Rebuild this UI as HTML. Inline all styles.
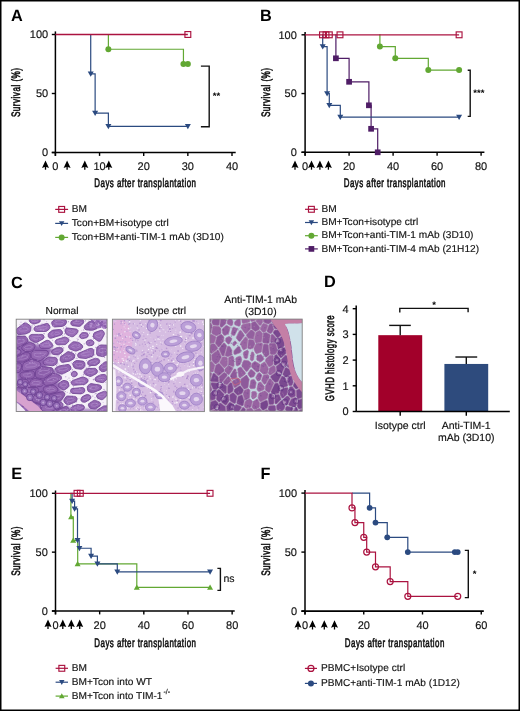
<!DOCTYPE html>
<html><head><meta charset="utf-8"><title>Figure</title>
<style>html,body{margin:0;padding:0;background:#fff;width:520px;height:711px;overflow:hidden} svg,text{font-family:"Liberation Sans",sans-serif;text-rendering:geometricPrecision}</style>
</head><body>
<svg width="520" height="711" viewBox="0 0 520 711" style="display:block;will-change:transform">
<rect x="0" y="0" width="520" height="711" fill="#fff"/>
<text transform="translate(10.90,20.70)" font-size="16.3" text-anchor="start" font-weight="bold" fill="#000" >A</text>
<line x1="55.40" y1="31.40" x2="55.40" y2="155.90" stroke="#000" stroke-width="1.5"/>
<line x1="51.80" y1="152.50" x2="235.70" y2="152.50" stroke="#000" stroke-width="1.6"/>
<line x1="51.80" y1="34.50" x2="55.40" y2="34.50" stroke="#000" stroke-width="1.4"/>
<text transform="translate(48.20,38.40)" font-size="11" text-anchor="end" font-weight="normal" fill="#111"  stroke="#111" stroke-width="0.15">100</text>
<line x1="51.80" y1="93.50" x2="55.40" y2="93.50" stroke="#000" stroke-width="1.4"/>
<text transform="translate(48.20,97.40)" font-size="11" text-anchor="end" font-weight="normal" fill="#111"  stroke="#111" stroke-width="0.15">50</text>
<line x1="51.80" y1="152.50" x2="55.40" y2="152.50" stroke="#000" stroke-width="1.4"/>
<text transform="translate(48.20,156.40)" font-size="11" text-anchor="end" font-weight="normal" fill="#111"  stroke="#111" stroke-width="0.15">0</text>
<line x1="55.40" y1="152.50" x2="55.40" y2="155.90" stroke="#000" stroke-width="1.4"/>
<text transform="translate(55.40,169.80)" font-size="11" text-anchor="middle" font-weight="normal" fill="#111"  stroke="#111" stroke-width="0.15">0</text>
<line x1="99.55" y1="152.50" x2="99.55" y2="155.90" stroke="#000" stroke-width="1.4"/>
<text transform="translate(99.55,169.80)" font-size="11" text-anchor="middle" font-weight="normal" fill="#111"  stroke="#111" stroke-width="0.15">10</text>
<line x1="143.70" y1="152.50" x2="143.70" y2="155.90" stroke="#000" stroke-width="1.4"/>
<text transform="translate(143.70,169.80)" font-size="11" text-anchor="middle" font-weight="normal" fill="#111"  stroke="#111" stroke-width="0.15">20</text>
<line x1="187.85" y1="152.50" x2="187.85" y2="155.90" stroke="#000" stroke-width="1.4"/>
<text transform="translate(187.85,169.80)" font-size="11" text-anchor="middle" font-weight="normal" fill="#111"  stroke="#111" stroke-width="0.15">30</text>
<line x1="232.00" y1="152.50" x2="232.00" y2="155.90" stroke="#000" stroke-width="1.4"/>
<text transform="translate(232.00,169.80)" font-size="11" text-anchor="middle" font-weight="normal" fill="#111"  stroke="#111" stroke-width="0.15">40</text>
<path d="M45.50,160.40 L49.00,167.90 L45.50,166.80 L42.00,167.90 Z" fill="#000"/>
<line x1="45.50" y1="164.40" x2="45.50" y2="169.70" stroke="#000" stroke-width="1.3"/>
<path d="M67.10,160.40 L70.60,167.90 L67.10,166.80 L63.60,167.90 Z" fill="#000"/>
<line x1="67.10" y1="164.40" x2="67.10" y2="169.70" stroke="#000" stroke-width="1.3"/>
<path d="M84.80,160.40 L88.30,167.90 L84.80,166.80 L81.30,167.90 Z" fill="#000"/>
<line x1="84.80" y1="164.40" x2="84.80" y2="169.70" stroke="#000" stroke-width="1.3"/>
<path d="M108.80,160.40 L112.30,167.90 L108.80,166.80 L105.30,167.90 Z" fill="#000"/>
<line x1="108.80" y1="164.40" x2="108.80" y2="169.70" stroke="#000" stroke-width="1.3"/>
<text transform="translate(20.40,92.30) rotate(-90) scale(0.67,1)" font-size="12.2" text-anchor="middle" font-weight="normal" fill="#111" stroke="#111" stroke-width="0.6" letter-spacing="0.7">Survival (%)</text>
<text transform="translate(145.40,187.00) scale(0.65,1)" font-size="12.2" text-anchor="middle" font-weight="normal" fill="#111" stroke="#111" stroke-width="0.6" letter-spacing="0.7">Days after transplantation</text>
<path d="M107.78,34.50 H108.38 V49.25 H183.44 V64.00 H187.85" stroke="#62a833" stroke-width="1.2" fill="none" stroke-linejoin="miter" stroke-linecap="butt"/>
<circle cx="108.38" cy="49.25" r="3.0" fill="#62a833"/>
<circle cx="183.44" cy="64.00" r="3.0" fill="#62a833"/>
<circle cx="187.85" cy="64.00" r="3.0" fill="#62a833"/>
<path d="M90.12,34.50 H90.72 V73.79 H95.13 V113.21 H108.38 V126.30 H187.85" stroke="#2b4a80" stroke-width="1.2" fill="none" stroke-linejoin="miter" stroke-linecap="butt"/>
<polygon points="87.72,71.45 93.72,71.45 90.72,76.65" fill="#2b4a80"/>
<polygon points="92.13,110.87 98.13,110.87 95.13,116.07" fill="#2b4a80"/>
<polygon points="105.38,123.96 111.38,123.96 108.38,129.16" fill="#2b4a80"/>
<polygon points="184.85,123.96 190.85,123.96 187.85,129.16" fill="#2b4a80"/>
<path d="M55.4,34.50 H187.85" stroke="#ab1340" stroke-width="1.35" fill="none" stroke-linejoin="miter" stroke-linecap="butt"/>
<rect x="184.92" y="31.57" width="5.85" height="5.85" fill="none" stroke="#ab1340" stroke-width="1.15"/>
<path d="M200.9,66.1 H209.2 V126.8 H200.9" stroke="#111" stroke-width="1.4" fill="none" stroke-linejoin="miter" stroke-linecap="butt"/>
<text transform="translate(216.40,99.30)" font-size="9.5" text-anchor="middle" font-weight="bold" fill="#000" >**</text>
<line x1="55.20" y1="209.40" x2="68.10" y2="209.40" stroke="#ab1340" stroke-width="1.2"/>
<rect x="58.73" y="206.47" width="5.85" height="5.85" fill="none" stroke="#ab1340" stroke-width="1.15"/>
<text transform="translate(71.80,212.00) scale(1.013,1)" font-size="10" text-anchor="start" font-weight="normal" fill="#111" stroke="#111" stroke-width="0.15">BM</text>
<line x1="55.20" y1="223.40" x2="68.10" y2="223.40" stroke="#2b4a80" stroke-width="1.2"/>
<polygon points="58.95,221.19 64.35,221.19 61.65,226.09" fill="#2b4a80"/>
<text transform="translate(71.80,226.00) scale(1.013,1)" font-size="10" text-anchor="start" font-weight="normal" fill="#111" stroke="#111" stroke-width="0.15">Tcon+BM+isotype ctrl</text>
<line x1="55.20" y1="237.40" x2="68.10" y2="237.40" stroke="#62a833" stroke-width="1.2"/>
<circle cx="61.65" cy="237.40" r="3.0" fill="#62a833"/>
<text transform="translate(71.80,240.00) scale(1.013,1)" font-size="10" text-anchor="start" font-weight="normal" fill="#111" stroke="#111" stroke-width="0.15">Tcon+BM+anti-TIM-1 mAb (3D10)</text>
<text transform="translate(260.10,20.80)" font-size="16.3" text-anchor="start" font-weight="bold" fill="#000" >B</text>
<line x1="305.10" y1="32.00" x2="305.10" y2="155.70" stroke="#000" stroke-width="1.5"/>
<line x1="301.50" y1="152.30" x2="484.40" y2="152.30" stroke="#000" stroke-width="1.6"/>
<line x1="301.50" y1="34.80" x2="305.10" y2="34.80" stroke="#000" stroke-width="1.4"/>
<text transform="translate(296.80,38.70)" font-size="11" text-anchor="end" font-weight="normal" fill="#111"  stroke="#111" stroke-width="0.15">100</text>
<line x1="301.50" y1="93.55" x2="305.10" y2="93.55" stroke="#000" stroke-width="1.4"/>
<text transform="translate(296.80,97.45)" font-size="11" text-anchor="end" font-weight="normal" fill="#111"  stroke="#111" stroke-width="0.15">50</text>
<line x1="301.50" y1="152.30" x2="305.10" y2="152.30" stroke="#000" stroke-width="1.4"/>
<text transform="translate(296.80,156.20)" font-size="11" text-anchor="end" font-weight="normal" fill="#111"  stroke="#111" stroke-width="0.15">0</text>
<line x1="305.10" y1="152.30" x2="305.10" y2="155.70" stroke="#000" stroke-width="1.4"/>
<text transform="translate(305.10,169.50)" font-size="11" text-anchor="middle" font-weight="normal" fill="#111"  stroke="#111" stroke-width="0.15">0</text>
<line x1="349.10" y1="152.30" x2="349.10" y2="155.70" stroke="#000" stroke-width="1.4"/>
<text transform="translate(349.10,169.50)" font-size="11" text-anchor="middle" font-weight="normal" fill="#111"  stroke="#111" stroke-width="0.15">20</text>
<line x1="393.10" y1="152.30" x2="393.10" y2="155.70" stroke="#000" stroke-width="1.4"/>
<text transform="translate(393.10,169.50)" font-size="11" text-anchor="middle" font-weight="normal" fill="#111"  stroke="#111" stroke-width="0.15">40</text>
<line x1="437.10" y1="152.30" x2="437.10" y2="155.70" stroke="#000" stroke-width="1.4"/>
<text transform="translate(437.10,169.50)" font-size="11" text-anchor="middle" font-weight="normal" fill="#111"  stroke="#111" stroke-width="0.15">60</text>
<line x1="481.10" y1="152.30" x2="481.10" y2="155.70" stroke="#000" stroke-width="1.4"/>
<text transform="translate(481.10,169.50)" font-size="11" text-anchor="middle" font-weight="normal" fill="#111"  stroke="#111" stroke-width="0.15">80</text>
<path d="M295.00,160.40 L298.50,167.90 L295.00,166.80 L291.50,167.90 Z" fill="#000"/>
<line x1="295.00" y1="164.40" x2="295.00" y2="169.70" stroke="#000" stroke-width="1.3"/>
<path d="M311.50,160.40 L315.00,167.90 L311.50,166.80 L308.00,167.90 Z" fill="#000"/>
<line x1="311.50" y1="164.40" x2="311.50" y2="169.70" stroke="#000" stroke-width="1.3"/>
<path d="M319.90,160.40 L323.40,167.90 L319.90,166.80 L316.40,167.90 Z" fill="#000"/>
<line x1="319.90" y1="164.40" x2="319.90" y2="169.70" stroke="#000" stroke-width="1.3"/>
<path d="M328.40,160.40 L331.90,167.90 L328.40,166.80 L324.90,167.90 Z" fill="#000"/>
<line x1="328.40" y1="164.40" x2="328.40" y2="169.70" stroke="#000" stroke-width="1.3"/>
<text transform="translate(270.40,92.30) rotate(-90) scale(0.67,1)" font-size="12.2" text-anchor="middle" font-weight="normal" fill="#111" stroke="#111" stroke-width="0.6" letter-spacing="0.7">Survival (%)</text>
<text transform="translate(394.80,187.00) scale(0.65,1)" font-size="12.2" text-anchor="middle" font-weight="normal" fill="#111" stroke="#111" stroke-width="0.6" letter-spacing="0.7">Days after transplantation</text>
<path d="M335.30,34.80 H335.90 V58.30 H349.10 V81.80 H368.90 V105.30 H371.10 V128.80 H377.70 V152.30 H377.70" stroke="#4f1d66" stroke-width="1.2" fill="none" stroke-linejoin="miter" stroke-linecap="butt"/>
<rect x="333.05" y="55.45" width="5.7" height="5.7" fill="#4f1d66"/>
<rect x="346.25" y="78.95" width="5.7" height="5.7" fill="#4f1d66"/>
<rect x="366.05" y="102.45" width="5.7" height="5.7" fill="#4f1d66"/>
<rect x="368.25" y="125.95" width="5.7" height="5.7" fill="#4f1d66"/>
<rect x="374.85" y="149.45" width="5.7" height="5.7" fill="#4f1d66"/>
<path d="M379.30,34.80 H379.90 V46.55 H395.30 V58.30 H428.30 V70.05 H459.10" stroke="#62a833" stroke-width="1.2" fill="none" stroke-linejoin="miter" stroke-linecap="butt"/>
<circle cx="379.90" cy="46.55" r="3.0" fill="#62a833"/>
<circle cx="395.30" cy="58.30" r="3.0" fill="#62a833"/>
<circle cx="428.30" cy="70.05" r="3.0" fill="#62a833"/>
<circle cx="459.10" cy="70.05" r="3.0" fill="#62a833"/>
<path d="M322.10,34.80 H322.70 V46.55 H327.10 V93.55 H329.30 V105.30 H340.30 V117.05 H459.10" stroke="#2b4a80" stroke-width="1.2" fill="none" stroke-linejoin="miter" stroke-linecap="butt"/>
<polygon points="319.70,44.21 325.70,44.21 322.70,49.41" fill="#2b4a80"/>
<polygon points="324.10,91.21 330.10,91.21 327.10,96.41" fill="#2b4a80"/>
<polygon points="326.30,102.96 332.30,102.96 329.30,108.16" fill="#2b4a80"/>
<polygon points="337.30,114.71 343.30,114.71 340.30,119.91" fill="#2b4a80"/>
<polygon points="456.10,114.71 462.10,114.71 459.10,119.91" fill="#2b4a80"/>
<path d="M305.1,34.80 H459.10" stroke="#ab1340" stroke-width="1.35" fill="none" stroke-linejoin="miter" stroke-linecap="butt"/>
<rect x="319.57" y="31.88" width="5.85" height="5.85" fill="none" stroke="#ab1340" stroke-width="1.15"/>
<rect x="323.07" y="31.88" width="5.85" height="5.85" fill="none" stroke="#ab1340" stroke-width="1.15"/>
<rect x="326.38" y="31.88" width="5.85" height="5.85" fill="none" stroke="#ab1340" stroke-width="1.15"/>
<rect x="337.07" y="31.88" width="5.85" height="5.85" fill="none" stroke="#ab1340" stroke-width="1.15"/>
<rect x="456.18" y="31.88" width="5.85" height="5.85" fill="none" stroke="#ab1340" stroke-width="1.15"/>
<path d="M467.7,70.3 H470.2 V116.4 H467.7" stroke="#111" stroke-width="1.4" fill="none" stroke-linejoin="miter" stroke-linecap="butt"/>
<text transform="translate(478.90,96.20)" font-size="9.5" text-anchor="middle" font-weight="bold" fill="#000" >***</text>
<line x1="305.00" y1="209.30" x2="317.80" y2="209.30" stroke="#ab1340" stroke-width="1.2"/>
<rect x="308.47" y="206.38" width="5.85" height="5.85" fill="none" stroke="#ab1340" stroke-width="1.15"/>
<text transform="translate(321.40,211.90) scale(1.013,1)" font-size="10" text-anchor="start" font-weight="normal" fill="#111" stroke="#111" stroke-width="0.15">BM</text>
<line x1="305.00" y1="222.50" x2="317.80" y2="222.50" stroke="#2b4a80" stroke-width="1.2"/>
<polygon points="308.70,220.29 314.10,220.29 311.40,225.19" fill="#2b4a80"/>
<text transform="translate(321.40,225.10) scale(1.013,1)" font-size="10" text-anchor="start" font-weight="normal" fill="#111" stroke="#111" stroke-width="0.15">BM+Tcon+isotype ctrl</text>
<line x1="305.00" y1="235.70" x2="317.80" y2="235.70" stroke="#62a833" stroke-width="1.2"/>
<circle cx="311.40" cy="235.70" r="3.0" fill="#62a833"/>
<text transform="translate(321.40,238.30) scale(1.013,1)" font-size="10" text-anchor="start" font-weight="normal" fill="#111" stroke="#111" stroke-width="0.15">BM+Tcon+anti-TIM-1 mAb (3D10)</text>
<line x1="305.00" y1="248.90" x2="317.80" y2="248.90" stroke="#4f1d66" stroke-width="1.2"/>
<rect x="308.55" y="246.05" width="5.7" height="5.7" fill="#4f1d66"/>
<text transform="translate(321.40,251.50) scale(1.013,1)" font-size="10" text-anchor="start" font-weight="normal" fill="#111" stroke="#111" stroke-width="0.15">BM+Tcon+anti-TIM-4 mAb (21H12)</text>
<text transform="translate(10.90,287.50)" font-size="16.3" text-anchor="start" font-weight="bold" fill="#000" >C</text>
<defs><filter id="hb" x="-5%" y="-5%" width="110%" height="110%"><feGaussianBlur stdDeviation="0.45"/></filter><filter id="hb2" x="-10%" y="-10%" width="120%" height="120%"><feGaussianBlur stdDeviation="1.6"/></filter>
<clipPath id="c0"><rect x="16.2" y="319.2" width="90.9" height="92.3"/></clipPath>
<clipPath id="c1"><rect x="112.4" y="319.2" width="92.0" height="92.4"/></clipPath>
<clipPath id="c2"><rect x="209.9" y="319.1" width="92.3" height="92.1"/></clipPath>
</defs>
<g clip-path="url(#c0)"><g transform="translate(16.2,319.2)" filter="url(#hb)">
<rect x="-1" y="-1" width="94" height="95" fill="#f5f0f8"/>
<g filter="url(#hb2)"><path d="M0.0,14.0 L8.0,20.0 L22.0,26.0 L38.0,30.0 L30.0,40.0 L30.0,48.0 L44.0,54.0 L42.0,64.0 L48.0,76.0 L42.0,86.0 L60.0,90.0 L92.0,90.0 L92.0,93.0 L0.0,93.0 Z" fill="#9063b0"/></g>
<path d="M2.1,89.4 L-0.6,89.3 L-1.5,89.7 L-2.4,90.9 L-2.5,91.6 L-2.5,93.2 L-2.1,94.4 L-1.2,95.2 L-0.2,95.5 L3.0,95.5 L4.2,95.1 L4.9,94.4 L5.3,93.4 L5.3,92.4 L4.9,91.5 L2.9,89.6 Z" fill="#9062ae" stroke="#6b3f8f" stroke-width="0.8"/>
<path d="M1.7,91.4 L0.2,91.4 L-0.4,91.5 L-0.9,91.9 L-1.0,92.2 L-1.0,92.8 L-0.8,93.2 L-0.2,93.5 L0.4,93.6 L2.3,93.6 L3.0,93.4 L3.4,93.2 L3.7,92.9 L3.7,92.5 L3.4,92.2 L2.2,91.5 Z" fill="none" stroke="#b391cf" stroke-width="0.6"/>
<path d="M-2.5,75.9 L-2.4,76.9 L-1.8,77.7 L-1.0,78.3 L-0.2,78.5 L0.8,78.4 L4.5,76.9 L5.2,76.1 L5.6,75.1 L6.2,71.6 L6.2,70.9 L5.8,69.9 L4.6,69.0 L1.4,68.4 L0.4,68.6 L-1.5,69.6 L-2.1,70.3 L-2.5,71.2 Z" fill="#9467b2" stroke="#6b3f8f" stroke-width="0.8"/>
<path d="M-0.9,74.2 L-0.8,74.5 L-0.4,74.8 L0.1,75.0 L0.5,75.1 L1.1,75.1 L3.3,74.5 L3.8,74.3 L4.0,73.9 L4.4,72.7 L4.3,72.4 L4.1,72.1 L3.4,71.8 L1.5,71.6 L0.9,71.6 L-0.2,72.0 L-0.6,72.3 L-0.9,72.6 Z" fill="none" stroke="#b391cf" stroke-width="0.6"/>
<path d="M2.3,88.4 L3.5,88.2 L13.9,83.5 L14.6,82.7 L14.9,81.7 L14.9,80.7 L14.3,79.5 L13.6,78.9 L12.9,78.6 L6.0,77.5 L5.1,77.6 L-0.8,80.1 L-1.6,81.0 L-1.8,82.3 L-0.8,86.7 L-0.3,87.5 L0.3,88.0 L1.0,88.3 Z" fill="#9467b2" stroke="#6b3f8f" stroke-width="0.8"/>
<path d="M3.7,84.6 L4.5,84.5 L10.7,82.9 L11.1,82.6 L11.3,82.3 L11.3,81.9 L10.9,81.5 L10.5,81.3 L10.1,81.2 L5.9,80.8 L5.4,80.8 L1.9,81.7 L1.4,82.0 L1.3,82.4 L1.9,84.0 L2.2,84.3 L2.6,84.5 L3.0,84.6 Z" fill="none" stroke="#b391cf" stroke-width="0.6"/>
<path d="M1.8,53.5 L3.4,52.9 L4.4,51.7 L5.4,46.8 L5.4,45.8 L4.8,44.6 L3.8,43.9 L-0.6,43.6 L-1.6,44.2 L-2.4,45.4 L-2.5,51.5 L-2.0,52.6 L-1.0,53.3 L-0.1,53.6 Z" fill="#9062ae" stroke="#6b3f8f" stroke-width="0.8"/>
<path d="M1.6,50.2 L2.6,50.0 L3.1,49.6 L3.8,47.9 L3.7,47.5 L3.4,47.1 L2.8,46.8 L0.2,46.7 L-0.5,46.9 L-1.0,47.4 L-1.0,49.5 L-0.7,49.9 L-0.1,50.1 L0.5,50.2 Z" fill="none" stroke="#b391cf" stroke-width="0.6"/>
<path d="M0.5,29.1 L-0.5,29.2 L-1.6,29.7 L-2.3,30.5 L-2.5,31.4 L-2.5,34.0 L-2.4,34.8 L-1.6,35.8 L-0.3,36.4 L1.0,36.2 L3.7,34.8 L4.4,34.1 L4.9,32.9 L4.7,31.7 L3.9,30.6 L1.6,29.4 Z" fill="#9467b2" stroke="#6b3f8f" stroke-width="0.8"/>
<path d="M0.6,31.4 L0.0,31.5 L-0.6,31.6 L-1.0,31.9 L-1.2,32.3 L-1.2,33.2 L-1.1,33.4 L-0.6,33.8 L0.2,34.0 L0.9,33.9 L2.6,33.4 L3.0,33.2 L3.3,32.8 L3.2,32.3 L2.7,32.0 L1.3,31.5 Z" fill="none" stroke="#b391cf" stroke-width="0.6"/>
<path d="M1.3,63.5 L0.8,64.4 L0.7,65.4 L1.0,66.4 L1.7,67.1 L2.8,67.7 L7.1,68.4 L9.5,67.7 L10.3,67.1 L12.1,63.8 L12.2,62.5 L11.8,61.3 L10.8,60.5 L5.4,59.7 L4.4,59.9 L3.8,60.3 Z" fill="#9062ae" stroke="#6b3f8f" stroke-width="0.8"/>
<path d="M3.4,63.9 L3.1,64.2 L3.1,64.5 L3.2,64.9 L3.6,65.1 L4.3,65.3 L6.9,65.6 L8.3,65.3 L8.8,65.1 L9.9,64.0 L10.0,63.5 L9.7,63.1 L9.1,62.8 L5.9,62.5 L5.3,62.6 L4.9,62.8 Z" fill="none" stroke="#b391cf" stroke-width="0.6"/>
<path d="M7.1,92.3 L7.9,92.8 L8.9,93.0 L22.3,91.7 L23.4,91.0 L24.0,90.2 L24.6,88.0 L24.5,86.7 L23.8,85.7 L23.0,85.1 L17.1,83.5 L15.9,83.6 L7.2,87.5 L6.4,88.1 L5.8,89.2 L5.7,90.2 L6.2,91.3 Z" fill="#9467b2" stroke="#6b3f8f" stroke-width="0.8"/>
<path d="M10.4,89.9 L10.9,90.1 L11.5,90.2 L19.6,89.7 L20.2,89.5 L20.6,89.2 L20.9,88.4 L20.9,88.0 L20.5,87.6 L20.0,87.4 L16.5,86.8 L15.7,86.9 L10.5,88.2 L10.0,88.4 L9.7,88.8 L9.6,89.2 L9.9,89.6 Z" fill="none" stroke="#b391cf" stroke-width="0.6"/>
<path d="M7.3,70.8 L6.7,74.7 L7.0,75.7 L8.1,76.7 L13.2,77.7 L14.1,77.7 L15.0,77.3 L21.6,72.9 L22.4,71.9 L22.5,70.4 L21.8,69.1 L20.5,68.4 L10.4,68.3 L8.5,69.0 L7.6,69.9 Z" fill="#9062ae" stroke="#6b3f8f" stroke-width="0.8"/>
<path d="M10.0,71.9 L9.6,73.3 L9.8,73.6 L10.5,74.0 L13.5,74.3 L14.1,74.3 L14.6,74.2 L18.6,72.6 L19.0,72.3 L19.1,71.8 L18.7,71.3 L17.9,71.0 L11.9,71.0 L10.7,71.3 L10.2,71.6 Z" fill="none" stroke="#b391cf" stroke-width="0.6"/>
<path d="M-0.6,18.3 L-1.4,19.2 L-1.7,20.1 L-1.7,25.9 L-1.1,27.3 L0.2,28.2 L1.4,28.3 L2.4,28.0 L10.7,23.3 L11.2,22.8 L11.7,21.8 L11.7,20.8 L11.4,19.9 L10.1,17.7 L8.9,16.9 L7.9,16.8 L0.9,17.4 Z" fill="#9062ae" stroke="#6b3f8f" stroke-width="0.8"/>
<path d="M1.3,20.7 L0.9,21.0 L0.7,21.3 L0.7,23.3 L1.1,23.8 L1.8,24.1 L2.6,24.2 L3.1,24.1 L8.1,22.4 L8.4,22.2 L8.7,21.9 L8.8,21.6 L8.6,21.2 L7.8,20.5 L7.0,20.2 L6.5,20.2 L2.3,20.4 Z" fill="none" stroke="#b391cf" stroke-width="0.6"/>
<path d="M-0.1,37.8 L-1.0,38.6 L-1.5,39.7 L-1.4,41.0 L-0.7,42.0 L0.7,42.7 L6.1,42.9 L7.1,42.7 L13.0,39.9 L13.8,39.0 L14.2,37.5 L13.8,35.0 L13.1,34.0 L12.0,33.4 L9.5,33.2 L8.5,33.5 Z" fill="#8c5eab" stroke="#6b3f8f" stroke-width="0.8"/>
<path d="M2.7,38.2 L2.1,38.5 L1.8,38.9 L1.9,39.3 L2.3,39.7 L3.1,39.9 L6.3,40.0 L6.9,39.9 L10.5,38.9 L11.0,38.6 L11.2,38.1 L11.0,37.2 L10.6,36.8 L9.9,36.6 L8.4,36.6 L7.8,36.7 Z" fill="none" stroke="#b391cf" stroke-width="0.6"/>
<path d="M15.7,80.3 L16.8,82.2 L17.9,82.8 L25.1,84.7 L26.4,84.6 L28.5,83.5 L29.3,82.6 L31.2,77.2 L31.1,75.7 L30.3,74.6 L26.8,72.2 L25.6,71.9 L24.6,72.1 L16.2,77.7 L15.8,78.4 L15.6,79.3 Z" fill="#8c5eab" stroke="#6b3f8f" stroke-width="0.8"/>
<path d="M19.0,79.2 L19.7,79.9 L20.3,80.1 L24.6,80.8 L25.4,80.7 L26.7,80.4 L27.1,80.0 L28.3,78.2 L28.2,77.6 L27.8,77.2 L25.7,76.4 L24.9,76.3 L24.3,76.4 L19.3,78.3 L19.1,78.6 L18.9,78.9 Z" fill="none" stroke="#b391cf" stroke-width="0.6"/>
<path d="M5.9,53.0 L5.0,53.3 L4.4,53.8 L3.9,54.7 L3.7,55.4 L3.8,56.2 L4.3,57.5 L4.9,58.3 L5.6,58.7 L14.1,59.9 L17.1,58.8 L17.6,58.3 L18.1,57.4 L18.3,53.6 L17.7,52.5 L16.6,51.8 L15.4,51.7 Z" fill="#8c5eab" stroke="#6b3f8f" stroke-width="0.8"/>
<path d="M8.1,54.8 L7.6,54.9 L7.2,55.1 L6.9,55.4 L6.8,55.6 L6.8,55.9 L7.1,56.4 L7.6,56.7 L8.0,56.8 L13.1,57.2 L14.8,56.8 L15.2,56.6 L15.5,56.3 L15.6,55.0 L15.2,54.6 L14.6,54.4 L13.8,54.3 Z" fill="none" stroke="#b391cf" stroke-width="0.6"/>
<path d="M8.6,32.0 L9.7,32.3 L13.6,32.4 L14.4,32.2 L16.9,30.6 L17.9,29.7 L18.7,27.5 L18.8,26.5 L18.4,25.3 L17.2,24.4 L14.3,23.2 L13.3,23.1 L12.3,23.4 L6.6,26.6 L6.0,27.2 L5.6,28.1 L5.5,28.8 L5.7,29.8 L6.4,30.8 Z" fill="#9062ae" stroke="#6b3f8f" stroke-width="0.8"/>
<path d="M10.1,29.4 L10.8,29.5 L13.1,29.6 L13.6,29.5 L15.1,28.9 L15.7,28.6 L16.2,27.9 L16.3,27.5 L16.0,27.1 L15.3,26.8 L13.5,26.3 L12.9,26.3 L12.3,26.4 L8.9,27.5 L8.6,27.7 L8.3,28.0 L8.2,28.3 L8.4,28.6 L8.8,29.0 Z" fill="none" stroke="#b391cf" stroke-width="0.6"/>
<path d="M6.0,48.6 L6.0,49.6 L6.4,50.6 L7.2,51.3 L8.1,51.7 L18.6,50.3 L23.7,47.5 L24.5,46.2 L24.5,44.9 L23.8,43.3 L22.8,42.5 L16.0,40.3 L14.7,40.2 L7.5,43.6 L6.8,44.8 Z" fill="#9467b2" stroke="#6b3f8f" stroke-width="0.8"/>
<path d="M9.5,47.0 L9.5,47.3 L9.8,47.7 L10.2,47.9 L10.8,48.0 L17.1,47.6 L20.1,46.6 L20.6,46.1 L20.6,45.7 L20.2,45.1 L19.6,44.8 L15.5,44.0 L14.8,44.0 L10.4,45.2 L10.0,45.6 Z" fill="none" stroke="#b391cf" stroke-width="0.6"/>
<path d="M15.5,60.4 L14.4,61.4 L13.0,64.3 L13.1,65.8 L13.5,66.4 L14.3,67.1 L15.5,67.4 L24.3,67.4 L25.5,67.0 L26.4,66.1 L26.7,65.1 L26.6,62.4 L26.2,61.5 L25.3,60.6 L18.9,59.2 L18.2,59.4 Z" fill="#9062ae" stroke="#6b3f8f" stroke-width="0.8"/>
<path d="M17.3,62.6 L16.6,62.9 L15.8,63.9 L15.9,64.4 L16.1,64.7 L16.6,64.9 L17.3,65.0 L22.6,65.0 L23.3,64.9 L23.8,64.5 L24.0,64.2 L24.0,63.3 L23.7,62.9 L23.2,62.6 L19.4,62.2 L18.9,62.2 Z" fill="none" stroke="#b391cf" stroke-width="0.6"/>
<path d="M0.5,13.7 L1.5,14.9 L2.9,15.4 L9.3,14.8 L12.9,13.3 L13.9,12.5 L14.4,11.6 L14.8,8.6 L14.6,7.3 L14.0,6.5 L10.4,4.0 L9.2,3.7 L8.0,3.9 L0.3,9.8 L-0.1,10.5 L-0.2,11.5 Z" fill="#9668b4" stroke="#6b3f8f" stroke-width="0.8"/>
<path d="M3.4,11.4 L3.9,11.8 L4.8,11.9 L8.6,11.7 L10.8,11.2 L11.4,10.9 L11.7,10.6 L12.0,9.6 L11.8,9.1 L11.4,8.8 L9.3,8.0 L8.6,7.8 L7.9,7.9 L3.2,10.0 L3.0,10.2 L2.9,10.6 Z" fill="none" stroke="#b391cf" stroke-width="0.6"/>
<path d="M15.2,-1.5 L14.3,-1.1 L13.6,-0.4 L13.1,0.5 L13.1,1.5 L13.8,2.9 L16.3,4.6 L17.8,4.8 L22.2,3.6 L23.1,3.2 L23.9,2.2 L24.1,1.2 L24.0,0.2 L23.4,-0.6 L22.4,-1.4 L21.3,-1.6 Z" fill="#9668b4" stroke="#6b3f8f" stroke-width="0.8"/>
<path d="M16.6,0.4 L16.0,0.5 L15.6,0.7 L15.3,1.1 L15.3,1.4 L15.7,1.9 L17.2,2.5 L18.1,2.6 L20.7,2.1 L21.3,2.0 L21.8,1.6 L21.9,1.3 L21.8,0.9 L21.5,0.6 L20.9,0.4 L20.2,0.3 Z" fill="none" stroke="#b391cf" stroke-width="0.6"/>
<path d="M15.1,37.5 L15.6,38.7 L16.6,39.5 L22.8,41.5 L24.0,41.5 L24.9,41.1 L31.3,36.2 L31.9,35.0 L32.1,33.8 L32.0,33.0 L31.2,31.8 L29.8,31.2 L18.2,31.1 L15.8,32.4 L15.0,33.4 L14.7,34.6 Z" fill="#9467b2" stroke="#6b3f8f" stroke-width="0.8"/>
<path d="M18.3,36.3 L18.6,36.7 L19.2,37.0 L22.9,37.7 L23.6,37.7 L24.2,37.5 L28.0,35.8 L28.4,35.4 L28.5,35.0 L28.4,34.7 L27.9,34.3 L27.1,34.0 L20.1,34.0 L18.7,34.5 L18.2,34.8 L18.1,35.3 Z" fill="none" stroke="#b391cf" stroke-width="0.6"/>
<path d="M19.2,56.1 L19.6,57.6 L20.8,58.6 L25.9,59.7 L27.2,59.7 L36.4,53.5 L36.8,52.9 L37.1,52.1 L36.8,50.1 L36.1,49.0 L35.0,48.4 L26.9,47.4 L25.7,47.5 L20.7,50.3 L19.9,51.0 L19.4,52.2 Z" fill="#8c5eab" stroke="#6b3f8f" stroke-width="0.8"/>
<path d="M22.5,54.2 L22.7,54.7 L23.4,55.1 L26.5,55.5 L27.3,55.5 L32.8,53.3 L33.1,53.1 L33.2,52.8 L33.1,52.1 L32.6,51.7 L32.0,51.5 L27.1,51.1 L26.4,51.2 L23.4,52.2 L22.9,52.4 L22.6,52.8 Z" fill="none" stroke="#b391cf" stroke-width="0.6"/>
<path d="M13.0,18.6 L14.3,21.0 L15.2,21.5 L19.2,23.2 L20.5,23.2 L27.0,19.7 L27.8,18.4 L27.8,17.2 L27.1,15.9 L25.8,15.2 L15.8,15.2 L14.0,15.9 L13.1,17.1 Z" fill="#9668b4" stroke="#6b3f8f" stroke-width="0.8"/>
<path d="M15.9,18.6 L16.7,19.4 L17.2,19.6 L19.6,20.2 L20.4,20.2 L24.3,19.0 L24.8,18.5 L24.8,18.1 L24.4,17.6 L23.6,17.4 L17.5,17.4 L16.5,17.7 L15.9,18.1 Z" fill="none" stroke="#b391cf" stroke-width="0.6"/>
<path d="M29.2,67.3 L28.0,67.8 L27.3,68.6 L27.0,69.8 L27.2,70.8 L27.9,71.9 L32.1,74.6 L33.3,74.7 L40.0,73.0 L41.0,72.3 L41.6,71.4 L41.6,70.1 L41.1,68.9 L38.5,66.7 L37.7,66.3 L36.5,66.2 Z" fill="#9062ae" stroke="#6b3f8f" stroke-width="0.8"/>
<path d="M31.3,69.2 L30.6,69.4 L30.1,69.7 L29.9,70.1 L30.0,70.5 L30.5,70.8 L33.0,71.8 L33.7,71.8 L37.7,71.2 L38.4,71.0 L38.7,70.7 L38.7,70.2 L38.4,69.8 L36.9,69.1 L36.4,68.9 L35.6,68.9 Z" fill="none" stroke="#b391cf" stroke-width="0.6"/>
<path d="M26.0,86.6 L25.2,89.5 L25.4,90.5 L26.0,91.3 L26.8,91.9 L33.2,92.7 L34.0,92.7 L45.5,87.9 L46.5,86.8 L46.8,85.3 L46.6,84.5 L46.0,83.7 L45.3,83.1 L44.2,82.8 L29.7,84.1 L26.6,85.7 Z" fill="#9467b2" stroke="#6b3f8f" stroke-width="0.8"/>
<path d="M29.8,87.2 L29.3,88.2 L29.4,88.5 L29.8,88.8 L30.3,89.0 L34.1,89.3 L34.6,89.3 L41.5,87.6 L42.1,87.2 L42.3,86.7 L42.1,86.4 L41.8,86.1 L41.3,85.9 L40.7,85.8 L32.0,86.3 L30.1,86.8 Z" fill="none" stroke="#b391cf" stroke-width="0.6"/>
<path d="M27.9,41.1 L27.0,42.4 L27.0,43.9 L27.6,45.0 L28.9,45.7 L36.8,46.6 L40.1,45.0 L40.6,44.4 L41.0,43.5 L41.1,40.9 L41.0,39.9 L40.2,38.9 L39.0,38.3 L33.5,37.8 L32.6,37.9 L31.7,38.3 Z" fill="#9668b4" stroke="#6b3f8f" stroke-width="0.8"/>
<path d="M30.5,41.9 L30.0,42.3 L29.9,42.8 L30.3,43.2 L31.1,43.5 L35.8,43.8 L37.8,43.2 L38.1,43.0 L38.4,42.7 L38.5,41.8 L38.3,41.4 L37.9,41.1 L37.2,40.9 L33.9,40.7 L33.3,40.7 L32.8,40.9 Z" fill="none" stroke="#b391cf" stroke-width="0.6"/>
<path d="M30.0,4.4 L19.0,7.5 L18.3,8.2 L17.9,8.9 L17.8,9.9 L18.1,10.9 L18.6,11.5 L19.4,12.1 L20.2,12.3 L29.0,12.3 L29.9,12.2 L32.9,10.1 L33.5,9.3 L33.8,8.3 L33.6,7.3 L32.8,5.5 L31.9,4.6 L30.9,4.3 Z" fill="#9a6cb7" stroke="#6b3f8f" stroke-width="0.8"/>
<path d="M28.5,7.3 L21.9,8.4 L21.4,8.6 L21.2,8.9 L21.2,9.2 L21.3,9.6 L21.6,9.8 L22.1,10.0 L22.6,10.0 L27.9,10.1 L28.4,10.0 L30.2,9.3 L30.6,9.0 L30.7,8.7 L30.7,8.3 L30.2,7.6 L29.6,7.4 L29.0,7.3 Z" fill="none" stroke="#b391cf" stroke-width="0.6"/>
<path d="M36.7,54.5 L28.1,60.4 L27.7,61.3 L27.6,64.1 L28.0,65.1 L28.6,65.7 L29.5,66.1 L30.3,66.2 L37.0,65.2 L37.8,64.9 L44.3,60.7 L45.1,59.7 L45.3,58.4 L44.9,57.3 L44.0,56.4 L39.2,54.2 L37.9,54.0 Z" fill="#9062ae" stroke="#6b3f8f" stroke-width="0.8"/>
<path d="M36.5,58.3 L31.4,60.4 L31.1,60.7 L31.1,61.7 L31.3,62.0 L31.6,62.2 L32.2,62.4 L32.7,62.4 L36.7,62.1 L37.2,62.0 L41.1,60.5 L41.5,60.1 L41.6,59.7 L41.4,59.3 L40.9,59.0 L38.0,58.2 L37.2,58.2 Z" fill="none" stroke="#b391cf" stroke-width="0.6"/>
<path d="M24.5,24.4 L23.4,25.4 L23.2,26.9 L23.3,27.6 L23.9,28.5 L25.2,29.2 L33.0,29.2 L35.5,27.9 L36.1,27.1 L36.3,26.4 L36.3,25.3 L36.0,24.6 L34.1,22.4 L33.4,21.8 L31.5,21.1 L30.0,21.3 Z" fill="#9a6cb7" stroke="#6b3f8f" stroke-width="0.8"/>
<path d="M26.7,25.2 L26.1,25.6 L25.9,26.1 L26.0,26.4 L26.3,26.7 L27.1,26.9 L31.8,26.9 L33.3,26.5 L33.6,26.2 L33.8,25.9 L33.8,25.6 L33.6,25.3 L32.5,24.5 L32.0,24.3 L30.9,24.1 L30.0,24.2 Z" fill="none" stroke="#b391cf" stroke-width="0.6"/>
<path d="M41.5,90.6 L40.6,91.1 L40.2,91.7 L39.9,93.2 L40.2,94.2 L40.7,94.8 L41.5,95.4 L42.2,95.5 L48.0,95.5 L49.0,95.4 L52.1,93.3 L52.7,92.5 L52.9,91.8 L52.8,90.8 L52.2,88.5 L51.3,87.6 L50.1,87.2 L48.9,87.4 Z" fill="#8c5eab" stroke="#6b3f8f" stroke-width="0.8"/>
<path d="M43.6,91.4 L43.1,91.6 L42.8,91.8 L42.6,92.3 L42.8,92.7 L43.1,92.9 L43.6,93.1 L44.0,93.2 L47.5,93.2 L48.1,93.1 L50.0,92.4 L50.3,92.1 L50.4,91.8 L50.4,91.5 L50.0,90.7 L49.5,90.4 L48.8,90.2 L48.0,90.3 Z" fill="none" stroke="#b391cf" stroke-width="0.6"/>
<path d="M31.4,79.3 L31.3,80.3 L31.5,81.3 L32.2,82.1 L33.3,82.7 L44.0,81.8 L45.3,80.9 L48.2,76.6 L48.6,75.4 L48.5,74.4 L48.1,73.5 L47.5,73.0 L46.8,72.6 L45.7,72.5 L34.0,75.5 L33.3,75.8 L32.5,76.4 Z" fill="#8c5eab" stroke="#6b3f8f" stroke-width="0.8"/>
<path d="M34.8,78.4 L34.8,78.7 L34.9,79.1 L35.3,79.4 L36.0,79.6 L42.4,79.2 L43.2,79.0 L44.9,77.4 L45.2,77.0 L45.1,76.7 L44.8,76.3 L44.5,76.2 L44.1,76.0 L43.5,76.0 L36.4,77.0 L36.0,77.1 L35.5,77.4 Z" fill="none" stroke="#b391cf" stroke-width="0.6"/>
<path d="M51.4,85.6 L52.9,85.5 L59.6,82.6 L60.6,81.1 L60.9,80.2 L60.9,79.2 L60.3,78.1 L59.5,77.5 L58.5,77.2 L51.6,76.8 L50.6,77.0 L50.0,77.4 L47.9,80.3 L47.7,81.1 L47.7,82.1 L48.5,83.5 L50.2,85.0 Z" fill="#9265b0" stroke="#6b3f8f" stroke-width="0.8"/>
<path d="M52.5,82.5 L53.4,82.5 L57.3,81.4 L58.0,80.9 L58.2,80.6 L58.1,80.3 L57.8,79.9 L57.3,79.7 L56.7,79.6 L52.6,79.4 L52.0,79.5 L51.6,79.6 L50.4,80.7 L50.2,80.9 L50.2,81.3 L50.7,81.8 L51.7,82.3 Z" fill="none" stroke="#b391cf" stroke-width="0.6"/>
<path d="M47.3,70.8 L48.1,70.7 L48.9,70.4 L51.7,68.4 L52.5,67.4 L52.8,66.4 L52.2,63.6 L51.6,62.5 L50.5,61.8 L47.8,61.2 L46.5,61.5 L42.9,63.9 L42.1,64.9 L41.9,65.9 L42.1,66.9 L42.7,67.7 L45.9,70.3 Z" fill="#9265b0" stroke="#6b3f8f" stroke-width="0.8"/>
<path d="M47.4,67.6 L47.9,67.6 L48.4,67.5 L50.1,66.8 L50.5,66.4 L50.7,66.1 L50.3,65.1 L50.0,64.7 L49.4,64.5 L47.7,64.2 L46.9,64.3 L44.8,65.2 L44.3,65.5 L44.2,65.9 L44.3,66.2 L44.6,66.5 L46.5,67.4 Z" fill="none" stroke="#b391cf" stroke-width="0.6"/>
<path d="M32.9,13.6 L32.3,14.3 L32.0,15.0 L32.1,17.3 L32.4,18.0 L33.2,18.7 L34.7,19.1 L44.7,16.0 L45.9,15.0 L46.3,13.5 L45.9,12.1 L45.3,11.2 L44.5,10.5 L43.5,10.3 L36.9,10.9 L36.0,11.3 Z" fill="#9668b4" stroke="#6b3f8f" stroke-width="0.8"/>
<path d="M35.3,14.1 L34.9,14.4 L34.7,14.6 L34.8,15.4 L35.0,15.7 L35.5,15.9 L36.4,16.1 L42.4,15.0 L43.1,14.6 L43.3,14.1 L43.1,13.6 L42.8,13.3 L42.3,13.1 L41.6,13.0 L37.7,13.2 L37.2,13.3 Z" fill="none" stroke="#b391cf" stroke-width="0.6"/>
<path d="M36.7,30.5 L35.9,31.1 L35.4,32.3 L35.5,33.5 L35.9,34.4 L36.7,35.1 L37.4,35.3 L41.2,35.7 L42.2,35.6 L42.8,35.3 L45.9,33.0 L46.6,32.0 L46.9,31.1 L46.7,30.1 L46.2,29.2 L45.4,28.6 L44.5,28.4 L40.4,28.5 Z" fill="#9265b0" stroke="#6b3f8f" stroke-width="0.8"/>
<path d="M38.5,31.5 L38.0,31.7 L37.7,32.1 L37.7,32.5 L38.0,32.8 L38.5,33.1 L38.9,33.1 L41.2,33.3 L41.8,33.2 L42.2,33.1 L44.0,32.3 L44.4,32.0 L44.6,31.7 L44.5,31.3 L44.2,31.0 L43.7,30.8 L43.2,30.7 L40.7,30.8 Z" fill="none" stroke="#b391cf" stroke-width="0.6"/>
<path d="M40.3,48.1 L39.3,48.9 L38.9,49.9 L39.0,51.1 L39.4,52.0 L40.4,52.8 L45.4,54.9 L46.9,54.6 L53.6,51.1 L54.5,50.1 L54.8,49.2 L54.6,47.9 L53.7,46.2 L52.9,45.6 L52.0,45.2 L43.0,46.7 Z" fill="#9265b0" stroke="#6b3f8f" stroke-width="0.8"/>
<path d="M42.9,49.2 L42.4,49.5 L42.1,49.9 L42.2,50.3 L42.4,50.6 L43.0,50.9 L46.0,51.6 L46.9,51.5 L50.9,50.3 L51.4,50.0 L51.6,49.6 L51.5,49.2 L51.0,48.6 L50.5,48.3 L49.9,48.2 L44.6,48.8 Z" fill="none" stroke="#b391cf" stroke-width="0.6"/>
<path d="M36.3,6.3 L37.0,7.3 L38.4,7.8 L46.0,7.2 L48.2,6.3 L49.0,5.7 L50.3,3.5 L50.3,2.0 L49.9,1.1 L49.3,0.6 L45.9,-1.4 L44.8,-1.6 L41.1,-1.5 L40.3,-1.1 L36.5,1.8 L35.8,2.6 L35.5,3.3 L35.5,4.2 Z" fill="#9265b0" stroke="#6b3f8f" stroke-width="0.8"/>
<path d="M38.9,4.3 L39.3,4.7 L40.2,4.9 L44.7,4.7 L46.1,4.3 L46.5,4.1 L47.3,3.4 L47.3,2.8 L47.1,2.5 L46.7,2.3 L44.7,1.6 L44.0,1.6 L41.8,1.6 L41.3,1.7 L39.0,2.8 L38.6,3.0 L38.5,3.3 L38.4,3.6 Z" fill="none" stroke="#b391cf" stroke-width="0.6"/>
<path d="M39.9,24.7 L40.7,25.3 L41.7,25.6 L48.9,25.4 L49.8,24.9 L52.3,22.6 L52.7,21.4 L52.6,20.2 L52.2,19.5 L51.4,18.9 L49.3,18.0 L48.5,17.8 L40.8,20.2 L39.7,20.9 L39.0,22.2 L39.1,23.5 Z" fill="#9a6cb7" stroke="#6b3f8f" stroke-width="0.8"/>
<path d="M42.4,23.0 L42.8,23.2 L43.4,23.3 L47.7,23.2 L48.3,23.0 L49.8,22.2 L50.0,21.8 L49.9,21.4 L49.7,21.1 L49.3,20.9 L48.0,20.6 L47.5,20.6 L42.9,21.4 L42.2,21.6 L41.8,22.1 L41.9,22.5 Z" fill="none" stroke="#b391cf" stroke-width="0.6"/>
<path d="M66.4,68.3 L55.9,69.3 L55.0,69.9 L54.6,70.5 L54.3,71.5 L54.4,72.5 L54.8,73.2 L55.5,73.9 L56.2,74.2 L64.7,74.7 L67.6,73.5 L68.2,72.7 L68.5,72.0 L68.6,71.0 L68.2,69.6 L67.6,68.8 Z" fill="#9668b4" stroke="#6b3f8f" stroke-width="0.8"/>
<path d="M64.5,70.4 L58.2,70.8 L57.7,71.0 L57.4,71.2 L57.2,71.5 L57.3,71.9 L57.5,72.1 L58.0,72.4 L58.4,72.5 L63.5,72.7 L65.2,72.2 L65.6,72.0 L65.8,71.7 L65.8,71.4 L65.6,70.9 L65.2,70.6 Z" fill="none" stroke="#b391cf" stroke-width="0.6"/>
<path d="M56.5,52.7 L55.6,53.5 L55.1,54.7 L55.2,55.7 L55.8,56.8 L56.6,57.4 L57.9,57.6 L59.3,57.2 L60.2,56.7 L60.8,55.9 L61.1,54.9 L60.9,53.9 L60.4,53.0 L59.5,52.4 L58.3,52.1 L57.6,52.2 Z" fill="#9668b4" stroke="#6b3f8f" stroke-width="0.8"/>
<path d="M57.1,54.1 L56.6,54.4 L56.3,54.8 L56.4,55.2 L56.7,55.5 L57.2,55.7 L58.0,55.8 L58.8,55.7 L59.4,55.5 L59.7,55.2 L59.9,54.9 L59.8,54.5 L59.5,54.2 L59.0,54.0 L58.2,53.9 L57.8,53.9 Z" fill="none" stroke="#b391cf" stroke-width="0.6"/>
<path d="M56.4,87.1 L55.6,87.7 L54.9,88.7 L54.8,89.7 L55.1,90.7 L55.5,91.3 L56.4,91.9 L58.9,92.5 L59.8,92.4 L66.5,90.7 L67.5,90.0 L68.2,88.6 L68.1,87.6 L67.6,86.6 L66.8,86.0 L65.8,85.7 L61.0,85.3 Z" fill="#9668b4" stroke="#6b3f8f" stroke-width="0.8"/>
<path d="M58.4,88.2 L57.9,88.4 L57.5,88.8 L57.5,89.1 L57.6,89.5 L57.9,89.7 L58.4,89.9 L59.9,90.1 L60.5,90.1 L64.5,89.5 L65.1,89.2 L65.5,88.7 L65.4,88.4 L65.1,88.1 L64.7,87.8 L64.1,87.7 L61.2,87.6 Z" fill="none" stroke="#b391cf" stroke-width="0.6"/>
<path d="M43.9,40.5 L44.1,41.5 L44.7,42.4 L45.3,42.9 L46.2,43.2 L53.4,42.0 L57.2,39.8 L58.0,39.1 L58.5,37.6 L58.3,35.6 L57.6,34.6 L56.8,34.0 L52.8,32.5 L52.0,32.4 L51.3,32.6 L44.6,37.5 L44.0,38.7 Z" fill="#9265b0" stroke="#6b3f8f" stroke-width="0.8"/>
<path d="M46.9,38.9 L47.0,39.3 L47.3,39.6 L47.6,39.7 L48.2,39.8 L52.5,39.4 L54.8,38.6 L55.3,38.4 L55.6,37.9 L55.5,37.2 L55.1,36.8 L54.6,36.6 L52.2,36.1 L51.7,36.1 L51.2,36.1 L47.3,37.9 L46.9,38.3 Z" fill="none" stroke="#b391cf" stroke-width="0.6"/>
<path d="M51.6,8.8 L50.6,8.9 L49.7,9.4 L49.0,10.2 L48.8,11.2 L48.8,12.0 L49.6,14.3 L50.1,15.0 L50.9,15.6 L55.2,17.5 L56.7,17.5 L57.8,16.9 L60.9,14.2 L61.5,13.3 L61.7,12.3 L61.6,11.3 L61.0,10.4 L60.2,9.9 Z" fill="#9a6cb7" stroke="#6b3f8f" stroke-width="0.8"/>
<path d="M53.0,11.4 L52.4,11.4 L51.8,11.6 L51.5,11.9 L51.3,12.2 L51.3,12.5 L51.8,13.3 L52.1,13.6 L52.6,13.8 L55.2,14.4 L56.0,14.5 L56.7,14.3 L58.6,13.3 L58.9,13.0 L59.1,12.6 L59.0,12.3 L58.6,12.0 L58.1,11.8 Z" fill="none" stroke="#b391cf" stroke-width="0.6"/>
<path d="M53.3,25.5 L52.7,26.3 L52.4,27.3 L52.5,28.3 L53.0,29.2 L54.0,30.0 L59.1,31.9 L60.4,31.8 L65.2,29.7 L66.1,28.8 L66.5,27.9 L66.4,26.7 L65.7,25.6 L62.5,23.4 L61.6,23.0 L58.2,22.5 L57.1,22.6 L56.2,23.1 Z" fill="#9668b4" stroke="#6b3f8f" stroke-width="0.8"/>
<path d="M55.7,26.6 L55.4,26.9 L55.2,27.2 L55.3,27.6 L55.6,27.9 L56.2,28.2 L59.2,28.8 L60.0,28.8 L62.9,28.1 L63.4,27.8 L63.6,27.4 L63.6,27.0 L63.2,26.6 L61.3,25.9 L60.7,25.7 L58.7,25.6 L58.0,25.6 L57.5,25.8 Z" fill="none" stroke="#b391cf" stroke-width="0.6"/>
<path d="M66.9,77.0 L65.7,78.0 L64.9,79.5 L64.7,80.5 L64.9,81.5 L65.3,82.1 L65.9,82.6 L66.8,82.9 L68.5,83.1 L69.4,82.8 L73.7,80.2 L74.2,79.7 L74.6,78.8 L74.6,77.6 L74.2,76.7 L73.5,76.0 L72.6,75.6 L71.1,75.3 L70.3,75.4 Z" fill="#9265b0" stroke="#6b3f8f" stroke-width="0.8"/>
<path d="M68.0,78.4 L67.3,78.7 L66.8,79.3 L66.7,79.6 L66.8,80.0 L67.1,80.2 L67.4,80.4 L67.9,80.5 L69.0,80.5 L69.5,80.4 L72.1,79.5 L72.4,79.4 L72.6,79.0 L72.6,78.6 L72.4,78.3 L72.0,78.0 L71.4,77.9 L70.5,77.8 L70.0,77.8 Z" fill="none" stroke="#b391cf" stroke-width="0.6"/>
<path d="M57.8,48.1 L58.4,48.9 L59.6,49.4 L64.7,50.1 L65.7,49.9 L67.9,48.3 L68.6,47.3 L68.8,46.1 L68.6,44.0 L68.4,43.3 L67.6,42.3 L66.6,41.9 L61.0,41.3 L59.8,41.5 L57.6,42.8 L56.7,44.1 L56.6,45.6 Z" fill="#9265b0" stroke="#6b3f8f" stroke-width="0.8"/>
<path d="M59.8,46.5 L60.2,46.7 L60.9,46.9 L63.9,47.2 L64.6,47.1 L65.9,46.5 L66.3,46.2 L66.4,45.8 L66.3,45.0 L66.2,44.8 L65.7,44.4 L65.1,44.3 L61.7,44.1 L61.0,44.2 L59.7,44.6 L59.1,45.1 L59.1,45.6 Z" fill="none" stroke="#b391cf" stroke-width="0.6"/>
<path d="M68.0,65.3 L69.2,64.8 L71.1,63.2 L71.8,62.1 L71.9,61.1 L71.4,59.9 L70.7,59.2 L67.1,57.8 L65.8,57.9 L56.6,61.2 L55.6,62.0 L55.2,63.1 L55.2,64.2 L55.5,65.0 L56.3,65.7 L57.2,66.1 Z" fill="#9a6cb7" stroke="#6b3f8f" stroke-width="0.8"/>
<path d="M66.3,63.3 L67.0,63.2 L68.2,62.6 L68.6,62.2 L68.6,61.8 L68.3,61.4 L67.9,61.2 L65.8,60.7 L65.0,60.7 L59.5,61.9 L58.9,62.2 L58.6,62.6 L58.6,62.9 L58.8,63.2 L59.3,63.5 L59.8,63.6 Z" fill="none" stroke="#b391cf" stroke-width="0.6"/>
<path d="M73.2,88.2 L73.8,88.9 L74.8,89.3 L78.4,89.8 L79.5,89.6 L83.8,86.7 L84.4,85.3 L84.3,84.1 L83.7,83.2 L82.9,82.7 L79.3,81.2 L78.6,81.0 L77.6,81.2 L73.4,83.7 L72.5,84.6 L72.2,85.6 L72.2,86.3 Z" fill="#9265b0" stroke="#6b3f8f" stroke-width="0.8"/>
<path d="M75.2,86.5 L75.6,86.7 L76.1,86.8 L78.4,87.0 L79.0,87.0 L81.6,85.9 L81.9,85.5 L81.8,85.0 L81.5,84.7 L81.0,84.5 L78.9,84.0 L78.4,84.0 L77.9,84.0 L75.4,84.9 L74.8,85.2 L74.6,85.5 L74.6,85.8 Z" fill="none" stroke="#b391cf" stroke-width="0.6"/>
<path d="M72.0,66.2 L71.3,67.0 L71.1,68.0 L71.4,70.9 L72.1,72.2 L73.5,72.9 L76.3,73.4 L77.3,73.3 L84.0,70.6 L84.9,69.7 L85.3,68.8 L85.3,67.8 L84.9,66.8 L84.2,66.1 L83.2,65.7 L74.9,64.4 L73.7,64.8 Z" fill="#9265b0" stroke="#6b3f8f" stroke-width="0.8"/>
<path d="M74.2,67.9 L73.9,68.2 L73.7,68.5 L73.9,69.6 L74.4,70.0 L75.1,70.2 L76.9,70.4 L77.5,70.4 L81.5,69.4 L82.0,69.1 L82.3,68.8 L82.2,68.4 L82.0,68.1 L81.6,67.9 L81.0,67.7 L76.0,67.3 L75.3,67.4 Z" fill="none" stroke="#b391cf" stroke-width="0.6"/>
<path d="M64.3,14.9 L63.5,16.2 L63.5,17.7 L64.2,18.7 L65.5,19.4 L66.5,19.4 L70.5,18.5 L71.5,17.7 L72.0,16.5 L72.0,15.5 L71.6,14.6 L70.9,13.9 L69.9,13.5 L66.5,13.4 L65.5,13.8 Z" fill="#9668b4" stroke="#6b3f8f" stroke-width="0.8"/>
<path d="M65.6,15.8 L65.2,16.3 L65.2,16.8 L65.6,17.2 L66.4,17.4 L67.0,17.4 L69.4,17.1 L70.0,16.8 L70.3,16.4 L70.3,16.1 L70.1,15.7 L69.6,15.5 L69.0,15.3 L67.0,15.3 L66.4,15.4 Z" fill="none" stroke="#b391cf" stroke-width="0.6"/>
<path d="M56.1,1.6 L55.1,2.3 L54.6,3.5 L54.7,4.9 L55.5,6.0 L56.6,6.5 L62.6,7.2 L63.7,7.1 L64.6,6.6 L67.0,4.1 L67.5,2.7 L67.4,1.7 L66.9,0.8 L66.1,0.2 L65.1,-0.1 L60.6,-0.3 Z" fill="#9265b0" stroke="#6b3f8f" stroke-width="0.8"/>
<path d="M58.2,2.8 L57.6,3.0 L57.2,3.4 L57.3,4.0 L57.8,4.3 L58.4,4.5 L62.1,4.7 L62.7,4.7 L63.2,4.5 L64.7,3.7 L65.0,3.2 L64.9,2.8 L64.6,2.5 L64.1,2.3 L63.5,2.2 L60.9,2.1 Z" fill="none" stroke="#b391cf" stroke-width="0.6"/>
<path d="M68.7,51.2 L68.1,52.0 L67.8,53.0 L67.9,54.0 L68.4,54.9 L69.4,55.6 L73.8,57.3 L75.0,57.1 L80.0,54.6 L80.7,53.9 L81.2,52.7 L81.0,51.5 L80.2,50.0 L79.5,49.4 L78.5,49.1 L71.3,49.4 L70.4,49.8 Z" fill="#9668b4" stroke="#6b3f8f" stroke-width="0.8"/>
<path d="M71.0,52.3 L70.6,52.5 L70.5,52.9 L70.5,53.2 L70.8,53.6 L71.5,53.8 L74.1,54.4 L74.8,54.3 L77.8,53.5 L78.2,53.2 L78.5,52.8 L78.4,52.4 L77.9,51.9 L77.5,51.6 L76.9,51.5 L72.6,51.6 L72.0,51.8 Z" fill="none" stroke="#b391cf" stroke-width="0.6"/>
<path d="M62.9,33.8 L61.9,34.5 L61.4,35.9 L61.6,37.1 L62.3,38.2 L63.7,38.7 L69.8,39.3 L75.8,37.2 L76.7,36.6 L77.1,36.0 L77.5,35.1 L77.6,31.4 L77.1,30.2 L75.9,29.3 L74.9,29.2 L72.9,29.5 Z" fill="#9a6cb7" stroke="#6b3f8f" stroke-width="0.8"/>
<path d="M65.8,34.3 L65.2,34.6 L64.9,35.1 L65.0,35.5 L65.5,35.9 L66.3,36.1 L69.9,36.3 L73.6,35.5 L74.1,35.3 L74.4,35.1 L74.6,34.8 L74.6,33.5 L74.3,33.1 L73.6,32.8 L73.0,32.7 L71.8,32.8 Z" fill="none" stroke="#b391cf" stroke-width="0.6"/>
<path d="M82.4,90.0 L81.4,91.2 L81.2,92.4 L81.8,93.8 L83.1,94.7 L87.6,95.5 L92.2,95.5 L93.6,95.0 L94.4,93.7 L94.5,88.6 L93.8,87.2 L92.7,86.6 L87.7,86.7 Z" fill="#9467b2" stroke="#6b3f8f" stroke-width="0.8"/>
<path d="M84.9,90.8 L84.3,91.3 L84.2,91.7 L84.5,92.2 L85.3,92.5 L88.0,92.8 L90.8,92.8 L91.6,92.6 L92.1,92.1 L92.1,90.3 L91.7,89.9 L91.0,89.7 L88.1,89.7 Z" fill="none" stroke="#b391cf" stroke-width="0.6"/>
<path d="M71.5,44.0 L72.0,45.4 L72.5,45.9 L73.4,46.4 L79.4,46.2 L80.5,45.8 L83.0,43.7 L83.5,42.5 L83.5,41.5 L83.1,40.5 L82.2,39.7 L79.6,39.1 L78.5,39.2 L72.5,41.5 L71.6,42.7 Z" fill="#9265b0" stroke="#6b3f8f" stroke-width="0.8"/>
<path d="M73.9,43.3 L74.2,43.8 L74.5,44.0 L75.1,44.1 L78.7,44.0 L79.3,43.9 L80.8,43.2 L81.1,42.8 L81.1,42.4 L80.9,42.1 L80.3,41.8 L78.8,41.6 L78.1,41.6 L74.5,42.4 L74.0,42.8 Z" fill="none" stroke="#b391cf" stroke-width="0.6"/>
<path d="M68.7,6.3 L68.2,7.2 L68.0,8.5 L68.3,9.4 L69.0,10.2 L70.2,10.7 L75.5,11.1 L76.6,11.0 L80.8,9.4 L81.7,8.5 L82.1,7.3 L81.9,6.3 L81.2,4.7 L80.2,3.6 L79.3,3.3 L73.9,2.3 L72.9,2.5 L72.0,3.0 Z" fill="#9265b0" stroke="#6b3f8f" stroke-width="0.8"/>
<path d="M71.3,6.7 L71.0,7.0 L70.9,7.5 L71.0,7.8 L71.4,8.1 L72.1,8.3 L75.3,8.4 L76.0,8.4 L78.5,7.8 L79.1,7.5 L79.3,7.1 L79.2,6.7 L78.8,6.2 L78.2,5.8 L77.6,5.7 L74.4,5.3 L73.8,5.4 L73.3,5.6 Z" fill="none" stroke="#b391cf" stroke-width="0.6"/>
<path d="M82.0,74.4 L81.2,75.0 L80.6,75.8 L80.4,76.8 L80.7,78.1 L81.8,79.1 L84.4,80.3 L85.4,80.5 L86.2,80.4 L87.1,79.9 L90.5,76.7 L91.1,75.8 L91.3,74.8 L91.1,73.8 L90.6,72.9 L89.5,72.2 L88.5,72.0 L87.5,72.2 Z" fill="#9a6cb7" stroke="#6b3f8f" stroke-width="0.8"/>
<path d="M83.6,75.6 L83.1,75.8 L82.8,76.1 L82.6,76.4 L82.8,76.9 L83.4,77.2 L85.0,77.6 L85.6,77.7 L86.1,77.7 L86.6,77.5 L88.7,76.4 L89.0,76.1 L89.2,75.7 L89.1,75.4 L88.7,75.1 L88.1,74.8 L87.5,74.7 L86.9,74.8 Z" fill="none" stroke="#b391cf" stroke-width="0.6"/>
<path d="M70.5,25.3 L72.3,26.5 L73.3,26.6 L75.8,26.2 L76.7,25.8 L77.4,25.0 L77.7,24.1 L77.7,23.1 L77.3,22.2 L75.9,21.0 L74.7,20.6 L72.0,21.1 L71.1,21.5 L70.3,22.4 L70.0,23.9 Z" fill="#9a6cb7" stroke="#6b3f8f" stroke-width="0.8"/>
<path d="M71.9,24.2 L73.0,24.6 L73.5,24.7 L75.0,24.5 L75.6,24.4 L76.0,24.1 L76.2,23.8 L76.2,23.4 L75.9,23.1 L75.1,22.7 L74.4,22.6 L72.8,22.7 L72.2,22.9 L71.7,23.2 L71.5,23.7 Z" fill="none" stroke="#b391cf" stroke-width="0.6"/>
<path d="M80.2,57.6 L79.3,58.5 L78.8,59.6 L78.9,60.8 L79.6,61.9 L80.7,62.5 L86.0,63.4 L87.0,63.3 L88.1,62.6 L90.6,60.2 L91.1,58.8 L91.0,57.5 L90.4,56.7 L89.0,55.5 L88.0,55.2 L84.4,55.6 Z" fill="#9668b4" stroke="#6b3f8f" stroke-width="0.8"/>
<path d="M82.2,58.7 L81.6,59.0 L81.3,59.4 L81.4,59.9 L81.8,60.2 L82.5,60.4 L85.7,60.7 L86.3,60.7 L86.9,60.5 L88.4,59.6 L88.7,59.1 L88.6,58.7 L88.3,58.4 L87.5,58.0 L86.8,57.9 L84.7,58.0 Z" fill="none" stroke="#b391cf" stroke-width="0.6"/>
<path d="M81.8,27.2 L81.0,27.9 L80.6,28.8 L80.3,34.1 L80.7,35.5 L81.8,36.5 L86.3,37.4 L87.6,37.3 L88.5,36.8 L92.5,33.1 L93.1,32.3 L93.3,31.0 L92.8,28.0 L92.2,26.9 L91.4,26.3 L90.5,26.0 L85.0,25.7 L83.6,26.1 Z" fill="#9265b0" stroke="#6b3f8f" stroke-width="0.8"/>
<path d="M83.7,29.9 L83.2,30.1 L83.0,30.4 L82.8,32.3 L83.0,32.8 L83.7,33.1 L86.4,33.5 L87.1,33.4 L87.7,33.2 L90.1,31.9 L90.4,31.7 L90.6,31.2 L90.3,30.1 L89.9,29.8 L89.4,29.6 L88.9,29.5 L85.6,29.4 L84.7,29.5 Z" fill="none" stroke="#b391cf" stroke-width="0.6"/>
<path d="M77.1,16.8 L77.4,18.2 L78.2,19.2 L81.8,21.9 L82.7,22.1 L83.7,22.0 L84.6,21.5 L85.2,20.7 L88.0,15.5 L88.2,14.5 L88.1,13.8 L87.4,12.3 L86.7,11.5 L85.6,11.1 L84.6,11.1 L78.3,13.4 L77.4,14.7 Z" fill="#9a6cb7" stroke="#6b3f8f" stroke-width="0.8"/>
<path d="M79.4,16.5 L79.5,17.0 L80.0,17.3 L82.2,18.3 L82.7,18.4 L83.3,18.3 L83.9,18.2 L84.2,17.9 L85.9,16.0 L86.0,15.7 L86.0,15.4 L85.5,14.9 L85.1,14.7 L84.4,14.5 L83.8,14.5 L80.1,15.3 L79.6,15.8 Z" fill="none" stroke="#b391cf" stroke-width="0.6"/>
<path d="M84.0,51.1 L84.6,51.9 L85.6,52.4 L86.3,52.5 L88.1,52.3 L89.1,51.9 L92.7,49.4 L93.3,48.6 L93.6,47.7 L93.6,45.1 L93.0,43.7 L91.7,42.9 L90.1,42.5 L89.2,42.6 L88.3,43.0 L84.0,46.5 L83.3,47.3 L83.0,48.5 L83.2,49.5 Z" fill="#9265b0" stroke="#6b3f8f" stroke-width="0.8"/>
<path d="M85.8,48.8 L86.2,49.1 L86.7,49.3 L87.2,49.3 L88.3,49.2 L88.8,49.1 L91.0,48.2 L91.4,48.0 L91.6,47.6 L91.6,46.7 L91.2,46.2 L90.4,45.9 L89.5,45.8 L88.9,45.8 L88.4,46.0 L85.8,47.2 L85.4,47.5 L85.2,47.9 L85.3,48.3 Z" fill="none" stroke="#b391cf" stroke-width="0.6"/>
<path d="M85.2,6.5 L86.2,7.7 L87.7,8.0 L92.4,6.2 L93.3,5.3 L93.6,4.3 L93.6,2.0 L93.1,0.8 L91.9,-0.2 L90.6,-0.3 L85.4,2.1 L84.7,2.8 L84.3,4.0 L84.5,5.0 Z" fill="#9a6cb7" stroke="#6b3f8f" stroke-width="0.8"/>
<path d="M86.8,4.8 L87.4,5.2 L88.3,5.3 L91.1,4.7 L91.6,4.4 L91.8,4.0 L91.8,3.2 L91.5,2.8 L90.8,2.4 L90.0,2.4 L86.9,3.2 L86.5,3.5 L86.2,3.9 L86.3,4.3 Z" fill="none" stroke="#b391cf" stroke-width="0.6"/>
<g opacity="0.55">
<circle cx="8.9" cy="81.4" r="0.4" fill="#7a4fa0"/>
<circle cx="39.7" cy="52.8" r="0.7" fill="#c4a8dc"/>
<circle cx="27.5" cy="72.1" r="0.4" fill="#b494d0"/>
<circle cx="83.8" cy="56.1" r="0.7" fill="#c4a8dc"/>
<circle cx="66.7" cy="64.5" r="0.5" fill="#b494d0"/>
<circle cx="20.1" cy="61.1" r="0.5" fill="#7a4fa0"/>
<circle cx="29.7" cy="41.0" r="0.6" fill="#8658aa"/>
<circle cx="40.3" cy="74.7" r="0.5" fill="#8658aa"/>
<circle cx="20.4" cy="90.0" r="0.7" fill="#b494d0"/>
<circle cx="7.8" cy="77.1" r="0.4" fill="#c4a8dc"/>
<circle cx="53.8" cy="74.0" r="0.7" fill="#8658aa"/>
<circle cx="73.3" cy="50.3" r="0.7" fill="#b494d0"/>
<circle cx="16.2" cy="70.6" r="0.7" fill="#8658aa"/>
<circle cx="74.7" cy="20.6" r="0.4" fill="#b494d0"/>
<circle cx="52.2" cy="89.9" r="0.6" fill="#c4a8dc"/>
<circle cx="5.9" cy="50.9" r="0.7" fill="#7a4fa0"/>
<circle cx="30.8" cy="25.4" r="0.4" fill="#8658aa"/>
<circle cx="7.8" cy="59.0" r="0.4" fill="#c4a8dc"/>
<circle cx="22.6" cy="20.5" r="0.7" fill="#8658aa"/>
<circle cx="70.4" cy="36.7" r="0.5" fill="#8658aa"/>
<circle cx="61.9" cy="45.9" r="0.6" fill="#7a4fa0"/>
<circle cx="65.1" cy="85.1" r="0.5" fill="#8658aa"/>
<circle cx="78.5" cy="74.9" r="0.7" fill="#c4a8dc"/>
<circle cx="88.1" cy="59.5" r="0.6" fill="#7a4fa0"/>
<circle cx="73.8" cy="39.2" r="0.5" fill="#b494d0"/>
<circle cx="22.6" cy="15.1" r="0.6" fill="#b494d0"/>
<circle cx="29.5" cy="36.2" r="0.6" fill="#8658aa"/>
<circle cx="89.2" cy="5.5" r="0.5" fill="#7a4fa0"/>
<circle cx="27.9" cy="14.5" r="0.8" fill="#7a4fa0"/>
<circle cx="69.3" cy="1.6" r="0.6" fill="#7a4fa0"/>
<circle cx="28.8" cy="18.4" r="0.5" fill="#b494d0"/>
<circle cx="55.2" cy="43.9" r="0.6" fill="#c4a8dc"/>
<circle cx="17.0" cy="26.1" r="0.4" fill="#8658aa"/>
<circle cx="57.7" cy="87.6" r="0.6" fill="#8658aa"/>
<circle cx="44.6" cy="37.4" r="0.8" fill="#7a4fa0"/>
<circle cx="44.4" cy="20.6" r="0.4" fill="#b494d0"/>
<circle cx="73.7" cy="35.8" r="0.6" fill="#8658aa"/>
<circle cx="72.5" cy="5.4" r="0.8" fill="#7a4fa0"/>
<circle cx="80.4" cy="84.2" r="0.6" fill="#b494d0"/>
<circle cx="65.6" cy="56.4" r="0.4" fill="#b494d0"/>
<circle cx="71.0" cy="13.5" r="0.8" fill="#b494d0"/>
<circle cx="58.6" cy="92.4" r="0.5" fill="#7a4fa0"/>
<circle cx="13.9" cy="71.6" r="0.4" fill="#b494d0"/>
<circle cx="75.6" cy="7.7" r="0.5" fill="#7a4fa0"/>
<circle cx="81.8" cy="64.5" r="0.4" fill="#8658aa"/>
<circle cx="1.8" cy="17.5" r="0.4" fill="#7a4fa0"/>
<circle cx="71.9" cy="40.9" r="0.4" fill="#c4a8dc"/>
<circle cx="48.4" cy="14.7" r="0.7" fill="#8658aa"/>
<circle cx="29.1" cy="37.7" r="0.6" fill="#c4a8dc"/>
<circle cx="61.4" cy="6.2" r="0.4" fill="#b494d0"/>
<circle cx="9.7" cy="36.7" r="0.6" fill="#7a4fa0"/>
<circle cx="60.2" cy="1.1" r="0.5" fill="#c4a8dc"/>
<circle cx="21.8" cy="52.5" r="0.6" fill="#7a4fa0"/>
<circle cx="78.8" cy="78.5" r="0.7" fill="#b494d0"/>
<circle cx="26.7" cy="35.0" r="0.6" fill="#8658aa"/>
<circle cx="87.8" cy="70.2" r="0.6" fill="#7a4fa0"/>
<circle cx="23.6" cy="18.6" r="0.7" fill="#8658aa"/>
<circle cx="28.5" cy="25.5" r="0.6" fill="#8658aa"/>
<circle cx="41.1" cy="35.6" r="0.4" fill="#7a4fa0"/>
<circle cx="12.1" cy="58.6" r="0.4" fill="#b494d0"/>
<circle cx="37.0" cy="77.8" r="0.6" fill="#7a4fa0"/>
<circle cx="9.2" cy="3.0" r="0.8" fill="#c4a8dc"/>
<circle cx="37.4" cy="6.8" r="0.8" fill="#c4a8dc"/>
<circle cx="85.3" cy="12.9" r="0.4" fill="#b494d0"/>
<circle cx="75.5" cy="35.9" r="0.5" fill="#c4a8dc"/>
<circle cx="57.3" cy="67.6" r="0.6" fill="#8658aa"/>
<circle cx="90.3" cy="73.4" r="0.6" fill="#7a4fa0"/>
<circle cx="24.0" cy="17.6" r="0.5" fill="#c4a8dc"/>
<circle cx="9.8" cy="35.1" r="0.6" fill="#8658aa"/>
<circle cx="75.9" cy="56.9" r="0.4" fill="#8658aa"/>
<circle cx="50.4" cy="32.8" r="0.6" fill="#b494d0"/>
<circle cx="52.8" cy="18.4" r="0.8" fill="#b494d0"/>
<circle cx="52.2" cy="2.5" r="0.6" fill="#7a4fa0"/>
<circle cx="12.5" cy="44.4" r="0.5" fill="#8658aa"/>
<circle cx="30.3" cy="86.4" r="0.5" fill="#c4a8dc"/>
<circle cx="81.2" cy="42.1" r="0.7" fill="#b494d0"/>
<circle cx="83.2" cy="50.5" r="0.6" fill="#8658aa"/>
<circle cx="15.5" cy="69.4" r="0.8" fill="#8658aa"/>
<circle cx="55.3" cy="11.4" r="0.7" fill="#8658aa"/>
<circle cx="63.0" cy="33.8" r="0.7" fill="#8658aa"/>
<circle cx="76.4" cy="17.3" r="0.6" fill="#7a4fa0"/>
<circle cx="41.8" cy="37.5" r="0.7" fill="#b494d0"/>
<circle cx="28.3" cy="62.4" r="0.7" fill="#c4a8dc"/>
<circle cx="56.6" cy="59.6" r="0.7" fill="#b494d0"/>
<circle cx="18.4" cy="43.5" r="0.4" fill="#c4a8dc"/>
<circle cx="10.9" cy="37.7" r="0.5" fill="#b494d0"/>
<circle cx="24.3" cy="52.8" r="0.5" fill="#7a4fa0"/>
<circle cx="66.4" cy="73.2" r="0.5" fill="#c4a8dc"/>
<circle cx="55.2" cy="43.7" r="0.5" fill="#c4a8dc"/>
<circle cx="69.2" cy="45.2" r="0.8" fill="#c4a8dc"/>
<circle cx="75.9" cy="10.9" r="0.4" fill="#8658aa"/>
<circle cx="48.3" cy="40.2" r="0.8" fill="#8658aa"/>
<circle cx="83.5" cy="27.5" r="0.6" fill="#c4a8dc"/>
<circle cx="67.3" cy="55.6" r="0.7" fill="#8658aa"/>
<circle cx="81.2" cy="81.6" r="0.5" fill="#c4a8dc"/>
<circle cx="22.3" cy="81.2" r="0.8" fill="#c4a8dc"/>
<circle cx="63.9" cy="48.9" r="0.5" fill="#8658aa"/>
<circle cx="60.4" cy="87.4" r="0.7" fill="#8658aa"/>
<circle cx="79.7" cy="39.2" r="0.7" fill="#b494d0"/>
<circle cx="59.8" cy="39.2" r="0.4" fill="#7a4fa0"/>
<circle cx="9.1" cy="73.7" r="0.4" fill="#c4a8dc"/>
<circle cx="0.1" cy="22.7" r="0.5" fill="#8658aa"/>
<circle cx="15.8" cy="41.0" r="0.6" fill="#c4a8dc"/>
<circle cx="13.0" cy="64.4" r="0.5" fill="#8658aa"/>
<circle cx="2.9" cy="83.6" r="0.5" fill="#c4a8dc"/>
<circle cx="13.2" cy="72.2" r="0.7" fill="#b494d0"/>
<circle cx="18.6" cy="79.9" r="0.7" fill="#7a4fa0"/>
<circle cx="18.0" cy="77.9" r="0.5" fill="#c4a8dc"/>
<circle cx="1.5" cy="59.1" r="0.7" fill="#b494d0"/>
<circle cx="49.0" cy="22.0" r="0.8" fill="#7a4fa0"/>
<circle cx="59.8" cy="28.5" r="0.7" fill="#8658aa"/>
<circle cx="80.0" cy="66.3" r="0.4" fill="#c4a8dc"/>
<circle cx="38.2" cy="15.8" r="0.7" fill="#7a4fa0"/>
<circle cx="65.4" cy="18.3" r="0.4" fill="#b494d0"/>
<circle cx="46.1" cy="27.5" r="0.5" fill="#7a4fa0"/>
<circle cx="54.3" cy="21.3" r="0.5" fill="#b494d0"/>
<circle cx="61.4" cy="25.7" r="0.6" fill="#7a4fa0"/>
<circle cx="42.6" cy="7.1" r="0.8" fill="#7a4fa0"/>
<circle cx="48.8" cy="4.2" r="0.6" fill="#8658aa"/>
<circle cx="49.4" cy="39.4" r="0.6" fill="#b494d0"/>
<circle cx="26.2" cy="70.3" r="0.5" fill="#8658aa"/>
<circle cx="67.5" cy="2.7" r="0.7" fill="#b494d0"/>
<circle cx="90.9" cy="3.1" r="0.6" fill="#c4a8dc"/>
<circle cx="0.2" cy="82.9" r="0.4" fill="#7a4fa0"/>
<circle cx="51.2" cy="60.0" r="0.5" fill="#c4a8dc"/>
<circle cx="72.0" cy="48.1" r="0.6" fill="#b494d0"/>
<circle cx="54.6" cy="71.7" r="0.4" fill="#c4a8dc"/>
<circle cx="21.7" cy="41.0" r="0.7" fill="#b494d0"/>
<circle cx="23.9" cy="50.6" r="0.7" fill="#c4a8dc"/>
<circle cx="24.0" cy="18.8" r="0.8" fill="#7a4fa0"/>
<circle cx="52.7" cy="81.2" r="0.4" fill="#b494d0"/>
<circle cx="56.0" cy="56.6" r="0.7" fill="#c4a8dc"/>
<circle cx="66.5" cy="79.7" r="0.4" fill="#7a4fa0"/>
<circle cx="83.5" cy="52.9" r="0.6" fill="#b494d0"/>
<circle cx="57.3" cy="5.0" r="0.5" fill="#8658aa"/>
<circle cx="75.4" cy="68.7" r="0.7" fill="#c4a8dc"/>
<circle cx="8.1" cy="76.3" r="0.4" fill="#8658aa"/>
<circle cx="22.8" cy="46.2" r="0.6" fill="#c4a8dc"/>
<circle cx="5.6" cy="38.2" r="0.5" fill="#b494d0"/>
<circle cx="64.7" cy="89.0" r="0.4" fill="#b494d0"/>
<circle cx="13.3" cy="42.3" r="0.7" fill="#7a4fa0"/>
<circle cx="0.3" cy="38.1" r="0.6" fill="#7a4fa0"/>
<circle cx="36.1" cy="27.7" r="0.5" fill="#7a4fa0"/>
<circle cx="89.4" cy="63.2" r="0.7" fill="#b494d0"/>
<circle cx="27.2" cy="11.1" r="0.7" fill="#c4a8dc"/>
<circle cx="42.5" cy="86.7" r="0.5" fill="#8658aa"/>
<circle cx="87.1" cy="85.9" r="0.4" fill="#b494d0"/>
<circle cx="37.1" cy="60.4" r="0.4" fill="#8658aa"/>
<circle cx="52.2" cy="84.8" r="0.7" fill="#b494d0"/>
<circle cx="42.6" cy="36.5" r="0.7" fill="#c4a8dc"/>
<circle cx="34.8" cy="4.6" r="0.5" fill="#b494d0"/>
<circle cx="16.9" cy="51.1" r="0.4" fill="#b494d0"/>
<circle cx="36.8" cy="55.2" r="0.7" fill="#c4a8dc"/>
<circle cx="41.1" cy="92.4" r="0.7" fill="#c4a8dc"/>
<circle cx="18.8" cy="35.6" r="0.4" fill="#8658aa"/>
<circle cx="33.4" cy="25.5" r="0.4" fill="#b494d0"/>
<circle cx="68.2" cy="47.6" r="0.6" fill="#b494d0"/>
<circle cx="24.7" cy="33.6" r="0.4" fill="#8658aa"/>
<circle cx="12.6" cy="22.4" r="0.7" fill="#7a4fa0"/>
<circle cx="1.9" cy="30.0" r="0.5" fill="#7a4fa0"/>
<circle cx="78.6" cy="35.5" r="0.5" fill="#7a4fa0"/>
<circle cx="27.8" cy="56.5" r="0.6" fill="#b494d0"/>
<circle cx="13.9" cy="55.4" r="0.4" fill="#8658aa"/>
<circle cx="37.8" cy="44.5" r="0.7" fill="#8658aa"/>
<circle cx="28.9" cy="42.0" r="0.5" fill="#b494d0"/>
<circle cx="76.8" cy="49.8" r="0.6" fill="#b494d0"/>
<circle cx="35.6" cy="80.5" r="0.5" fill="#8658aa"/>
<circle cx="34.1" cy="56.9" r="0.4" fill="#7a4fa0"/>
<circle cx="68.7" cy="44.9" r="0.4" fill="#8658aa"/>
<circle cx="60.8" cy="6.2" r="0.7" fill="#8658aa"/>
<circle cx="61.3" cy="88.8" r="0.7" fill="#b494d0"/>
<circle cx="72.1" cy="24.1" r="0.7" fill="#7a4fa0"/>
<circle cx="36.1" cy="5.6" r="0.5" fill="#8658aa"/>
<circle cx="26.2" cy="65.4" r="0.4" fill="#c4a8dc"/>
<circle cx="18.6" cy="71.5" r="0.5" fill="#b494d0"/>
<circle cx="47.9" cy="69.1" r="0.8" fill="#b494d0"/>
<circle cx="44.0" cy="23.9" r="0.7" fill="#8658aa"/>
<circle cx="64.4" cy="2.1" r="0.5" fill="#8658aa"/>
<circle cx="83.7" cy="84.9" r="0.5" fill="#c4a8dc"/>
<circle cx="45.6" cy="54.5" r="0.6" fill="#8658aa"/>
<circle cx="81.5" cy="6.7" r="0.4" fill="#8658aa"/>
<circle cx="82.0" cy="52.6" r="0.5" fill="#b494d0"/>
<circle cx="59.1" cy="35.8" r="0.5" fill="#8658aa"/>
<circle cx="2.9" cy="65.8" r="0.4" fill="#7a4fa0"/>
<circle cx="57.7" cy="57.7" r="0.5" fill="#c4a8dc"/>
<circle cx="5.9" cy="6.4" r="0.6" fill="#c4a8dc"/>
<circle cx="35.1" cy="84.6" r="0.4" fill="#b494d0"/>
<circle cx="62.9" cy="25.4" r="0.6" fill="#c4a8dc"/>
<circle cx="89.9" cy="13.9" r="0.4" fill="#b494d0"/>
<circle cx="23.8" cy="20.5" r="0.6" fill="#c4a8dc"/>
<circle cx="0.3" cy="50.9" r="0.7" fill="#7a4fa0"/>
<circle cx="57.4" cy="52.2" r="0.7" fill="#8658aa"/>
<circle cx="24.3" cy="9.7" r="0.4" fill="#b494d0"/>
<circle cx="64.0" cy="63.8" r="0.8" fill="#b494d0"/>
<circle cx="14.7" cy="57.8" r="0.6" fill="#8658aa"/>
<circle cx="34.0" cy="26.6" r="0.7" fill="#c4a8dc"/>
<circle cx="21.8" cy="23.2" r="0.5" fill="#b494d0"/>
<circle cx="84.4" cy="68.6" r="0.7" fill="#7a4fa0"/>
<circle cx="75.2" cy="82.4" r="0.5" fill="#c4a8dc"/>
<circle cx="47.1" cy="63.2" r="0.4" fill="#c4a8dc"/>
<circle cx="80.0" cy="5.0" r="0.5" fill="#c4a8dc"/>
<circle cx="23.3" cy="59.0" r="0.5" fill="#8658aa"/>
<circle cx="16.9" cy="79.6" r="0.4" fill="#b494d0"/>
<circle cx="52.2" cy="39.1" r="0.7" fill="#8658aa"/>
<circle cx="73.7" cy="11.6" r="0.5" fill="#8658aa"/>
<circle cx="21.3" cy="17.2" r="0.4" fill="#b494d0"/>
<circle cx="24.7" cy="25.2" r="0.5" fill="#c4a8dc"/>
<circle cx="35.6" cy="63.2" r="0.4" fill="#b494d0"/>
<circle cx="65.6" cy="11.0" r="0.4" fill="#8658aa"/>
<circle cx="32.8" cy="50.1" r="0.7" fill="#c4a8dc"/>
<circle cx="30.4" cy="2.5" r="0.6" fill="#c4a8dc"/>
<circle cx="15.8" cy="6.3" r="0.5" fill="#8658aa"/>
<circle cx="20.6" cy="67.1" r="0.5" fill="#b494d0"/>
<circle cx="90.2" cy="36.2" r="0.7" fill="#8658aa"/>
<circle cx="73.6" cy="13.7" r="0.4" fill="#7a4fa0"/>
<circle cx="51.2" cy="83.4" r="0.7" fill="#c4a8dc"/>
<circle cx="11.1" cy="30.1" r="0.4" fill="#b494d0"/>
<circle cx="25.2" cy="37.2" r="0.5" fill="#7a4fa0"/>
<circle cx="44.4" cy="34.0" r="0.5" fill="#7a4fa0"/>
<circle cx="13.9" cy="0.7" r="0.7" fill="#7a4fa0"/>
<circle cx="0.4" cy="31.3" r="0.4" fill="#b494d0"/>
<circle cx="91.2" cy="38.0" r="0.4" fill="#8658aa"/>
<circle cx="74.2" cy="36.8" r="0.4" fill="#8658aa"/>
<circle cx="25.5" cy="87.3" r="0.7" fill="#c4a8dc"/>
<circle cx="52.6" cy="87.5" r="0.4" fill="#7a4fa0"/>
<circle cx="86.9" cy="50.1" r="0.7" fill="#8658aa"/>
<circle cx="33.0" cy="70.1" r="0.5" fill="#c4a8dc"/>
<circle cx="1.0" cy="19.5" r="0.8" fill="#7a4fa0"/>
<circle cx="70.6" cy="24.6" r="0.5" fill="#c4a8dc"/>
<circle cx="36.7" cy="74.7" r="0.7" fill="#7a4fa0"/>
<circle cx="86.1" cy="44.8" r="0.7" fill="#c4a8dc"/>
<circle cx="23.0" cy="84.6" r="0.4" fill="#b494d0"/>
<circle cx="20.9" cy="36.1" r="0.5" fill="#8658aa"/>
<circle cx="74.6" cy="33.9" r="0.6" fill="#8658aa"/>
<circle cx="28.7" cy="6.2" r="0.6" fill="#7a4fa0"/>
<circle cx="24.3" cy="19.9" r="0.4" fill="#7a4fa0"/>
<circle cx="68.4" cy="50.8" r="0.7" fill="#b494d0"/>
<circle cx="32.0" cy="14.5" r="0.5" fill="#b494d0"/>
<circle cx="39.6" cy="0.9" r="0.6" fill="#c4a8dc"/>
<circle cx="8.7" cy="88.4" r="0.7" fill="#b494d0"/>
<circle cx="1.9" cy="16.2" r="0.4" fill="#7a4fa0"/>
<circle cx="53.2" cy="29.9" r="0.6" fill="#b494d0"/>
<circle cx="45.9" cy="72.6" r="0.7" fill="#8658aa"/>
<circle cx="6.4" cy="36.3" r="0.8" fill="#b494d0"/>
<circle cx="71.5" cy="48.8" r="0.4" fill="#c4a8dc"/>
<circle cx="83.8" cy="5.1" r="0.6" fill="#8658aa"/>
<circle cx="81.7" cy="79.6" r="0.6" fill="#7a4fa0"/>
<circle cx="11.2" cy="68.7" r="0.7" fill="#c4a8dc"/>
<circle cx="61.2" cy="39.0" r="0.5" fill="#b494d0"/>
<circle cx="34.5" cy="50.3" r="0.4" fill="#7a4fa0"/>
<circle cx="48.6" cy="42.0" r="0.5" fill="#7a4fa0"/>
<circle cx="54.7" cy="86.6" r="0.4" fill="#c4a8dc"/>
<circle cx="30.2" cy="23.8" r="0.6" fill="#b494d0"/>
<circle cx="67.8" cy="92.0" r="0.5" fill="#b494d0"/>
<circle cx="69.3" cy="83.5" r="0.4" fill="#b494d0"/>
<circle cx="77.3" cy="60.4" r="0.8" fill="#7a4fa0"/>
<circle cx="73.4" cy="47.6" r="0.8" fill="#7a4fa0"/>
<circle cx="17.0" cy="3.6" r="0.5" fill="#8658aa"/>
<circle cx="41.8" cy="49.9" r="0.7" fill="#b494d0"/>
<circle cx="45.0" cy="89.4" r="0.5" fill="#7a4fa0"/>
<circle cx="51.1" cy="73.2" r="0.6" fill="#b494d0"/>
<circle cx="6.6" cy="46.2" r="0.4" fill="#7a4fa0"/>
<circle cx="73.3" cy="14.1" r="0.5" fill="#7a4fa0"/>
<circle cx="30.7" cy="86.4" r="0.8" fill="#b494d0"/>
<circle cx="76.7" cy="10.9" r="0.4" fill="#c4a8dc"/>
<circle cx="2.9" cy="63.4" r="0.6" fill="#c4a8dc"/>
<circle cx="6.6" cy="91.9" r="0.4" fill="#8658aa"/>
<circle cx="80.6" cy="67.7" r="0.4" fill="#c4a8dc"/>
<circle cx="34.8" cy="75.9" r="0.7" fill="#8658aa"/>
<circle cx="60.6" cy="19.4" r="0.4" fill="#b494d0"/>
<circle cx="15.8" cy="54.0" r="0.4" fill="#8658aa"/>
<circle cx="10.7" cy="87.5" r="0.6" fill="#8658aa"/>
<circle cx="28.3" cy="0.7" r="0.4" fill="#b494d0"/>
<circle cx="67.7" cy="33.5" r="0.5" fill="#c4a8dc"/>
<circle cx="18.4" cy="6.6" r="0.5" fill="#8658aa"/>
<circle cx="75.5" cy="38.0" r="0.6" fill="#7a4fa0"/>
<circle cx="86.6" cy="32.2" r="0.7" fill="#b494d0"/>
<circle cx="45.3" cy="10.9" r="0.4" fill="#8658aa"/>
<circle cx="87.6" cy="7.3" r="0.6" fill="#b494d0"/>
<circle cx="85.9" cy="36.0" r="0.7" fill="#b494d0"/>
<circle cx="41.3" cy="6.0" r="0.5" fill="#8658aa"/>
<circle cx="53.8" cy="61.2" r="0.5" fill="#7a4fa0"/>
<circle cx="61.8" cy="22.8" r="0.5" fill="#b494d0"/>
<circle cx="54.6" cy="80.6" r="0.5" fill="#8658aa"/>
<circle cx="31.4" cy="76.3" r="0.7" fill="#7a4fa0"/>
<circle cx="50.2" cy="9.2" r="0.8" fill="#7a4fa0"/>
<circle cx="72.7" cy="1.5" r="0.4" fill="#8658aa"/>
<circle cx="91.1" cy="75.9" r="0.7" fill="#b494d0"/>
<circle cx="43.2" cy="33.6" r="0.6" fill="#8658aa"/>
<circle cx="44.1" cy="60.6" r="0.4" fill="#b494d0"/>
<circle cx="89.8" cy="92.3" r="0.5" fill="#b494d0"/>
<circle cx="59.8" cy="65.2" r="0.8" fill="#7a4fa0"/>
<circle cx="92.0" cy="61.0" r="0.7" fill="#b494d0"/>
<circle cx="47.6" cy="54.3" r="0.6" fill="#b494d0"/>
<circle cx="47.4" cy="8.9" r="0.7" fill="#7a4fa0"/>
<circle cx="15.4" cy="60.4" r="0.6" fill="#8658aa"/>
<circle cx="61.0" cy="90.2" r="0.6" fill="#7a4fa0"/>
<circle cx="39.8" cy="14.5" r="0.5" fill="#8658aa"/>
<circle cx="86.9" cy="83.3" r="0.4" fill="#8658aa"/>
<circle cx="38.0" cy="52.2" r="0.8" fill="#7a4fa0"/>
<circle cx="27.7" cy="47.2" r="0.4" fill="#b494d0"/>
<circle cx="11.9" cy="8.2" r="0.6" fill="#8658aa"/>
<circle cx="32.5" cy="22.9" r="0.6" fill="#c4a8dc"/>
<circle cx="5.0" cy="20.2" r="0.6" fill="#7a4fa0"/>
<circle cx="42.3" cy="79.1" r="0.4" fill="#b494d0"/>
<circle cx="13.2" cy="52.5" r="0.4" fill="#7a4fa0"/>
<circle cx="38.0" cy="1.0" r="0.4" fill="#7a4fa0"/>
<circle cx="67.6" cy="66.3" r="0.4" fill="#7a4fa0"/>
<circle cx="37.3" cy="45.9" r="0.8" fill="#7a4fa0"/>
<circle cx="35.9" cy="27.9" r="0.4" fill="#7a4fa0"/>
<circle cx="60.5" cy="39.0" r="0.8" fill="#b494d0"/>
<circle cx="60.2" cy="82.5" r="0.8" fill="#7a4fa0"/>
<circle cx="36.3" cy="27.8" r="0.7" fill="#8658aa"/>
<circle cx="20.2" cy="7.9" r="0.7" fill="#c4a8dc"/>
<circle cx="33.0" cy="40.0" r="0.6" fill="#7a4fa0"/>
<circle cx="28.6" cy="49.4" r="0.4" fill="#c4a8dc"/>
<circle cx="50.4" cy="37.2" r="0.5" fill="#7a4fa0"/>
<circle cx="65.6" cy="3.0" r="0.5" fill="#b494d0"/>
<circle cx="47.8" cy="49.0" r="0.7" fill="#8658aa"/>
<circle cx="37.4" cy="89.9" r="0.4" fill="#8658aa"/>
<circle cx="88.4" cy="34.0" r="0.6" fill="#8658aa"/>
<circle cx="77.3" cy="19.5" r="0.7" fill="#7a4fa0"/>
<circle cx="29.0" cy="46.3" r="0.6" fill="#8658aa"/>
<circle cx="4.9" cy="8.6" r="0.5" fill="#8658aa"/>
<circle cx="74.3" cy="87.8" r="0.6" fill="#8658aa"/>
<circle cx="37.0" cy="26.6" r="0.7" fill="#7a4fa0"/>
<circle cx="36.5" cy="21.0" r="0.5" fill="#7a4fa0"/>
<circle cx="29.2" cy="76.2" r="0.7" fill="#8658aa"/>
<circle cx="5.2" cy="71.0" r="0.4" fill="#7a4fa0"/>
<circle cx="50.8" cy="86.2" r="0.6" fill="#7a4fa0"/>
<circle cx="56.8" cy="63.5" r="0.4" fill="#7a4fa0"/>
<circle cx="75.8" cy="44.6" r="0.5" fill="#7a4fa0"/>
<circle cx="15.9" cy="7.8" r="0.7" fill="#b494d0"/>
<circle cx="34.8" cy="41.6" r="0.5" fill="#7a4fa0"/>
<circle cx="40.9" cy="83.4" r="0.7" fill="#7a4fa0"/>
<circle cx="88.0" cy="33.1" r="0.7" fill="#7a4fa0"/>
<circle cx="64.7" cy="36.9" r="0.7" fill="#7a4fa0"/>
<circle cx="84.8" cy="19.6" r="0.5" fill="#b494d0"/>
<circle cx="77.2" cy="11.5" r="0.7" fill="#c4a8dc"/>
<circle cx="37.5" cy="83.4" r="0.8" fill="#b494d0"/>
<circle cx="62.0" cy="86.3" r="0.6" fill="#c4a8dc"/>
<circle cx="47.1" cy="44.8" r="0.6" fill="#b494d0"/>
<circle cx="71.1" cy="30.1" r="0.4" fill="#b494d0"/>
<circle cx="59.9" cy="35.1" r="0.7" fill="#c4a8dc"/>
<circle cx="41.7" cy="54.8" r="0.6" fill="#b494d0"/>
<circle cx="44.2" cy="91.2" r="0.5" fill="#c4a8dc"/>
<circle cx="21.5" cy="24.3" r="0.7" fill="#7a4fa0"/>
<circle cx="23.6" cy="6.0" r="0.7" fill="#c4a8dc"/>
<circle cx="22.4" cy="19.8" r="0.8" fill="#7a4fa0"/>
<circle cx="51.5" cy="90.7" r="0.8" fill="#c4a8dc"/>
<circle cx="35.6" cy="10.9" r="0.4" fill="#7a4fa0"/>
<circle cx="62.5" cy="46.6" r="0.4" fill="#8658aa"/>
<circle cx="52.3" cy="51.3" r="0.5" fill="#b494d0"/>
<circle cx="41.1" cy="90.3" r="0.5" fill="#8658aa"/>
<circle cx="9.0" cy="72.9" r="0.4" fill="#b494d0"/>
<circle cx="79.2" cy="68.6" r="0.5" fill="#b494d0"/>
<circle cx="70.4" cy="54.2" r="0.8" fill="#8658aa"/>
<circle cx="63.4" cy="33.9" r="0.8" fill="#8658aa"/>
<circle cx="56.0" cy="77.3" r="0.8" fill="#7a4fa0"/>
<circle cx="22.9" cy="1.9" r="0.6" fill="#8658aa"/>
<circle cx="61.4" cy="26.6" r="0.6" fill="#8658aa"/>
<circle cx="44.6" cy="25.4" r="0.5" fill="#8658aa"/>
<circle cx="86.8" cy="14.2" r="0.5" fill="#b494d0"/>
<circle cx="56.1" cy="50.6" r="0.7" fill="#8658aa"/>
<circle cx="28.2" cy="39.7" r="0.7" fill="#b494d0"/>
<circle cx="44.3" cy="63.8" r="0.5" fill="#b494d0"/>
<circle cx="86.8" cy="47.0" r="0.6" fill="#8658aa"/>
<circle cx="81.5" cy="7.0" r="0.6" fill="#7a4fa0"/>
<circle cx="27.8" cy="0.2" r="0.8" fill="#7a4fa0"/>
<circle cx="18.0" cy="34.2" r="0.5" fill="#b494d0"/>
<circle cx="5.7" cy="62.0" r="0.4" fill="#7a4fa0"/>
<circle cx="38.0" cy="13.3" r="0.8" fill="#7a4fa0"/>
<circle cx="40.2" cy="63.2" r="0.4" fill="#8658aa"/>
<circle cx="56.4" cy="86.1" r="0.7" fill="#7a4fa0"/>
<circle cx="38.4" cy="45.2" r="0.4" fill="#c4a8dc"/>
<circle cx="2.7" cy="87.4" r="0.8" fill="#7a4fa0"/>
<circle cx="12.4" cy="27.9" r="0.5" fill="#8658aa"/>
<circle cx="86.4" cy="90.8" r="0.8" fill="#b494d0"/>
<circle cx="79.0" cy="87.0" r="0.4" fill="#c4a8dc"/>
<circle cx="73.2" cy="92.7" r="0.6" fill="#8658aa"/>
<circle cx="85.9" cy="8.0" r="0.6" fill="#7a4fa0"/>
<circle cx="10.0" cy="27.7" r="0.5" fill="#7a4fa0"/>
<circle cx="38.1" cy="13.9" r="0.4" fill="#7a4fa0"/>
<circle cx="0.1" cy="6.3" r="0.7" fill="#c4a8dc"/>
<circle cx="76.7" cy="37.9" r="0.5" fill="#8658aa"/>
<circle cx="36.1" cy="83.6" r="0.5" fill="#7a4fa0"/>
<circle cx="53.9" cy="48.9" r="0.5" fill="#8658aa"/>
<circle cx="41.9" cy="21.8" r="0.7" fill="#b494d0"/>
<circle cx="18.5" cy="19.7" r="0.6" fill="#b494d0"/>
<circle cx="72.1" cy="31.0" r="0.5" fill="#8658aa"/>
<circle cx="54.8" cy="53.4" r="0.6" fill="#7a4fa0"/>
<circle cx="17.0" cy="21.6" r="0.5" fill="#8658aa"/>
<circle cx="68.0" cy="19.0" r="0.4" fill="#b494d0"/>
<circle cx="49.7" cy="7.3" r="0.7" fill="#b494d0"/>
<circle cx="40.6" cy="4.2" r="0.6" fill="#b494d0"/>
<circle cx="34.1" cy="33.2" r="0.8" fill="#c4a8dc"/>
<circle cx="92.0" cy="39.0" r="0.7" fill="#b494d0"/>
<circle cx="31.1" cy="73.5" r="0.5" fill="#8658aa"/>
<circle cx="51.7" cy="87.8" r="0.4" fill="#7a4fa0"/>
<circle cx="4.8" cy="3.1" r="0.8" fill="#c4a8dc"/>
<circle cx="84.1" cy="13.3" r="0.4" fill="#c4a8dc"/>
<circle cx="88.4" cy="86.6" r="0.5" fill="#b494d0"/>
<circle cx="13.0" cy="66.5" r="0.8" fill="#b494d0"/>
<circle cx="21.8" cy="65.3" r="0.5" fill="#c4a8dc"/>
<circle cx="33.8" cy="67.6" r="0.8" fill="#b494d0"/>
<circle cx="86.4" cy="6.7" r="0.4" fill="#8658aa"/>
<circle cx="62.2" cy="11.5" r="0.5" fill="#7a4fa0"/>
<circle cx="25.2" cy="48.5" r="0.7" fill="#c4a8dc"/>
<circle cx="70.1" cy="49.0" r="0.8" fill="#7a4fa0"/>
<circle cx="60.1" cy="1.5" r="0.8" fill="#b494d0"/>
<circle cx="14.8" cy="30.7" r="0.6" fill="#8658aa"/>
<circle cx="44.5" cy="83.1" r="0.6" fill="#8658aa"/>
<circle cx="55.5" cy="78.7" r="0.6" fill="#b494d0"/>
<circle cx="13.6" cy="43.6" r="0.7" fill="#c4a8dc"/>
<circle cx="70.2" cy="37.2" r="0.4" fill="#b494d0"/>
<circle cx="4.2" cy="37.3" r="0.7" fill="#7a4fa0"/>
<circle cx="2.2" cy="39.4" r="0.8" fill="#7a4fa0"/>
<circle cx="42.8" cy="17.0" r="0.4" fill="#8658aa"/>
<circle cx="89.4" cy="31.3" r="0.7" fill="#8658aa"/>
<circle cx="63.3" cy="23.3" r="0.7" fill="#b494d0"/>
<circle cx="32.8" cy="82.2" r="0.6" fill="#c4a8dc"/>
<circle cx="39.5" cy="54.6" r="0.5" fill="#c4a8dc"/>
<circle cx="21.5" cy="87.0" r="0.7" fill="#b494d0"/>
<circle cx="43.1" cy="52.2" r="0.8" fill="#b494d0"/>
<circle cx="85.9" cy="29.2" r="0.6" fill="#c4a8dc"/>
<circle cx="14.5" cy="88.1" r="0.5" fill="#7a4fa0"/>
<circle cx="58.3" cy="0.3" r="0.6" fill="#7a4fa0"/>
<circle cx="45.7" cy="85.8" r="0.6" fill="#c4a8dc"/>
<circle cx="63.1" cy="61.6" r="0.5" fill="#c4a8dc"/>
<circle cx="52.8" cy="58.8" r="0.6" fill="#7a4fa0"/>
<circle cx="29.4" cy="59.4" r="0.4" fill="#b494d0"/>
<circle cx="89.3" cy="26.1" r="0.5" fill="#7a4fa0"/>
<circle cx="25.8" cy="4.7" r="0.6" fill="#c4a8dc"/>
<circle cx="73.4" cy="23.7" r="0.8" fill="#7a4fa0"/>
<circle cx="39.2" cy="51.6" r="0.8" fill="#c4a8dc"/>
<circle cx="79.1" cy="14.1" r="0.5" fill="#8658aa"/>
<circle cx="85.2" cy="60.1" r="0.7" fill="#c4a8dc"/>
<circle cx="73.9" cy="91.0" r="0.8" fill="#b494d0"/>
<circle cx="73.4" cy="66.2" r="0.7" fill="#b494d0"/>
<circle cx="10.8" cy="44.2" r="0.7" fill="#7a4fa0"/>
<circle cx="84.6" cy="2.1" r="0.6" fill="#8658aa"/>
<circle cx="43.3" cy="59.9" r="0.7" fill="#c4a8dc"/>
<circle cx="85.8" cy="59.9" r="0.4" fill="#b494d0"/>
<circle cx="10.1" cy="91.3" r="0.7" fill="#8658aa"/>
<circle cx="23.4" cy="56.8" r="0.7" fill="#8658aa"/>
<circle cx="90.6" cy="57.9" r="0.4" fill="#7a4fa0"/>
<circle cx="40.1" cy="37.9" r="0.5" fill="#7a4fa0"/>
<circle cx="52.4" cy="87.7" r="0.6" fill="#c4a8dc"/>
<circle cx="20.7" cy="66.1" r="0.4" fill="#b494d0"/>
<circle cx="46.0" cy="91.1" r="0.5" fill="#7a4fa0"/>
<circle cx="63.9" cy="48.0" r="0.5" fill="#8658aa"/>
<circle cx="63.6" cy="2.5" r="0.5" fill="#7a4fa0"/>
<circle cx="30.4" cy="86.2" r="0.8" fill="#8658aa"/>
<circle cx="49.0" cy="54.0" r="0.5" fill="#c4a8dc"/>
<circle cx="71.2" cy="31.0" r="0.5" fill="#c4a8dc"/>
<circle cx="6.1" cy="9.0" r="0.7" fill="#7a4fa0"/>
<circle cx="43.5" cy="69.2" r="0.5" fill="#b494d0"/>
<circle cx="85.8" cy="33.9" r="0.5" fill="#c4a8dc"/>
<circle cx="6.4" cy="4.9" r="0.5" fill="#c4a8dc"/>
<circle cx="19.8" cy="85.6" r="0.7" fill="#7a4fa0"/>
<circle cx="11.2" cy="40.3" r="0.7" fill="#8658aa"/>
<circle cx="53.9" cy="39.0" r="0.4" fill="#7a4fa0"/>
<circle cx="17.4" cy="71.2" r="0.4" fill="#b494d0"/>
<circle cx="16.9" cy="90.1" r="0.7" fill="#8658aa"/>
<circle cx="24.7" cy="74.1" r="0.4" fill="#7a4fa0"/>
<circle cx="42.0" cy="40.2" r="0.4" fill="#c4a8dc"/>
<circle cx="17.8" cy="23.5" r="0.8" fill="#7a4fa0"/>
<circle cx="0.2" cy="43.2" r="0.6" fill="#b494d0"/>
<circle cx="91.6" cy="46.3" r="0.7" fill="#b494d0"/>
<circle cx="37.1" cy="60.4" r="0.7" fill="#c4a8dc"/>
<circle cx="4.3" cy="66.1" r="0.4" fill="#7a4fa0"/>
<circle cx="52.5" cy="37.4" r="0.5" fill="#c4a8dc"/>
<circle cx="67.2" cy="57.6" r="0.4" fill="#b494d0"/>
<circle cx="78.4" cy="45.3" r="0.6" fill="#8658aa"/>
<circle cx="85.2" cy="59.3" r="0.5" fill="#7a4fa0"/>
<circle cx="20.3" cy="80.5" r="0.6" fill="#c4a8dc"/>
<circle cx="68.0" cy="80.9" r="0.4" fill="#7a4fa0"/>
<circle cx="72.8" cy="65.9" r="0.6" fill="#8658aa"/>
<circle cx="61.0" cy="19.0" r="0.5" fill="#b494d0"/>
<circle cx="57.4" cy="38.2" r="0.5" fill="#7a4fa0"/>
<circle cx="41.9" cy="44.0" r="0.7" fill="#c4a8dc"/>
<circle cx="60.7" cy="63.0" r="0.6" fill="#c4a8dc"/>
<circle cx="81.5" cy="7.0" r="0.5" fill="#b494d0"/>
<circle cx="66.6" cy="88.3" r="0.6" fill="#c4a8dc"/>
<circle cx="40.0" cy="60.8" r="0.5" fill="#7a4fa0"/>
<circle cx="49.6" cy="91.1" r="0.5" fill="#c4a8dc"/>
<circle cx="1.5" cy="38.7" r="0.7" fill="#8658aa"/>
<circle cx="8.3" cy="35.3" r="0.7" fill="#8658aa"/>
<circle cx="91.4" cy="18.3" r="0.8" fill="#7a4fa0"/>
<circle cx="45.8" cy="4.8" r="0.4" fill="#c4a8dc"/>
<circle cx="6.1" cy="90.9" r="0.7" fill="#8658aa"/>
<circle cx="68.7" cy="53.8" r="0.5" fill="#c4a8dc"/>
<circle cx="50.1" cy="91.8" r="0.4" fill="#8658aa"/>
<circle cx="74.5" cy="47.3" r="0.4" fill="#8658aa"/>
<circle cx="48.6" cy="46.1" r="0.4" fill="#c4a8dc"/>
<circle cx="61.0" cy="26.9" r="0.7" fill="#c4a8dc"/>
<circle cx="62.2" cy="9.1" r="0.4" fill="#c4a8dc"/>
<circle cx="48.7" cy="92.2" r="0.6" fill="#8658aa"/>
<circle cx="32.4" cy="70.6" r="0.4" fill="#8658aa"/>
<circle cx="50.2" cy="15.6" r="0.5" fill="#b494d0"/>
<circle cx="35.0" cy="25.4" r="0.5" fill="#7a4fa0"/>
<circle cx="49.6" cy="37.0" r="0.5" fill="#8658aa"/>
<circle cx="57.6" cy="77.6" r="0.6" fill="#b494d0"/>
<circle cx="16.4" cy="10.9" r="0.4" fill="#7a4fa0"/>
<circle cx="68.0" cy="24.6" r="0.6" fill="#7a4fa0"/>
<circle cx="61.2" cy="27.1" r="0.5" fill="#8658aa"/>
<circle cx="64.3" cy="31.3" r="0.7" fill="#b494d0"/>
<circle cx="77.8" cy="65.2" r="0.4" fill="#8658aa"/>
<circle cx="56.1" cy="91.8" r="0.5" fill="#b494d0"/>
<circle cx="55.4" cy="29.7" r="0.6" fill="#8658aa"/>
<circle cx="72.5" cy="82.5" r="0.4" fill="#b494d0"/>
<circle cx="84.2" cy="63.0" r="0.4" fill="#8658aa"/>
<circle cx="55.6" cy="32.4" r="0.7" fill="#8658aa"/>
<circle cx="80.2" cy="21.1" r="0.5" fill="#b494d0"/>
<circle cx="45.4" cy="62.2" r="0.7" fill="#7a4fa0"/>
<circle cx="70.5" cy="63.3" r="0.8" fill="#7a4fa0"/>
<circle cx="8.8" cy="4.1" r="0.5" fill="#c4a8dc"/>
<circle cx="55.2" cy="80.2" r="0.4" fill="#7a4fa0"/>
<circle cx="38.4" cy="84.5" r="0.6" fill="#8658aa"/>
<circle cx="4.0" cy="14.2" r="0.7" fill="#7a4fa0"/>
<circle cx="43.0" cy="26.9" r="0.6" fill="#8658aa"/>
<circle cx="23.0" cy="0.3" r="0.8" fill="#8658aa"/>
<circle cx="24.0" cy="1.5" r="0.5" fill="#b494d0"/>
<circle cx="24.7" cy="10.5" r="0.7" fill="#c4a8dc"/>
<circle cx="62.3" cy="17.7" r="0.6" fill="#c4a8dc"/>
<circle cx="63.7" cy="46.5" r="0.5" fill="#c4a8dc"/>
<circle cx="33.3" cy="24.7" r="0.5" fill="#b494d0"/>
<circle cx="26.2" cy="27.5" r="0.5" fill="#7a4fa0"/>
<circle cx="57.1" cy="26.6" r="0.4" fill="#c4a8dc"/>
<circle cx="63.6" cy="69.2" r="0.6" fill="#c4a8dc"/>
<circle cx="46.1" cy="21.1" r="0.6" fill="#b494d0"/>
<circle cx="6.8" cy="23.0" r="0.8" fill="#c4a8dc"/>
<circle cx="47.4" cy="28.8" r="0.7" fill="#8658aa"/>
<circle cx="91.1" cy="7.0" r="0.8" fill="#7a4fa0"/>
<circle cx="79.7" cy="74.3" r="0.7" fill="#7a4fa0"/>
<circle cx="41.2" cy="92.0" r="0.8" fill="#7a4fa0"/>
<circle cx="53.6" cy="16.1" r="0.6" fill="#b494d0"/>
<circle cx="62.0" cy="20.2" r="0.6" fill="#8658aa"/>
<circle cx="91.1" cy="85.7" r="0.6" fill="#7a4fa0"/>
<circle cx="20.2" cy="61.1" r="0.4" fill="#7a4fa0"/>
<circle cx="22.3" cy="28.9" r="0.4" fill="#7a4fa0"/>
<circle cx="89.8" cy="17.1" r="0.4" fill="#b494d0"/>
<circle cx="69.8" cy="5.3" r="0.4" fill="#b494d0"/>
<circle cx="72.8" cy="59.0" r="0.7" fill="#c4a8dc"/>
<circle cx="59.3" cy="91.6" r="0.7" fill="#b494d0"/>
<circle cx="29.4" cy="10.7" r="0.4" fill="#7a4fa0"/>
<circle cx="79.7" cy="28.3" r="0.7" fill="#8658aa"/>
<circle cx="35.7" cy="60.3" r="0.5" fill="#7a4fa0"/>
<circle cx="22.1" cy="25.9" r="0.8" fill="#7a4fa0"/>
<circle cx="6.1" cy="17.3" r="0.5" fill="#8658aa"/>
<circle cx="86.1" cy="61.9" r="0.4" fill="#c4a8dc"/>
<circle cx="86.0" cy="29.8" r="0.4" fill="#c4a8dc"/>
<circle cx="45.3" cy="35.7" r="0.6" fill="#7a4fa0"/>
<circle cx="10.8" cy="33.5" r="0.6" fill="#8658aa"/>
<circle cx="35.8" cy="87.7" r="0.6" fill="#b494d0"/>
<circle cx="18.8" cy="1.1" r="0.6" fill="#b494d0"/>
<circle cx="41.3" cy="45.1" r="0.4" fill="#7a4fa0"/>
<circle cx="12.0" cy="35.7" r="0.5" fill="#c4a8dc"/>
<circle cx="57.0" cy="69.4" r="0.7" fill="#7a4fa0"/>
<circle cx="32.3" cy="6.2" r="0.5" fill="#7a4fa0"/>
<circle cx="82.5" cy="22.5" r="0.6" fill="#b494d0"/>
<circle cx="8.0" cy="4.3" r="0.7" fill="#7a4fa0"/>
<circle cx="54.5" cy="21.4" r="0.4" fill="#c4a8dc"/>
<circle cx="10.3" cy="18.7" r="0.6" fill="#b494d0"/>
<circle cx="6.5" cy="76.9" r="0.7" fill="#c4a8dc"/>
<circle cx="13.8" cy="52.8" r="0.6" fill="#c4a8dc"/>
<circle cx="0.5" cy="28.6" r="0.8" fill="#7a4fa0"/>
<circle cx="17.8" cy="31.2" r="0.4" fill="#c4a8dc"/>
<circle cx="26.7" cy="26.6" r="0.6" fill="#b494d0"/>
<circle cx="35.3" cy="65.8" r="0.5" fill="#7a4fa0"/>
<circle cx="83.6" cy="3.8" r="0.5" fill="#8658aa"/>
<circle cx="22.5" cy="92.7" r="0.4" fill="#b494d0"/>
<circle cx="57.8" cy="80.5" r="0.5" fill="#8658aa"/>
<circle cx="10.4" cy="91.1" r="0.7" fill="#8658aa"/>
<circle cx="54.3" cy="62.9" r="0.6" fill="#8658aa"/>
<circle cx="91.9" cy="78.0" r="0.6" fill="#b494d0"/>
<circle cx="23.9" cy="46.2" r="0.4" fill="#7a4fa0"/>
<circle cx="40.0" cy="53.8" r="0.4" fill="#c4a8dc"/>
<circle cx="17.6" cy="41.6" r="0.7" fill="#7a4fa0"/>
<circle cx="24.2" cy="34.0" r="0.7" fill="#b494d0"/>
<circle cx="49.9" cy="24.4" r="0.5" fill="#8658aa"/>
<circle cx="67.5" cy="10.7" r="0.7" fill="#8658aa"/>
<circle cx="59.0" cy="43.6" r="0.6" fill="#7a4fa0"/>
<circle cx="6.0" cy="66.6" r="0.5" fill="#c4a8dc"/>
<circle cx="16.4" cy="43.1" r="0.6" fill="#c4a8dc"/>
<circle cx="24.7" cy="52.3" r="0.5" fill="#c4a8dc"/>
<circle cx="49.5" cy="57.5" r="0.8" fill="#b494d0"/>
<circle cx="11.6" cy="55.7" r="0.7" fill="#c4a8dc"/>
<circle cx="38.1" cy="17.0" r="0.7" fill="#8658aa"/>
<circle cx="89.1" cy="5.4" r="0.4" fill="#7a4fa0"/>
<circle cx="12.8" cy="62.9" r="0.5" fill="#8658aa"/>
<circle cx="50.4" cy="79.6" r="0.5" fill="#7a4fa0"/>
<circle cx="5.3" cy="60.3" r="0.6" fill="#7a4fa0"/>
<circle cx="2.7" cy="15.0" r="0.4" fill="#8658aa"/>
<circle cx="11.8" cy="56.1" r="0.7" fill="#8658aa"/>
<circle cx="84.5" cy="34.7" r="0.6" fill="#8658aa"/>
<circle cx="81.3" cy="51.5" r="0.6" fill="#7a4fa0"/>
<circle cx="62.3" cy="90.7" r="0.5" fill="#8658aa"/>
<circle cx="58.2" cy="43.6" r="0.4" fill="#c4a8dc"/>
<circle cx="78.4" cy="44.8" r="0.8" fill="#b494d0"/>
<circle cx="47.0" cy="5.5" r="0.4" fill="#8658aa"/>
<circle cx="62.7" cy="92.1" r="0.7" fill="#8658aa"/>
<circle cx="6.8" cy="56.6" r="0.5" fill="#8658aa"/>
<circle cx="36.3" cy="85.6" r="0.6" fill="#c4a8dc"/>
<circle cx="62.8" cy="79.5" r="0.4" fill="#7a4fa0"/>
<circle cx="4.3" cy="37.2" r="0.4" fill="#b494d0"/>
<circle cx="40.9" cy="52.9" r="0.4" fill="#b494d0"/>
<circle cx="70.3" cy="41.3" r="0.5" fill="#8658aa"/>
<circle cx="35.3" cy="84.8" r="0.7" fill="#7a4fa0"/>
<circle cx="81.5" cy="44.9" r="0.4" fill="#b494d0"/>
<circle cx="10.4" cy="81.6" r="0.7" fill="#b494d0"/>
<circle cx="19.7" cy="41.5" r="0.6" fill="#7a4fa0"/>
<circle cx="25.9" cy="4.5" r="0.7" fill="#c4a8dc"/>
<circle cx="71.8" cy="10.1" r="0.4" fill="#8658aa"/>
<circle cx="43.2" cy="83.8" r="0.7" fill="#b494d0"/>
<circle cx="76.2" cy="84.7" r="0.4" fill="#c4a8dc"/>
<circle cx="27.7" cy="85.3" r="0.4" fill="#7a4fa0"/>
<circle cx="38.6" cy="14.6" r="0.6" fill="#b494d0"/>
<circle cx="29.5" cy="67.3" r="0.8" fill="#7a4fa0"/>
<circle cx="75.1" cy="22.2" r="0.7" fill="#8658aa"/>
<circle cx="22.9" cy="51.3" r="0.5" fill="#b494d0"/>
<circle cx="54.7" cy="24.4" r="0.5" fill="#c4a8dc"/>
<circle cx="79.9" cy="87.1" r="0.5" fill="#7a4fa0"/>
<circle cx="10.9" cy="8.9" r="0.4" fill="#c4a8dc"/>
<circle cx="45.7" cy="59.9" r="0.5" fill="#8658aa"/>
<circle cx="7.1" cy="21.0" r="0.6" fill="#b494d0"/>
<circle cx="11.8" cy="65.3" r="0.6" fill="#c4a8dc"/>
<circle cx="37.4" cy="60.3" r="0.5" fill="#c4a8dc"/>
<circle cx="71.9" cy="11.5" r="0.5" fill="#c4a8dc"/>
<circle cx="32.4" cy="78.8" r="0.7" fill="#b494d0"/>
<circle cx="77.6" cy="35.9" r="0.6" fill="#8658aa"/>
<circle cx="35.4" cy="52.9" r="0.8" fill="#b494d0"/>
<circle cx="84.8" cy="28.2" r="0.5" fill="#7a4fa0"/>
<circle cx="64.4" cy="91.2" r="0.6" fill="#7a4fa0"/>
<circle cx="49.1" cy="72.3" r="0.6" fill="#7a4fa0"/>
<circle cx="80.7" cy="32.8" r="0.6" fill="#b494d0"/>
<circle cx="73.6" cy="86.7" r="0.7" fill="#8658aa"/>
<circle cx="67.1" cy="2.8" r="0.6" fill="#8658aa"/>
<circle cx="45.7" cy="1.1" r="0.5" fill="#7a4fa0"/>
<circle cx="72.9" cy="56.1" r="0.4" fill="#c4a8dc"/>
<circle cx="43.0" cy="45.4" r="0.5" fill="#c4a8dc"/>
<circle cx="40.3" cy="24.0" r="0.4" fill="#7a4fa0"/>
<circle cx="11.6" cy="75.1" r="0.4" fill="#7a4fa0"/>
<circle cx="46.4" cy="16.6" r="0.6" fill="#8658aa"/>
<circle cx="91.3" cy="53.7" r="0.8" fill="#7a4fa0"/>
<circle cx="69.7" cy="60.1" r="0.6" fill="#8658aa"/>
<circle cx="61.6" cy="14.7" r="0.6" fill="#c4a8dc"/>
<circle cx="74.1" cy="69.3" r="0.8" fill="#c4a8dc"/>
<circle cx="8.5" cy="13.5" r="0.4" fill="#b494d0"/>
<circle cx="88.5" cy="72.4" r="0.4" fill="#b494d0"/>
<circle cx="42.8" cy="52.5" r="0.5" fill="#8658aa"/>
<circle cx="9.5" cy="31.1" r="0.5" fill="#c4a8dc"/>
<circle cx="50.4" cy="8.7" r="0.7" fill="#7a4fa0"/>
<circle cx="32.0" cy="60.3" r="0.7" fill="#b494d0"/>
<circle cx="38.0" cy="48.4" r="0.4" fill="#c4a8dc"/>
<circle cx="3.8" cy="5.5" r="0.6" fill="#b494d0"/>
<circle cx="54.9" cy="52.7" r="0.6" fill="#c4a8dc"/>
<circle cx="0.3" cy="91.8" r="0.7" fill="#c4a8dc"/>
<circle cx="57.6" cy="44.3" r="0.6" fill="#c4a8dc"/>
<circle cx="16.4" cy="70.3" r="0.7" fill="#b494d0"/>
<circle cx="59.4" cy="34.0" r="0.5" fill="#7a4fa0"/>
<circle cx="83.7" cy="44.1" r="0.4" fill="#8658aa"/>
<circle cx="8.4" cy="26.5" r="0.7" fill="#8658aa"/>
<circle cx="40.2" cy="42.5" r="0.6" fill="#8658aa"/>
<circle cx="73.0" cy="47.0" r="0.8" fill="#8658aa"/>
<circle cx="89.4" cy="64.9" r="0.4" fill="#c4a8dc"/>
<circle cx="51.8" cy="86.4" r="0.6" fill="#c4a8dc"/>
<circle cx="61.5" cy="20.9" r="0.5" fill="#7a4fa0"/>
<circle cx="29.1" cy="34.3" r="0.5" fill="#b494d0"/>
<circle cx="5.4" cy="63.9" r="0.6" fill="#8658aa"/>
<circle cx="16.2" cy="9.8" r="0.4" fill="#b494d0"/>
<circle cx="17.1" cy="76.0" r="0.8" fill="#b494d0"/>
<circle cx="17.4" cy="29.3" r="0.7" fill="#8658aa"/>
<circle cx="4.1" cy="45.5" r="0.4" fill="#7a4fa0"/>
<circle cx="73.0" cy="24.3" r="0.7" fill="#8658aa"/>
<circle cx="55.3" cy="89.2" r="0.8" fill="#b494d0"/>
<circle cx="78.4" cy="30.6" r="0.8" fill="#b494d0"/>
<circle cx="11.2" cy="28.2" r="0.5" fill="#8658aa"/>
<circle cx="18.8" cy="83.5" r="0.7" fill="#7a4fa0"/>
<circle cx="4.7" cy="26.6" r="0.5" fill="#c4a8dc"/>
<circle cx="36.7" cy="7.2" r="0.7" fill="#c4a8dc"/>
<circle cx="6.6" cy="22.8" r="0.7" fill="#8658aa"/>
<circle cx="40.3" cy="46.5" r="0.7" fill="#8658aa"/>
<circle cx="37.9" cy="50.8" r="0.5" fill="#8658aa"/>
<circle cx="34.0" cy="42.4" r="0.4" fill="#c4a8dc"/>
<circle cx="73.3" cy="8.6" r="0.6" fill="#7a4fa0"/>
<circle cx="27.3" cy="27.7" r="0.4" fill="#7a4fa0"/>
<circle cx="74.0" cy="55.3" r="0.7" fill="#7a4fa0"/>
<circle cx="33.1" cy="41.3" r="0.6" fill="#7a4fa0"/>
<circle cx="38.6" cy="37.4" r="0.7" fill="#c4a8dc"/>
<circle cx="8.9" cy="35.9" r="0.5" fill="#c4a8dc"/>
<circle cx="72.9" cy="77.7" r="0.8" fill="#b494d0"/>
<circle cx="62.0" cy="42.9" r="0.6" fill="#7a4fa0"/>
<circle cx="76.6" cy="76.9" r="0.6" fill="#7a4fa0"/>
<circle cx="55.1" cy="12.3" r="0.4" fill="#b494d0"/>
<circle cx="82.6" cy="25.1" r="0.8" fill="#c4a8dc"/>
<circle cx="10.3" cy="58.9" r="0.7" fill="#c4a8dc"/>
<circle cx="0.6" cy="20.9" r="0.7" fill="#8658aa"/>
<circle cx="88.4" cy="38.1" r="0.6" fill="#7a4fa0"/>
<circle cx="54.1" cy="65.2" r="0.4" fill="#c4a8dc"/>
</g>
<path d="M0,71 C6,75 14,81 22,87 L27,93 L14,93 C9,88 4,84 0,82 Z" fill="#d7a2cf"/>
<path d="M0,83 C4,86 8,89 10,93 L0,93 Z" fill="#efe6f3"/>
<circle cx="8.4" cy="72.0" r="3.0" fill="#9a72bb" stroke="#6c4494" stroke-width="0.9"/>
<circle cx="8.4" cy="72.0" r="0.9" fill="#bea6d6"/>
<circle cx="13.7" cy="78.2" r="3.3" fill="#9a72bb" stroke="#6c4494" stroke-width="0.9"/>
<circle cx="13.7" cy="78.2" r="1.0" fill="#bea6d6"/>
<circle cx="17.0" cy="72.4" r="2.8" fill="#9a72bb" stroke="#6c4494" stroke-width="0.9"/>
<circle cx="17.0" cy="72.4" r="0.8" fill="#bea6d6"/>
<circle cx="23.2" cy="76.0" r="3.2" fill="#9a72bb" stroke="#6c4494" stroke-width="0.9"/>
<circle cx="23.2" cy="76.0" r="1.0" fill="#bea6d6"/>
<circle cx="27.0" cy="83.2" r="3.2" fill="#9a72bb" stroke="#6c4494" stroke-width="0.9"/>
<circle cx="27.0" cy="83.2" r="1.0" fill="#bea6d6"/>
<circle cx="33.5" cy="84.5" r="3.3" fill="#9a72bb" stroke="#6c4494" stroke-width="0.9"/>
<circle cx="33.5" cy="84.5" r="1.0" fill="#bea6d6"/>
<circle cx="40.5" cy="86.5" r="3.3" fill="#9a72bb" stroke="#6c4494" stroke-width="0.9"/>
<circle cx="40.5" cy="86.5" r="1.0" fill="#bea6d6"/>
<circle cx="31.0" cy="78.0" r="2.8" fill="#9a72bb" stroke="#6c4494" stroke-width="0.9"/>
<circle cx="31.0" cy="78.0" r="0.8" fill="#bea6d6"/>
<circle cx="4.0" cy="63.0" r="2.8" fill="#9a72bb" stroke="#6c4494" stroke-width="0.9"/>
<circle cx="4.0" cy="63.0" r="0.8" fill="#bea6d6"/>
<circle cx="9.0" cy="65.0" r="2.6" fill="#9a72bb" stroke="#6c4494" stroke-width="0.9"/>
<circle cx="9.0" cy="65.0" r="0.8" fill="#bea6d6"/>
<circle cx="38.0" cy="79.0" r="2.8" fill="#9a72bb" stroke="#6c4494" stroke-width="0.9"/>
<circle cx="38.0" cy="79.0" r="0.8" fill="#bea6d6"/>
<circle cx="81.6" cy="3.0" r="0.7" fill="#8a5eae"/>
<circle cx="90.7" cy="1.1" r="1.0" fill="#8a5eae"/>
<circle cx="83.1" cy="4.5" r="0.7" fill="#8a5eae"/>
<circle cx="80.2" cy="4.3" r="0.9" fill="#b08ccc"/>
<circle cx="78.2" cy="0.2" r="1.2" fill="#b08ccc"/>
<circle cx="76.6" cy="2.2" r="1.0" fill="#b08ccc"/>
<circle cx="81.6" cy="6.3" r="1.1" fill="#8a5eae"/>
<circle cx="78.2" cy="0.2" r="0.7" fill="#9c70bc"/>
<circle cx="91.8" cy="8.6" r="1.4" fill="#b08ccc"/>
<circle cx="76.7" cy="2.2" r="1.2" fill="#8a5eae"/>
<circle cx="83.0" cy="4.0" r="0.8" fill="#b08ccc"/>
<circle cx="83.6" cy="1.2" r="0.9" fill="#b08ccc"/>
<circle cx="87.3" cy="8.6" r="1.1" fill="#b08ccc"/>
<circle cx="78.5" cy="5.8" r="0.7" fill="#9c70bc"/>
<circle cx="75.5" cy="6.7" r="0.7" fill="#9c70bc"/>
<circle cx="90.5" cy="7.6" r="1.3" fill="#8a5eae"/>
<circle cx="83.3" cy="0.7" r="1.2" fill="#b08ccc"/>
<circle cx="88.8" cy="0.4" r="0.6" fill="#b08ccc"/>
<circle cx="87.0" cy="0.4" r="1.1" fill="#b08ccc"/>
<circle cx="80.9" cy="6.1" r="1.1" fill="#b08ccc"/>
<circle cx="80.7" cy="0.5" r="1.4" fill="#8a5eae"/>
<circle cx="86.5" cy="7.2" r="1.0" fill="#9c70bc"/>
<circle cx="75.0" cy="4.0" r="1.3" fill="#b08ccc"/>
<circle cx="74.2" cy="0.0" r="0.9" fill="#9c70bc"/>
<circle cx="88.7" cy="1.2" r="1.4" fill="#b08ccc"/>
<circle cx="83.8" cy="1.2" r="1.2" fill="#b08ccc"/>
<circle cx="89.4" cy="5.5" r="1.2" fill="#b08ccc"/>
<circle cx="75.5" cy="0.7" r="1.1" fill="#8a5eae"/>
<circle cx="85.3" cy="0.5" r="1.1" fill="#9c70bc"/>
<circle cx="85.4" cy="5.5" r="1.2" fill="#8a5eae"/>
<circle cx="81.2" cy="0.1" r="1.1" fill="#b08ccc"/>
<circle cx="75.4" cy="7.5" r="0.9" fill="#9c70bc"/>
<circle cx="72.1" cy="7.5" r="1.1" fill="#8a5eae"/>
<circle cx="83.9" cy="7.7" r="1.2" fill="#9c70bc"/>
<circle cx="81.2" cy="8.1" r="0.9" fill="#9c70bc"/>
<circle cx="83.1" cy="8.3" r="0.6" fill="#b08ccc"/>
<circle cx="79.9" cy="2.5" r="1.2" fill="#9c70bc"/>
<circle cx="83.5" cy="6.7" r="1.2" fill="#9c70bc"/>
<circle cx="84.0" cy="3.8" r="1.2" fill="#8a5eae"/>
<circle cx="84.4" cy="6.2" r="1.1" fill="#8a5eae"/>
<circle cx="76.5" cy="0.1" r="0.8" fill="#b08ccc"/>
<circle cx="77.8" cy="4.4" r="1.0" fill="#8a5eae"/>
<circle cx="86.0" cy="3.2" r="0.9" fill="#8a5eae"/>
<circle cx="91.0" cy="7.0" r="1.2" fill="#b08ccc"/>
<circle cx="74.7" cy="2.8" r="0.9" fill="#8a5eae"/>
<circle cx="74.6" cy="6.7" r="1.3" fill="#b08ccc"/>
<circle cx="87.5" cy="1.4" r="1.1" fill="#b08ccc"/>
<circle cx="80.8" cy="4.2" r="0.9" fill="#8a5eae"/>
<circle cx="82.2" cy="2.4" r="1.4" fill="#8a5eae"/>
<circle cx="88.4" cy="6.6" r="0.6" fill="#9c70bc"/>
<circle cx="76.4" cy="2.7" r="1.1" fill="#8a5eae"/>
<circle cx="88.9" cy="8.8" r="1.0" fill="#9c70bc"/>
<circle cx="89.8" cy="8.3" r="0.8" fill="#8a5eae"/>
<circle cx="73.8" cy="5.2" r="0.7" fill="#9c70bc"/>
<circle cx="82.3" cy="6.2" r="0.8" fill="#b08ccc"/>
<circle cx="82.5" cy="0.0" r="1.2" fill="#9c70bc"/>
<circle cx="88.9" cy="6.9" r="1.2" fill="#8a5eae"/>
<circle cx="81.9" cy="4.0" r="0.8" fill="#b08ccc"/>
<circle cx="82.5" cy="8.3" r="1.1" fill="#9c70bc"/>
<circle cx="78.6" cy="1.6" r="0.9" fill="#b08ccc"/>
</g></g>
<rect x="16.2" y="319.2" width="90.9" height="92.3" fill="none" stroke="#808080" stroke-width="0.9"/>
<g clip-path="url(#c1)"><g transform="translate(112.4,319.2)" filter="url(#hb)">
<rect x="-1" y="-1" width="94" height="95" fill="#d6bde2"/>
<ellipse cx="7.0" cy="22.0" rx="13.0" ry="22.0" fill="#e2b2dd" opacity="0.85"/>
<circle cx="88.2" cy="13.1" r="0.4" fill="#f6eff8"/>
<circle cx="17.0" cy="11.2" r="0.7" fill="#c6a9dc"/>
<circle cx="72.9" cy="7.4" r="0.5" fill="#b896d2"/>
<circle cx="29.4" cy="55.9" r="0.9" fill="#e0cdea"/>
<circle cx="67.4" cy="40.0" r="0.8" fill="#b08fcd"/>
<circle cx="81.1" cy="54.8" r="0.6" fill="#efe4f4"/>
<circle cx="16.6" cy="10.4" r="0.7" fill="#e0cdea"/>
<circle cx="71.2" cy="89.4" r="0.7" fill="#e0cdea"/>
<circle cx="30.0" cy="31.1" r="0.5" fill="#f6eff8"/>
<circle cx="28.7" cy="72.6" r="0.9" fill="#e0cdea"/>
<circle cx="47.4" cy="26.0" r="0.5" fill="#e0cdea"/>
<circle cx="17.0" cy="4.6" r="0.7" fill="#b896d2"/>
<circle cx="38.6" cy="23.4" r="0.5" fill="#f6eff8"/>
<circle cx="36.5" cy="86.0" r="0.5" fill="#b08fcd"/>
<circle cx="34.4" cy="54.2" r="0.5" fill="#b08fcd"/>
<circle cx="51.6" cy="49.0" r="0.8" fill="#b08fcd"/>
<circle cx="39.3" cy="8.4" r="0.6" fill="#b896d2"/>
<circle cx="39.7" cy="37.5" r="0.9" fill="#efe4f4"/>
<circle cx="47.1" cy="37.3" r="0.4" fill="#efe4f4"/>
<circle cx="15.8" cy="50.8" r="0.6" fill="#c6a9dc"/>
<circle cx="83.7" cy="58.5" r="0.6" fill="#b896d2"/>
<circle cx="49.3" cy="74.0" r="0.7" fill="#efe4f4"/>
<circle cx="60.3" cy="9.4" r="0.5" fill="#b896d2"/>
<circle cx="76.2" cy="85.7" r="0.6" fill="#b896d2"/>
<circle cx="45.9" cy="48.7" r="0.7" fill="#e0cdea"/>
<circle cx="68.4" cy="44.0" r="0.8" fill="#e0cdea"/>
<circle cx="65.7" cy="88.8" r="0.5" fill="#b08fcd"/>
<circle cx="23.8" cy="11.1" r="0.5" fill="#c6a9dc"/>
<circle cx="58.4" cy="31.7" r="0.5" fill="#e0cdea"/>
<circle cx="54.9" cy="65.1" r="0.5" fill="#b896d2"/>
<circle cx="89.0" cy="32.8" r="0.5" fill="#efe4f4"/>
<circle cx="49.2" cy="45.3" r="0.4" fill="#b896d2"/>
<circle cx="25.4" cy="9.1" r="0.6" fill="#efe4f4"/>
<circle cx="37.1" cy="10.9" r="0.9" fill="#b08fcd"/>
<circle cx="76.7" cy="3.6" r="0.6" fill="#b08fcd"/>
<circle cx="3.0" cy="18.9" r="0.6" fill="#f6eff8"/>
<circle cx="4.5" cy="64.1" r="0.6" fill="#c6a9dc"/>
<circle cx="22.9" cy="21.5" r="0.5" fill="#b896d2"/>
<circle cx="85.6" cy="52.6" r="0.5" fill="#e0cdea"/>
<circle cx="29.3" cy="2.8" r="0.5" fill="#c6a9dc"/>
<circle cx="3.9" cy="45.3" r="0.4" fill="#b896d2"/>
<circle cx="19.8" cy="75.5" r="0.6" fill="#e0cdea"/>
<circle cx="21.5" cy="49.7" r="0.5" fill="#c6a9dc"/>
<circle cx="23.8" cy="90.3" r="0.7" fill="#e0cdea"/>
<circle cx="34.9" cy="59.5" r="0.5" fill="#b08fcd"/>
<circle cx="50.7" cy="33.7" r="0.8" fill="#b08fcd"/>
<circle cx="24.2" cy="24.1" r="0.7" fill="#c6a9dc"/>
<circle cx="77.2" cy="47.4" r="0.7" fill="#efe4f4"/>
<circle cx="89.6" cy="17.7" r="0.6" fill="#b896d2"/>
<circle cx="35.6" cy="61.0" r="0.5" fill="#efe4f4"/>
<circle cx="7.9" cy="85.6" r="0.6" fill="#b896d2"/>
<circle cx="47.6" cy="90.2" r="0.5" fill="#b08fcd"/>
<circle cx="33.3" cy="88.6" r="0.4" fill="#c6a9dc"/>
<circle cx="70.6" cy="2.0" r="0.9" fill="#e0cdea"/>
<circle cx="4.7" cy="58.8" r="0.4" fill="#b08fcd"/>
<circle cx="6.1" cy="16.6" r="0.7" fill="#c6a9dc"/>
<circle cx="83.7" cy="38.3" r="0.7" fill="#e0cdea"/>
<circle cx="50.5" cy="30.0" r="0.7" fill="#e0cdea"/>
<circle cx="4.8" cy="21.8" r="0.7" fill="#c6a9dc"/>
<circle cx="62.5" cy="0.3" r="0.5" fill="#b896d2"/>
<circle cx="85.2" cy="27.7" r="0.4" fill="#c6a9dc"/>
<circle cx="10.4" cy="84.4" r="0.8" fill="#efe4f4"/>
<circle cx="14.7" cy="26.5" r="0.6" fill="#efe4f4"/>
<circle cx="74.8" cy="28.5" r="0.7" fill="#b08fcd"/>
<circle cx="88.2" cy="34.9" r="0.4" fill="#c6a9dc"/>
<circle cx="47.3" cy="20.2" r="0.5" fill="#efe4f4"/>
<circle cx="69.1" cy="51.7" r="0.6" fill="#c6a9dc"/>
<circle cx="91.5" cy="76.3" r="0.5" fill="#f6eff8"/>
<circle cx="30.0" cy="15.5" r="0.6" fill="#e0cdea"/>
<circle cx="31.2" cy="35.4" r="0.9" fill="#b08fcd"/>
<circle cx="82.4" cy="40.4" r="0.7" fill="#f6eff8"/>
<circle cx="63.1" cy="75.1" r="0.7" fill="#c6a9dc"/>
<circle cx="19.2" cy="64.0" r="0.9" fill="#b896d2"/>
<circle cx="14.2" cy="42.2" r="0.8" fill="#efe4f4"/>
<circle cx="51.8" cy="73.6" r="0.5" fill="#efe4f4"/>
<circle cx="1.9" cy="85.6" r="0.7" fill="#c6a9dc"/>
<circle cx="49.5" cy="54.5" r="0.5" fill="#c6a9dc"/>
<circle cx="67.9" cy="41.8" r="0.8" fill="#f6eff8"/>
<circle cx="61.4" cy="42.0" r="0.8" fill="#f6eff8"/>
<circle cx="24.1" cy="80.8" r="0.8" fill="#efe4f4"/>
<circle cx="59.2" cy="25.2" r="0.5" fill="#b896d2"/>
<circle cx="55.4" cy="22.3" r="0.7" fill="#c6a9dc"/>
<circle cx="42.4" cy="75.1" r="0.9" fill="#b896d2"/>
<circle cx="53.4" cy="21.2" r="0.6" fill="#efe4f4"/>
<circle cx="88.8" cy="12.8" r="0.7" fill="#b08fcd"/>
<circle cx="28.3" cy="72.3" r="0.5" fill="#e0cdea"/>
<circle cx="46.8" cy="85.4" r="0.6" fill="#b896d2"/>
<circle cx="34.3" cy="60.4" r="0.5" fill="#b896d2"/>
<circle cx="15.2" cy="92.6" r="0.6" fill="#f6eff8"/>
<circle cx="86.5" cy="47.3" r="0.5" fill="#b896d2"/>
<circle cx="24.0" cy="11.3" r="0.5" fill="#e0cdea"/>
<circle cx="7.7" cy="46.6" r="0.5" fill="#f6eff8"/>
<circle cx="49.5" cy="30.3" r="0.8" fill="#c6a9dc"/>
<circle cx="21.0" cy="16.7" r="0.8" fill="#b896d2"/>
<circle cx="56.5" cy="33.8" r="0.4" fill="#b08fcd"/>
<circle cx="49.8" cy="85.9" r="0.7" fill="#c6a9dc"/>
<circle cx="87.6" cy="71.3" r="0.4" fill="#f6eff8"/>
<circle cx="24.3" cy="53.0" r="0.7" fill="#c6a9dc"/>
<circle cx="13.5" cy="84.2" r="0.9" fill="#b08fcd"/>
<circle cx="8.9" cy="2.8" r="0.6" fill="#b896d2"/>
<circle cx="14.5" cy="88.6" r="0.9" fill="#f6eff8"/>
<circle cx="60.6" cy="39.5" r="0.6" fill="#b896d2"/>
<circle cx="78.7" cy="36.2" r="0.5" fill="#b08fcd"/>
<circle cx="51.7" cy="84.0" r="0.9" fill="#e0cdea"/>
<circle cx="10.1" cy="43.2" r="0.5" fill="#f6eff8"/>
<circle cx="76.6" cy="42.3" r="0.5" fill="#b896d2"/>
<circle cx="91.3" cy="17.9" r="0.6" fill="#e0cdea"/>
<circle cx="73.0" cy="58.7" r="0.6" fill="#e0cdea"/>
<circle cx="32.9" cy="25.1" r="0.6" fill="#b08fcd"/>
<circle cx="43.1" cy="20.6" r="0.5" fill="#f6eff8"/>
<circle cx="14.0" cy="75.4" r="0.8" fill="#c6a9dc"/>
<circle cx="67.8" cy="1.0" r="0.8" fill="#f6eff8"/>
<circle cx="48.3" cy="82.2" r="0.6" fill="#b896d2"/>
<circle cx="19.5" cy="68.3" r="0.4" fill="#b896d2"/>
<circle cx="76.3" cy="11.0" r="0.6" fill="#b896d2"/>
<circle cx="58.7" cy="88.8" r="0.9" fill="#efe4f4"/>
<circle cx="13.8" cy="61.2" r="0.5" fill="#b08fcd"/>
<circle cx="44.3" cy="40.0" r="0.8" fill="#c6a9dc"/>
<circle cx="12.5" cy="12.5" r="0.8" fill="#efe4f4"/>
<circle cx="84.1" cy="63.5" r="0.6" fill="#c6a9dc"/>
<circle cx="56.6" cy="62.2" r="0.7" fill="#b08fcd"/>
<circle cx="83.7" cy="18.5" r="0.5" fill="#efe4f4"/>
<circle cx="29.4" cy="12.3" r="0.4" fill="#e0cdea"/>
<circle cx="20.9" cy="4.6" r="0.6" fill="#b08fcd"/>
<circle cx="27.0" cy="11.1" r="0.4" fill="#b896d2"/>
<circle cx="68.2" cy="1.9" r="0.7" fill="#b08fcd"/>
<circle cx="44.8" cy="43.1" r="0.7" fill="#efe4f4"/>
<circle cx="69.7" cy="71.2" r="0.5" fill="#c6a9dc"/>
<circle cx="4.1" cy="14.7" r="0.4" fill="#b08fcd"/>
<circle cx="40.7" cy="74.6" r="0.7" fill="#c6a9dc"/>
<circle cx="21.4" cy="11.8" r="0.7" fill="#e0cdea"/>
<circle cx="89.6" cy="4.2" r="0.4" fill="#e0cdea"/>
<circle cx="2.3" cy="28.5" r="0.8" fill="#f6eff8"/>
<circle cx="35.6" cy="33.0" r="0.7" fill="#b08fcd"/>
<circle cx="9.0" cy="10.4" r="0.6" fill="#c6a9dc"/>
<circle cx="35.9" cy="23.1" r="0.8" fill="#b896d2"/>
<circle cx="91.2" cy="5.2" r="0.8" fill="#f6eff8"/>
<circle cx="30.0" cy="24.8" r="0.6" fill="#b896d2"/>
<circle cx="88.3" cy="31.5" r="0.8" fill="#c6a9dc"/>
<circle cx="24.9" cy="6.7" r="0.8" fill="#c6a9dc"/>
<circle cx="73.1" cy="38.4" r="0.8" fill="#e0cdea"/>
<circle cx="9.0" cy="14.7" r="0.5" fill="#efe4f4"/>
<circle cx="21.6" cy="40.1" r="0.4" fill="#c6a9dc"/>
<circle cx="43.0" cy="60.4" r="0.6" fill="#f6eff8"/>
<circle cx="8.0" cy="32.9" r="0.6" fill="#f6eff8"/>
<circle cx="27.4" cy="25.9" r="0.5" fill="#b08fcd"/>
<circle cx="56.1" cy="41.0" r="0.6" fill="#f6eff8"/>
<circle cx="54.9" cy="55.2" r="0.6" fill="#f6eff8"/>
<circle cx="22.3" cy="44.3" r="0.6" fill="#b896d2"/>
<circle cx="67.0" cy="88.8" r="0.8" fill="#b08fcd"/>
<circle cx="10.0" cy="89.7" r="0.8" fill="#c6a9dc"/>
<circle cx="69.1" cy="67.3" r="0.8" fill="#b896d2"/>
<circle cx="44.5" cy="88.1" r="0.8" fill="#b896d2"/>
<circle cx="79.9" cy="37.7" r="0.6" fill="#b896d2"/>
<circle cx="35.1" cy="91.5" r="0.6" fill="#b896d2"/>
<circle cx="48.1" cy="4.4" r="0.4" fill="#b896d2"/>
<circle cx="69.5" cy="39.1" r="0.7" fill="#e0cdea"/>
<circle cx="47.4" cy="12.1" r="0.8" fill="#efe4f4"/>
<circle cx="46.9" cy="54.3" r="0.5" fill="#b08fcd"/>
<circle cx="28.6" cy="80.3" r="0.6" fill="#b896d2"/>
<circle cx="68.0" cy="80.4" r="0.9" fill="#efe4f4"/>
<circle cx="49.3" cy="16.2" r="0.7" fill="#e0cdea"/>
<circle cx="21.1" cy="53.7" r="0.5" fill="#efe4f4"/>
<circle cx="24.8" cy="31.2" r="0.4" fill="#f6eff8"/>
<circle cx="32.6" cy="21.0" r="0.6" fill="#f6eff8"/>
<circle cx="61.9" cy="23.2" r="0.9" fill="#b896d2"/>
<circle cx="27.1" cy="62.6" r="0.7" fill="#e0cdea"/>
<circle cx="84.9" cy="54.9" r="0.8" fill="#f6eff8"/>
<circle cx="32.1" cy="59.1" r="0.5" fill="#b08fcd"/>
<circle cx="8.5" cy="44.3" r="0.7" fill="#b08fcd"/>
<circle cx="41.0" cy="19.9" r="0.4" fill="#b08fcd"/>
<circle cx="80.6" cy="1.6" r="0.7" fill="#b08fcd"/>
<circle cx="68.2" cy="54.5" r="0.5" fill="#b896d2"/>
<circle cx="36.0" cy="88.3" r="0.5" fill="#b896d2"/>
<circle cx="90.8" cy="76.7" r="0.7" fill="#f6eff8"/>
<circle cx="27.5" cy="53.2" r="0.4" fill="#e0cdea"/>
<circle cx="14.4" cy="83.6" r="0.7" fill="#f6eff8"/>
<circle cx="27.6" cy="4.1" r="0.8" fill="#b08fcd"/>
<circle cx="72.3" cy="46.4" r="0.7" fill="#e0cdea"/>
<circle cx="74.2" cy="70.7" r="0.7" fill="#c6a9dc"/>
<circle cx="65.8" cy="17.0" r="0.7" fill="#e0cdea"/>
<circle cx="18.1" cy="56.1" r="0.7" fill="#b08fcd"/>
<circle cx="19.3" cy="44.6" r="0.4" fill="#f6eff8"/>
<circle cx="9.8" cy="39.6" r="0.7" fill="#f6eff8"/>
<circle cx="82.4" cy="29.7" r="0.5" fill="#f6eff8"/>
<circle cx="85.6" cy="37.4" r="0.7" fill="#efe4f4"/>
<circle cx="58.1" cy="49.5" r="0.8" fill="#efe4f4"/>
<circle cx="89.0" cy="15.4" r="0.6" fill="#b896d2"/>
<circle cx="63.7" cy="40.4" r="0.5" fill="#f6eff8"/>
<circle cx="44.5" cy="74.2" r="0.4" fill="#b08fcd"/>
<circle cx="23.3" cy="55.2" r="0.7" fill="#efe4f4"/>
<circle cx="8.2" cy="64.0" r="0.6" fill="#f6eff8"/>
<circle cx="77.2" cy="13.8" r="0.8" fill="#f6eff8"/>
<circle cx="76.6" cy="78.0" r="0.8" fill="#f6eff8"/>
<circle cx="5.6" cy="64.8" r="0.7" fill="#efe4f4"/>
<circle cx="81.3" cy="44.5" r="0.9" fill="#c6a9dc"/>
<circle cx="3.7" cy="58.9" r="0.8" fill="#b896d2"/>
<circle cx="20.9" cy="46.9" r="0.7" fill="#b896d2"/>
<circle cx="48.8" cy="8.4" r="0.5" fill="#f6eff8"/>
<circle cx="32.1" cy="44.6" r="0.7" fill="#c6a9dc"/>
<circle cx="4.0" cy="80.3" r="0.8" fill="#efe4f4"/>
<circle cx="77.5" cy="16.5" r="0.7" fill="#b08fcd"/>
<circle cx="48.8" cy="58.7" r="0.7" fill="#e0cdea"/>
<circle cx="59.3" cy="41.3" r="0.9" fill="#b896d2"/>
<circle cx="11.5" cy="66.7" r="0.6" fill="#c6a9dc"/>
<circle cx="45.6" cy="17.8" r="0.8" fill="#b08fcd"/>
<circle cx="87.6" cy="47.4" r="0.4" fill="#efe4f4"/>
<circle cx="15.4" cy="53.4" r="0.9" fill="#c6a9dc"/>
<circle cx="85.9" cy="1.9" r="0.4" fill="#e0cdea"/>
<circle cx="10.8" cy="58.4" r="0.5" fill="#e0cdea"/>
<circle cx="74.2" cy="19.0" r="0.7" fill="#f6eff8"/>
<circle cx="79.0" cy="14.4" r="0.8" fill="#b896d2"/>
<circle cx="26.9" cy="0.1" r="0.4" fill="#b08fcd"/>
<circle cx="6.2" cy="22.6" r="0.6" fill="#b896d2"/>
<circle cx="61.1" cy="60.7" r="0.9" fill="#efe4f4"/>
<circle cx="56.7" cy="87.1" r="0.8" fill="#e0cdea"/>
<circle cx="78.5" cy="86.5" r="0.8" fill="#b08fcd"/>
<circle cx="75.1" cy="49.7" r="0.4" fill="#e0cdea"/>
<circle cx="2.8" cy="29.0" r="0.4" fill="#c6a9dc"/>
<circle cx="81.4" cy="84.1" r="0.4" fill="#b896d2"/>
<circle cx="57.2" cy="24.7" r="0.6" fill="#e0cdea"/>
<circle cx="42.5" cy="66.2" r="0.4" fill="#b896d2"/>
<circle cx="18.4" cy="39.9" r="0.6" fill="#c6a9dc"/>
<circle cx="32.1" cy="84.1" r="0.7" fill="#e0cdea"/>
<circle cx="14.5" cy="12.1" r="0.8" fill="#c6a9dc"/>
<circle cx="6.1" cy="76.8" r="0.6" fill="#f6eff8"/>
<circle cx="81.6" cy="59.6" r="0.7" fill="#b08fcd"/>
<circle cx="24.2" cy="68.1" r="0.5" fill="#f6eff8"/>
<circle cx="85.9" cy="4.1" r="0.5" fill="#efe4f4"/>
<circle cx="12.7" cy="17.7" r="0.6" fill="#c6a9dc"/>
<circle cx="56.0" cy="78.4" r="0.6" fill="#f6eff8"/>
<circle cx="72.9" cy="72.2" r="0.8" fill="#e0cdea"/>
<circle cx="79.2" cy="85.6" r="0.4" fill="#c6a9dc"/>
<circle cx="41.4" cy="89.3" r="0.6" fill="#e0cdea"/>
<circle cx="8.7" cy="2.0" r="0.7" fill="#b896d2"/>
<circle cx="30.1" cy="60.4" r="0.8" fill="#efe4f4"/>
<circle cx="22.7" cy="67.9" r="0.8" fill="#efe4f4"/>
<circle cx="48.2" cy="82.7" r="0.6" fill="#c6a9dc"/>
<circle cx="30.2" cy="57.5" r="0.5" fill="#b08fcd"/>
<circle cx="48.2" cy="70.6" r="0.7" fill="#b896d2"/>
<circle cx="3.4" cy="2.1" r="0.6" fill="#e0cdea"/>
<circle cx="15.5" cy="65.0" r="0.4" fill="#b896d2"/>
<circle cx="16.1" cy="47.1" r="0.6" fill="#f6eff8"/>
<circle cx="12.5" cy="49.9" r="0.5" fill="#efe4f4"/>
<circle cx="54.7" cy="76.8" r="0.6" fill="#f6eff8"/>
<circle cx="73.6" cy="34.8" r="0.5" fill="#efe4f4"/>
<circle cx="1.9" cy="27.5" r="0.7" fill="#b896d2"/>
<circle cx="19.1" cy="92.9" r="0.5" fill="#f6eff8"/>
<circle cx="28.8" cy="77.1" r="0.9" fill="#f6eff8"/>
<circle cx="71.2" cy="39.3" r="0.4" fill="#f6eff8"/>
<circle cx="0.0" cy="58.9" r="0.7" fill="#e0cdea"/>
<circle cx="41.3" cy="4.4" r="0.7" fill="#b08fcd"/>
<circle cx="38.3" cy="28.5" r="0.7" fill="#efe4f4"/>
<circle cx="89.9" cy="58.2" r="0.4" fill="#b896d2"/>
<circle cx="2.6" cy="26.4" r="0.5" fill="#e0cdea"/>
<circle cx="5.8" cy="63.4" r="0.5" fill="#f6eff8"/>
<circle cx="81.1" cy="43.1" r="0.7" fill="#f6eff8"/>
<circle cx="85.3" cy="21.0" r="0.8" fill="#b896d2"/>
<circle cx="29.6" cy="77.8" r="0.6" fill="#b896d2"/>
<circle cx="49.1" cy="41.5" r="0.6" fill="#b896d2"/>
<circle cx="90.6" cy="35.0" r="0.5" fill="#e0cdea"/>
<circle cx="3.2" cy="58.1" r="0.8" fill="#f6eff8"/>
<circle cx="17.8" cy="88.0" r="0.9" fill="#efe4f4"/>
<circle cx="59.4" cy="62.7" r="0.4" fill="#c6a9dc"/>
<circle cx="21.6" cy="33.7" r="0.7" fill="#e0cdea"/>
<circle cx="59.2" cy="30.1" r="0.5" fill="#e0cdea"/>
<circle cx="0.9" cy="43.3" r="0.7" fill="#f6eff8"/>
<circle cx="28.9" cy="5.6" r="0.7" fill="#efe4f4"/>
<circle cx="40.7" cy="83.0" r="0.6" fill="#b896d2"/>
<circle cx="87.6" cy="25.5" r="0.6" fill="#f6eff8"/>
<circle cx="13.4" cy="50.9" r="0.8" fill="#e0cdea"/>
<circle cx="8.9" cy="25.3" r="0.6" fill="#e0cdea"/>
<circle cx="11.4" cy="64.3" r="0.6" fill="#efe4f4"/>
<circle cx="40.9" cy="66.9" r="0.5" fill="#b896d2"/>
<circle cx="79.6" cy="75.3" r="0.8" fill="#e0cdea"/>
<circle cx="25.3" cy="88.1" r="0.9" fill="#efe4f4"/>
<circle cx="26.9" cy="54.4" r="0.6" fill="#e0cdea"/>
<circle cx="2.6" cy="28.4" r="0.9" fill="#b08fcd"/>
<circle cx="21.7" cy="53.4" r="0.8" fill="#c6a9dc"/>
<circle cx="81.0" cy="22.8" r="0.7" fill="#efe4f4"/>
<circle cx="72.8" cy="0.3" r="0.6" fill="#e0cdea"/>
<circle cx="83.8" cy="80.9" r="0.7" fill="#e0cdea"/>
<circle cx="45.9" cy="4.2" r="0.9" fill="#e0cdea"/>
<circle cx="24.8" cy="88.9" r="0.7" fill="#b896d2"/>
<circle cx="40.4" cy="12.5" r="0.5" fill="#e0cdea"/>
<circle cx="35.0" cy="27.1" r="0.4" fill="#f6eff8"/>
<circle cx="20.8" cy="54.6" r="0.7" fill="#f6eff8"/>
<circle cx="35.1" cy="24.8" r="0.6" fill="#efe4f4"/>
<circle cx="6.0" cy="14.8" r="0.7" fill="#b08fcd"/>
<circle cx="81.0" cy="46.4" r="0.7" fill="#f6eff8"/>
<circle cx="78.7" cy="31.5" r="0.4" fill="#e0cdea"/>
<circle cx="17.5" cy="28.5" r="0.6" fill="#b08fcd"/>
<circle cx="53.9" cy="74.9" r="0.5" fill="#e0cdea"/>
<circle cx="91.4" cy="68.8" r="0.8" fill="#c6a9dc"/>
<circle cx="13.0" cy="49.9" r="0.8" fill="#f6eff8"/>
<circle cx="7.8" cy="32.8" r="0.8" fill="#e0cdea"/>
<circle cx="16.2" cy="5.1" r="0.5" fill="#b896d2"/>
<circle cx="1.8" cy="86.2" r="0.6" fill="#e0cdea"/>
<circle cx="78.6" cy="45.7" r="0.8" fill="#e0cdea"/>
<circle cx="76.9" cy="51.9" r="0.8" fill="#f6eff8"/>
<circle cx="89.4" cy="23.9" r="0.7" fill="#b896d2"/>
<circle cx="39.4" cy="81.0" r="0.8" fill="#e0cdea"/>
<circle cx="63.1" cy="1.9" r="0.6" fill="#f6eff8"/>
<circle cx="1.5" cy="31.5" r="0.5" fill="#efe4f4"/>
<circle cx="61.5" cy="72.9" r="0.6" fill="#b08fcd"/>
<circle cx="79.6" cy="64.6" r="0.8" fill="#f6eff8"/>
<circle cx="83.1" cy="53.9" r="0.6" fill="#efe4f4"/>
<circle cx="16.7" cy="83.1" r="0.5" fill="#f6eff8"/>
<circle cx="3.0" cy="44.5" r="0.6" fill="#c6a9dc"/>
<circle cx="79.3" cy="35.5" r="0.7" fill="#b08fcd"/>
<circle cx="89.0" cy="42.8" r="0.4" fill="#b08fcd"/>
<circle cx="13.7" cy="57.3" r="0.5" fill="#e0cdea"/>
<circle cx="87.3" cy="24.6" r="0.6" fill="#e0cdea"/>
<circle cx="46.4" cy="2.2" r="0.5" fill="#f6eff8"/>
<circle cx="18.3" cy="12.4" r="0.6" fill="#e0cdea"/>
<circle cx="86.9" cy="20.5" r="0.6" fill="#b08fcd"/>
<circle cx="37.5" cy="54.7" r="0.7" fill="#e0cdea"/>
<circle cx="70.1" cy="57.2" r="0.8" fill="#b896d2"/>
<circle cx="0.1" cy="86.5" r="0.6" fill="#b08fcd"/>
<circle cx="70.1" cy="43.0" r="0.4" fill="#b896d2"/>
<circle cx="43.4" cy="78.5" r="0.5" fill="#f6eff8"/>
<circle cx="64.3" cy="56.5" r="0.7" fill="#b896d2"/>
<circle cx="86.4" cy="80.3" r="0.8" fill="#b08fcd"/>
<circle cx="14.7" cy="89.6" r="0.5" fill="#f6eff8"/>
<circle cx="90.4" cy="2.9" r="0.8" fill="#f6eff8"/>
<circle cx="8.0" cy="83.4" r="0.4" fill="#c6a9dc"/>
<circle cx="54.8" cy="49.2" r="0.6" fill="#f6eff8"/>
<circle cx="51.7" cy="40.5" r="0.9" fill="#b896d2"/>
<circle cx="85.7" cy="47.9" r="0.7" fill="#efe4f4"/>
<circle cx="77.1" cy="80.5" r="0.8" fill="#b08fcd"/>
<circle cx="14.0" cy="30.8" r="0.8" fill="#b08fcd"/>
<circle cx="80.9" cy="49.5" r="0.4" fill="#b08fcd"/>
<circle cx="27.9" cy="88.6" r="0.5" fill="#f6eff8"/>
<circle cx="30.2" cy="86.1" r="0.7" fill="#f6eff8"/>
<circle cx="8.1" cy="92.4" r="0.6" fill="#e0cdea"/>
<circle cx="49.2" cy="24.9" r="0.5" fill="#b08fcd"/>
<circle cx="89.3" cy="67.9" r="0.7" fill="#c6a9dc"/>
<circle cx="48.2" cy="5.9" r="0.7" fill="#f6eff8"/>
<circle cx="35.6" cy="26.4" r="0.8" fill="#e0cdea"/>
<circle cx="7.9" cy="81.5" r="0.6" fill="#e0cdea"/>
<circle cx="12.8" cy="9.2" r="0.4" fill="#efe4f4"/>
<circle cx="19.6" cy="79.4" r="0.4" fill="#b896d2"/>
<circle cx="39.8" cy="61.1" r="0.6" fill="#c6a9dc"/>
<circle cx="57.4" cy="34.1" r="0.9" fill="#c6a9dc"/>
<circle cx="54.3" cy="29.4" r="0.7" fill="#b896d2"/>
<circle cx="88.9" cy="57.6" r="0.5" fill="#b896d2"/>
<circle cx="36.2" cy="30.2" r="0.7" fill="#f6eff8"/>
<circle cx="65.2" cy="18.0" r="0.5" fill="#efe4f4"/>
<circle cx="51.1" cy="16.2" r="0.6" fill="#e0cdea"/>
<circle cx="75.1" cy="51.0" r="0.5" fill="#f6eff8"/>
<circle cx="81.3" cy="56.5" r="0.9" fill="#c6a9dc"/>
<circle cx="40.7" cy="35.1" r="0.7" fill="#e0cdea"/>
<circle cx="64.0" cy="19.9" r="0.4" fill="#f6eff8"/>
<circle cx="22.9" cy="38.0" r="0.6" fill="#b896d2"/>
<circle cx="6.3" cy="38.3" r="0.5" fill="#c6a9dc"/>
<circle cx="81.9" cy="55.6" r="0.5" fill="#b08fcd"/>
<circle cx="68.6" cy="78.2" r="0.6" fill="#b896d2"/>
<circle cx="86.2" cy="23.8" r="0.5" fill="#e0cdea"/>
<circle cx="82.4" cy="55.5" r="0.8" fill="#f6eff8"/>
<circle cx="62.7" cy="67.1" r="0.8" fill="#b896d2"/>
<circle cx="67.9" cy="70.1" r="0.4" fill="#e0cdea"/>
<circle cx="3.4" cy="91.0" r="0.4" fill="#efe4f4"/>
<circle cx="62.8" cy="62.6" r="0.7" fill="#e0cdea"/>
<circle cx="19.7" cy="68.2" r="0.8" fill="#e0cdea"/>
<circle cx="17.7" cy="4.1" r="0.4" fill="#b08fcd"/>
<circle cx="4.4" cy="59.4" r="0.5" fill="#f6eff8"/>
<circle cx="45.9" cy="61.7" r="0.5" fill="#b08fcd"/>
<circle cx="42.6" cy="22.3" r="0.7" fill="#b896d2"/>
<circle cx="33.8" cy="79.2" r="0.6" fill="#c6a9dc"/>
<circle cx="71.9" cy="20.8" r="0.7" fill="#e0cdea"/>
<circle cx="74.9" cy="42.5" r="0.7" fill="#f6eff8"/>
<circle cx="34.9" cy="83.2" r="0.5" fill="#b08fcd"/>
<circle cx="7.8" cy="29.7" r="0.5" fill="#b08fcd"/>
<circle cx="86.4" cy="38.3" r="0.5" fill="#efe4f4"/>
<circle cx="61.9" cy="46.1" r="0.6" fill="#efe4f4"/>
<circle cx="57.2" cy="6.4" r="0.6" fill="#f6eff8"/>
<circle cx="84.5" cy="81.9" r="0.8" fill="#e0cdea"/>
<circle cx="71.3" cy="12.7" r="0.4" fill="#e0cdea"/>
<circle cx="38.2" cy="70.4" r="0.6" fill="#b08fcd"/>
<circle cx="53.8" cy="81.0" r="0.8" fill="#b896d2"/>
<circle cx="46.6" cy="46.5" r="0.4" fill="#b896d2"/>
<circle cx="89.5" cy="73.4" r="0.6" fill="#b08fcd"/>
<circle cx="35.3" cy="52.7" r="0.4" fill="#b08fcd"/>
<circle cx="56.4" cy="39.4" r="0.7" fill="#b896d2"/>
<circle cx="6.7" cy="14.7" r="0.9" fill="#b896d2"/>
<circle cx="53.6" cy="57.5" r="0.7" fill="#efe4f4"/>
<circle cx="35.3" cy="15.4" r="0.8" fill="#efe4f4"/>
<circle cx="75.2" cy="25.1" r="0.7" fill="#b896d2"/>
<circle cx="25.3" cy="59.0" r="0.5" fill="#b08fcd"/>
<circle cx="1.7" cy="35.5" r="0.6" fill="#b08fcd"/>
<circle cx="23.5" cy="25.2" r="0.7" fill="#f6eff8"/>
<circle cx="20.2" cy="68.4" r="0.7" fill="#b08fcd"/>
<circle cx="14.0" cy="68.4" r="0.7" fill="#b896d2"/>
<circle cx="82.4" cy="82.9" r="0.4" fill="#b08fcd"/>
<circle cx="62.3" cy="33.5" r="0.5" fill="#f6eff8"/>
<circle cx="62.7" cy="8.3" r="0.4" fill="#b896d2"/>
<circle cx="65.1" cy="88.9" r="0.7" fill="#c6a9dc"/>
<circle cx="29.7" cy="52.4" r="0.7" fill="#f6eff8"/>
<circle cx="71.9" cy="55.8" r="0.7" fill="#e0cdea"/>
<circle cx="19.5" cy="68.1" r="0.4" fill="#efe4f4"/>
<circle cx="0.2" cy="29.6" r="0.5" fill="#b08fcd"/>
<circle cx="47.5" cy="74.5" r="0.8" fill="#efe4f4"/>
<circle cx="72.4" cy="45.0" r="0.4" fill="#b08fcd"/>
<circle cx="10.4" cy="6.1" r="0.4" fill="#c6a9dc"/>
<circle cx="75.5" cy="69.6" r="0.8" fill="#e0cdea"/>
<circle cx="54.5" cy="67.6" r="0.5" fill="#e0cdea"/>
<circle cx="44.1" cy="87.9" r="0.7" fill="#b08fcd"/>
<circle cx="57.2" cy="47.3" r="0.5" fill="#b896d2"/>
<circle cx="49.0" cy="78.3" r="0.6" fill="#efe4f4"/>
<circle cx="58.3" cy="55.0" r="0.8" fill="#b08fcd"/>
<circle cx="40.8" cy="92.1" r="0.7" fill="#b08fcd"/>
<circle cx="86.5" cy="69.3" r="0.8" fill="#b896d2"/>
<circle cx="14.7" cy="45.7" r="0.8" fill="#c6a9dc"/>
<circle cx="27.4" cy="15.8" r="0.8" fill="#f6eff8"/>
<circle cx="83.6" cy="68.5" r="0.8" fill="#b08fcd"/>
<circle cx="34.3" cy="9.2" r="0.7" fill="#f6eff8"/>
<circle cx="88.3" cy="72.9" r="0.5" fill="#b08fcd"/>
<circle cx="3.1" cy="88.1" r="0.5" fill="#b08fcd"/>
<circle cx="67.3" cy="11.9" r="0.5" fill="#c6a9dc"/>
<circle cx="16.6" cy="37.8" r="0.8" fill="#f6eff8"/>
<circle cx="75.5" cy="13.7" r="0.6" fill="#f6eff8"/>
<circle cx="63.0" cy="78.2" r="0.7" fill="#e0cdea"/>
<circle cx="21.1" cy="89.4" r="0.6" fill="#c6a9dc"/>
<circle cx="0.5" cy="57.9" r="0.8" fill="#c6a9dc"/>
<circle cx="76.6" cy="60.3" r="0.5" fill="#b896d2"/>
<circle cx="76.5" cy="12.1" r="0.9" fill="#b08fcd"/>
<circle cx="34.5" cy="49.4" r="0.5" fill="#b896d2"/>
<circle cx="9.2" cy="66.1" r="0.9" fill="#efe4f4"/>
<circle cx="57.9" cy="4.6" r="0.8" fill="#c6a9dc"/>
<circle cx="21.3" cy="79.8" r="0.9" fill="#efe4f4"/>
<circle cx="17.7" cy="59.0" r="0.7" fill="#efe4f4"/>
<circle cx="89.8" cy="13.2" r="0.6" fill="#b896d2"/>
<circle cx="23.3" cy="20.0" r="0.6" fill="#b896d2"/>
<circle cx="17.3" cy="17.7" r="0.7" fill="#efe4f4"/>
<circle cx="65.3" cy="81.5" r="0.8" fill="#b896d2"/>
<circle cx="62.1" cy="54.0" r="0.7" fill="#e0cdea"/>
<circle cx="83.8" cy="13.3" r="0.4" fill="#b08fcd"/>
<circle cx="8.6" cy="52.6" r="0.7" fill="#c6a9dc"/>
<circle cx="16.1" cy="9.3" r="0.8" fill="#f6eff8"/>
<circle cx="50.1" cy="55.4" r="0.6" fill="#b896d2"/>
<circle cx="20.1" cy="47.8" r="0.9" fill="#b08fcd"/>
<circle cx="75.3" cy="28.1" r="0.7" fill="#b896d2"/>
<circle cx="56.8" cy="25.1" r="0.6" fill="#e0cdea"/>
<circle cx="8.6" cy="4.6" r="0.7" fill="#b896d2"/>
<circle cx="84.2" cy="2.3" r="0.7" fill="#c6a9dc"/>
<circle cx="58.6" cy="19.0" r="0.6" fill="#e0cdea"/>
<circle cx="3.3" cy="40.2" r="0.5" fill="#b08fcd"/>
<circle cx="87.3" cy="39.0" r="0.8" fill="#c6a9dc"/>
<circle cx="56.9" cy="77.4" r="0.8" fill="#b08fcd"/>
<circle cx="48.7" cy="69.1" r="0.6" fill="#b896d2"/>
<circle cx="54.2" cy="48.6" r="0.7" fill="#e0cdea"/>
<circle cx="59.9" cy="17.5" r="0.9" fill="#e0cdea"/>
<circle cx="32.8" cy="51.2" r="0.7" fill="#c6a9dc"/>
<circle cx="23.7" cy="61.9" r="0.7" fill="#c6a9dc"/>
<circle cx="60.9" cy="5.7" r="0.8" fill="#efe4f4"/>
<circle cx="18.1" cy="8.6" r="0.8" fill="#e0cdea"/>
<circle cx="76.0" cy="75.0" r="0.7" fill="#b08fcd"/>
<circle cx="44.4" cy="16.5" r="0.5" fill="#c6a9dc"/>
<circle cx="21.3" cy="37.3" r="0.8" fill="#c6a9dc"/>
<circle cx="62.8" cy="2.7" r="0.7" fill="#b896d2"/>
<circle cx="63.4" cy="27.2" r="0.6" fill="#efe4f4"/>
<circle cx="24.5" cy="31.8" r="0.7" fill="#b08fcd"/>
<circle cx="73.3" cy="17.1" r="0.5" fill="#e0cdea"/>
<circle cx="32.0" cy="22.9" r="0.5" fill="#b896d2"/>
<circle cx="23.4" cy="24.3" r="0.7" fill="#f6eff8"/>
<circle cx="81.2" cy="58.1" r="0.9" fill="#c6a9dc"/>
<circle cx="75.8" cy="16.6" r="0.6" fill="#c6a9dc"/>
<circle cx="84.8" cy="90.5" r="0.5" fill="#efe4f4"/>
<circle cx="39.4" cy="43.2" r="0.7" fill="#b08fcd"/>
<circle cx="20.3" cy="21.2" r="0.7" fill="#b896d2"/>
<circle cx="0.4" cy="73.4" r="0.7" fill="#c6a9dc"/>
<circle cx="83.0" cy="8.4" r="0.7" fill="#b896d2"/>
<circle cx="19.7" cy="30.7" r="0.5" fill="#efe4f4"/>
<circle cx="58.5" cy="60.5" r="0.6" fill="#f6eff8"/>
<circle cx="54.0" cy="71.5" r="0.5" fill="#efe4f4"/>
<circle cx="44.4" cy="25.1" r="0.6" fill="#f6eff8"/>
<circle cx="91.9" cy="5.4" r="0.7" fill="#efe4f4"/>
<circle cx="30.7" cy="90.6" r="0.6" fill="#c6a9dc"/>
<circle cx="4.9" cy="16.6" r="0.7" fill="#efe4f4"/>
<circle cx="85.7" cy="45.1" r="0.9" fill="#f6eff8"/>
<circle cx="9.1" cy="68.4" r="0.7" fill="#b08fcd"/>
<circle cx="88.1" cy="92.2" r="0.5" fill="#e0cdea"/>
<circle cx="75.7" cy="18.9" r="0.7" fill="#b08fcd"/>
<circle cx="31.9" cy="82.5" r="0.7" fill="#efe4f4"/>
<circle cx="41.3" cy="32.8" r="0.5" fill="#b08fcd"/>
<circle cx="11.7" cy="7.6" r="0.6" fill="#efe4f4"/>
<circle cx="43.8" cy="74.7" r="0.7" fill="#e0cdea"/>
<circle cx="78.7" cy="35.8" r="0.8" fill="#efe4f4"/>
<circle cx="24.2" cy="52.6" r="0.7" fill="#efe4f4"/>
<circle cx="72.7" cy="39.5" r="0.7" fill="#b08fcd"/>
<circle cx="17.5" cy="12.2" r="0.8" fill="#e0cdea"/>
<circle cx="29.5" cy="36.6" r="0.7" fill="#b08fcd"/>
<circle cx="19.2" cy="77.1" r="0.5" fill="#c6a9dc"/>
<circle cx="34.2" cy="25.4" r="0.6" fill="#e0cdea"/>
<circle cx="77.2" cy="64.9" r="0.8" fill="#e0cdea"/>
<circle cx="75.7" cy="72.6" r="0.6" fill="#f6eff8"/>
<circle cx="16.7" cy="88.5" r="0.8" fill="#f6eff8"/>
<circle cx="74.6" cy="80.2" r="0.5" fill="#e0cdea"/>
<circle cx="76.3" cy="12.5" r="0.7" fill="#e0cdea"/>
<circle cx="49.8" cy="68.0" r="0.6" fill="#e0cdea"/>
<circle cx="4.1" cy="63.0" r="0.7" fill="#b08fcd"/>
<circle cx="45.6" cy="9.9" r="0.4" fill="#f6eff8"/>
<circle cx="79.6" cy="14.3" r="0.7" fill="#b08fcd"/>
<circle cx="85.6" cy="48.2" r="0.7" fill="#f6eff8"/>
<circle cx="10.4" cy="53.1" r="0.8" fill="#f6eff8"/>
<circle cx="63.6" cy="48.5" r="0.6" fill="#b08fcd"/>
<circle cx="62.6" cy="79.1" r="0.5" fill="#efe4f4"/>
<circle cx="14.9" cy="79.9" r="0.8" fill="#b896d2"/>
<circle cx="91.9" cy="72.1" r="0.6" fill="#efe4f4"/>
<circle cx="80.6" cy="18.9" r="0.8" fill="#f6eff8"/>
<circle cx="64.7" cy="35.2" r="0.6" fill="#b08fcd"/>
<circle cx="73.4" cy="27.5" r="0.4" fill="#b896d2"/>
<circle cx="51.7" cy="70.9" r="0.4" fill="#efe4f4"/>
<circle cx="49.5" cy="57.0" r="0.8" fill="#b08fcd"/>
<circle cx="57.8" cy="11.6" r="0.6" fill="#f6eff8"/>
<circle cx="64.8" cy="45.3" r="0.8" fill="#f6eff8"/>
<circle cx="21.3" cy="72.0" r="0.6" fill="#f6eff8"/>
<circle cx="10.2" cy="3.0" r="0.5" fill="#efe4f4"/>
<circle cx="24.4" cy="30.9" r="0.5" fill="#b08fcd"/>
<circle cx="41.6" cy="71.6" r="0.5" fill="#f6eff8"/>
<circle cx="72.0" cy="23.7" r="0.8" fill="#e0cdea"/>
<circle cx="0.1" cy="32.2" r="0.8" fill="#c6a9dc"/>
<circle cx="36.6" cy="1.0" r="0.7" fill="#b08fcd"/>
<circle cx="66.3" cy="46.9" r="0.6" fill="#b08fcd"/>
<circle cx="31.5" cy="51.0" r="0.9" fill="#c6a9dc"/>
<circle cx="38.9" cy="35.8" r="0.7" fill="#b08fcd"/>
<circle cx="74.3" cy="42.5" r="0.5" fill="#f6eff8"/>
<circle cx="15.4" cy="52.0" r="0.5" fill="#f6eff8"/>
<circle cx="1.9" cy="31.2" r="0.7" fill="#f6eff8"/>
<circle cx="77.6" cy="13.0" r="0.7" fill="#c6a9dc"/>
<circle cx="30.8" cy="26.9" r="0.4" fill="#b896d2"/>
<circle cx="37.9" cy="59.5" r="0.6" fill="#f6eff8"/>
<circle cx="70.2" cy="74.1" r="0.8" fill="#f6eff8"/>
<circle cx="8.8" cy="27.5" r="0.8" fill="#b08fcd"/>
<circle cx="73.3" cy="29.9" r="0.7" fill="#b896d2"/>
<circle cx="15.4" cy="68.2" r="0.9" fill="#b896d2"/>
<circle cx="33.3" cy="40.7" r="0.9" fill="#c6a9dc"/>
<circle cx="24.4" cy="41.8" r="0.6" fill="#b896d2"/>
<circle cx="3.4" cy="30.9" r="0.6" fill="#b08fcd"/>
<circle cx="55.5" cy="46.3" r="0.9" fill="#b08fcd"/>
<circle cx="29.8" cy="33.1" r="0.9" fill="#c6a9dc"/>
<circle cx="12.7" cy="92.5" r="0.5" fill="#b08fcd"/>
<circle cx="44.8" cy="36.4" r="0.5" fill="#e0cdea"/>
<circle cx="4.6" cy="32.5" r="0.6" fill="#f6eff8"/>
<circle cx="87.4" cy="37.0" r="0.8" fill="#b08fcd"/>
<circle cx="84.7" cy="73.9" r="0.6" fill="#b896d2"/>
<circle cx="7.5" cy="59.8" r="0.5" fill="#c6a9dc"/>
<circle cx="12.8" cy="58.3" r="0.5" fill="#e0cdea"/>
<circle cx="23.0" cy="36.4" r="0.8" fill="#e0cdea"/>
<circle cx="81.7" cy="67.9" r="0.9" fill="#b896d2"/>
<circle cx="57.0" cy="21.4" r="0.8" fill="#b08fcd"/>
<circle cx="19.2" cy="80.1" r="0.7" fill="#b896d2"/>
<circle cx="79.7" cy="38.1" r="0.6" fill="#c6a9dc"/>
<circle cx="85.4" cy="82.0" r="0.6" fill="#c6a9dc"/>
<circle cx="81.6" cy="67.4" r="0.4" fill="#c6a9dc"/>
<circle cx="25.6" cy="19.5" r="0.6" fill="#e0cdea"/>
<circle cx="85.9" cy="73.2" r="0.8" fill="#e0cdea"/>
<circle cx="20.2" cy="53.9" r="0.8" fill="#e0cdea"/>
<circle cx="65.6" cy="15.8" r="0.8" fill="#b08fcd"/>
<circle cx="81.9" cy="86.9" r="0.5" fill="#efe4f4"/>
<circle cx="76.6" cy="42.2" r="0.5" fill="#efe4f4"/>
<circle cx="22.0" cy="75.7" r="0.7" fill="#f6eff8"/>
<circle cx="84.2" cy="70.0" r="0.4" fill="#e0cdea"/>
<circle cx="13.1" cy="22.6" r="0.9" fill="#c6a9dc"/>
<circle cx="71.1" cy="6.1" r="0.8" fill="#c6a9dc"/>
<circle cx="40.0" cy="29.6" r="0.5" fill="#f6eff8"/>
<circle cx="39.1" cy="79.4" r="0.7" fill="#efe4f4"/>
<circle cx="38.2" cy="51.9" r="0.5" fill="#efe4f4"/>
<circle cx="87.2" cy="16.8" r="0.5" fill="#e0cdea"/>
<circle cx="56.0" cy="26.2" r="0.7" fill="#efe4f4"/>
<circle cx="10.9" cy="45.8" r="0.4" fill="#f6eff8"/>
<circle cx="29.3" cy="57.4" r="0.8" fill="#efe4f4"/>
<circle cx="61.2" cy="76.8" r="0.4" fill="#f6eff8"/>
<circle cx="83.0" cy="38.3" r="0.5" fill="#e0cdea"/>
<circle cx="18.7" cy="22.3" r="0.5" fill="#e0cdea"/>
<circle cx="46.8" cy="55.5" r="0.4" fill="#b08fcd"/>
<circle cx="43.6" cy="3.9" r="0.7" fill="#b08fcd"/>
<circle cx="66.0" cy="53.0" r="0.5" fill="#e0cdea"/>
<circle cx="23.9" cy="89.0" r="0.7" fill="#f6eff8"/>
<circle cx="21.5" cy="41.2" r="0.8" fill="#efe4f4"/>
<circle cx="11.0" cy="32.4" r="0.5" fill="#c6a9dc"/>
<circle cx="10.7" cy="20.9" r="0.4" fill="#b08fcd"/>
<circle cx="78.4" cy="70.2" r="0.7" fill="#b896d2"/>
<circle cx="11.4" cy="31.5" r="0.5" fill="#f6eff8"/>
<circle cx="21.5" cy="43.2" r="0.4" fill="#b896d2"/>
<circle cx="69.5" cy="39.9" r="0.8" fill="#e0cdea"/>
<circle cx="69.9" cy="68.0" r="0.6" fill="#efe4f4"/>
<circle cx="15.1" cy="27.3" r="0.4" fill="#b896d2"/>
<circle cx="65.5" cy="91.5" r="0.5" fill="#b08fcd"/>
<circle cx="81.6" cy="1.8" r="0.9" fill="#b08fcd"/>
<circle cx="55.7" cy="80.9" r="0.5" fill="#b08fcd"/>
<circle cx="38.3" cy="92.6" r="0.6" fill="#b08fcd"/>
<circle cx="33.0" cy="76.5" r="0.9" fill="#b08fcd"/>
<circle cx="57.5" cy="9.8" r="0.9" fill="#b08fcd"/>
<circle cx="74.9" cy="58.7" r="0.8" fill="#b08fcd"/>
<circle cx="31.6" cy="79.4" r="0.4" fill="#efe4f4"/>
<circle cx="10.8" cy="39.3" r="0.5" fill="#efe4f4"/>
<circle cx="13.0" cy="75.5" r="0.4" fill="#b08fcd"/>
<circle cx="40.5" cy="27.1" r="0.9" fill="#f6eff8"/>
<circle cx="88.6" cy="38.0" r="0.4" fill="#c6a9dc"/>
<circle cx="26.3" cy="78.6" r="0.6" fill="#e0cdea"/>
<circle cx="5.1" cy="91.5" r="0.4" fill="#e0cdea"/>
<circle cx="27.0" cy="10.1" r="0.6" fill="#c6a9dc"/>
<circle cx="36.1" cy="91.1" r="0.5" fill="#c6a9dc"/>
<circle cx="67.2" cy="43.4" r="0.8" fill="#c6a9dc"/>
<circle cx="88.1" cy="79.8" r="0.9" fill="#b08fcd"/>
<circle cx="39.6" cy="43.8" r="0.5" fill="#efe4f4"/>
<circle cx="43.9" cy="28.7" r="0.9" fill="#b08fcd"/>
<circle cx="40.8" cy="29.5" r="0.6" fill="#f6eff8"/>
<circle cx="60.5" cy="77.9" r="0.8" fill="#f6eff8"/>
<circle cx="65.6" cy="92.9" r="0.5" fill="#f6eff8"/>
<circle cx="73.3" cy="7.3" r="0.6" fill="#c6a9dc"/>
<circle cx="68.3" cy="26.9" r="0.8" fill="#f6eff8"/>
<circle cx="10.2" cy="19.2" r="0.6" fill="#efe4f4"/>
<circle cx="29.1" cy="7.3" r="0.5" fill="#b08fcd"/>
<circle cx="50.0" cy="73.9" r="0.8" fill="#e0cdea"/>
<circle cx="19.9" cy="28.6" r="0.8" fill="#f6eff8"/>
<circle cx="82.2" cy="6.4" r="0.7" fill="#b08fcd"/>
<circle cx="48.8" cy="33.6" r="0.6" fill="#f6eff8"/>
<circle cx="39.5" cy="49.8" r="0.5" fill="#c6a9dc"/>
<circle cx="44.9" cy="50.4" r="0.7" fill="#e0cdea"/>
<circle cx="58.5" cy="37.3" r="0.9" fill="#c6a9dc"/>
<circle cx="7.0" cy="70.7" r="0.8" fill="#efe4f4"/>
<circle cx="86.9" cy="68.8" r="0.8" fill="#e0cdea"/>
<circle cx="59.6" cy="45.4" r="0.4" fill="#b896d2"/>
<circle cx="27.6" cy="71.0" r="0.7" fill="#b896d2"/>
<circle cx="49.0" cy="49.3" r="0.7" fill="#b08fcd"/>
<circle cx="36.2" cy="6.9" r="0.4" fill="#f6eff8"/>
<circle cx="57.5" cy="24.9" r="0.4" fill="#f6eff8"/>
<circle cx="85.6" cy="39.4" r="0.8" fill="#e0cdea"/>
<circle cx="62.5" cy="83.8" r="0.8" fill="#f6eff8"/>
<circle cx="52.1" cy="88.8" r="0.9" fill="#e0cdea"/>
<circle cx="57.1" cy="44.8" r="0.9" fill="#e0cdea"/>
<circle cx="72.9" cy="73.3" r="0.6" fill="#f6eff8"/>
<circle cx="83.4" cy="82.2" r="0.8" fill="#e0cdea"/>
<circle cx="90.9" cy="43.6" r="0.4" fill="#f6eff8"/>
<circle cx="27.8" cy="43.8" r="0.4" fill="#f6eff8"/>
<circle cx="43.7" cy="53.3" r="0.8" fill="#efe4f4"/>
<circle cx="82.2" cy="87.1" r="0.7" fill="#c6a9dc"/>
<circle cx="9.9" cy="15.1" r="0.5" fill="#c6a9dc"/>
<circle cx="69.2" cy="78.9" r="0.8" fill="#efe4f4"/>
<circle cx="47.4" cy="9.0" r="0.7" fill="#b08fcd"/>
<circle cx="33.7" cy="62.1" r="0.8" fill="#c6a9dc"/>
<circle cx="35.7" cy="48.8" r="0.8" fill="#f6eff8"/>
<circle cx="64.1" cy="56.3" r="0.7" fill="#b896d2"/>
<circle cx="33.5" cy="19.3" r="0.6" fill="#b896d2"/>
<circle cx="54.0" cy="75.4" r="0.5" fill="#b896d2"/>
<circle cx="87.2" cy="11.8" r="0.6" fill="#f6eff8"/>
<circle cx="26.6" cy="90.4" r="0.8" fill="#b896d2"/>
<circle cx="57.3" cy="88.9" r="0.7" fill="#f6eff8"/>
<circle cx="23.1" cy="52.6" r="0.8" fill="#b896d2"/>
<circle cx="72.0" cy="65.2" r="0.6" fill="#b08fcd"/>
<circle cx="43.7" cy="44.2" r="0.5" fill="#efe4f4"/>
<circle cx="46.3" cy="53.6" r="0.8" fill="#f6eff8"/>
<circle cx="48.3" cy="23.1" r="0.5" fill="#f6eff8"/>
<circle cx="60.0" cy="82.2" r="0.7" fill="#b08fcd"/>
<circle cx="68.7" cy="8.6" r="0.6" fill="#f6eff8"/>
<circle cx="31.5" cy="16.8" r="0.6" fill="#b896d2"/>
<circle cx="13.0" cy="67.7" r="0.5" fill="#b08fcd"/>
<circle cx="8.8" cy="60.9" r="0.8" fill="#efe4f4"/>
<circle cx="54.0" cy="28.9" r="0.7" fill="#b896d2"/>
<circle cx="43.4" cy="88.6" r="0.9" fill="#efe4f4"/>
<circle cx="79.6" cy="29.6" r="0.5" fill="#efe4f4"/>
<circle cx="59.1" cy="47.7" r="0.4" fill="#b896d2"/>
<circle cx="62.7" cy="0.3" r="0.5" fill="#efe4f4"/>
<circle cx="25.4" cy="90.2" r="0.5" fill="#efe4f4"/>
<circle cx="30.7" cy="63.1" r="0.8" fill="#efe4f4"/>
<circle cx="28.3" cy="90.8" r="0.8" fill="#f6eff8"/>
<circle cx="85.6" cy="58.7" r="0.7" fill="#f6eff8"/>
<circle cx="42.1" cy="66.7" r="0.8" fill="#efe4f4"/>
<circle cx="64.5" cy="83.2" r="0.8" fill="#efe4f4"/>
<circle cx="56.8" cy="30.8" r="0.5" fill="#e0cdea"/>
<circle cx="10.0" cy="88.8" r="0.7" fill="#b08fcd"/>
<circle cx="32.1" cy="34.8" r="0.7" fill="#b896d2"/>
<circle cx="78.8" cy="92.9" r="0.7" fill="#b896d2"/>
<circle cx="89.3" cy="68.0" r="0.7" fill="#f6eff8"/>
<circle cx="40.4" cy="89.4" r="0.5" fill="#b08fcd"/>
<circle cx="70.2" cy="39.7" r="0.8" fill="#f6eff8"/>
<circle cx="19.2" cy="61.9" r="0.7" fill="#efe4f4"/>
<circle cx="38.0" cy="65.8" r="0.5" fill="#f6eff8"/>
<circle cx="89.1" cy="37.2" r="0.8" fill="#e0cdea"/>
<circle cx="2.1" cy="4.9" r="0.6" fill="#b08fcd"/>
<circle cx="90.0" cy="64.8" r="0.7" fill="#b08fcd"/>
<circle cx="18.0" cy="89.5" r="0.5" fill="#b896d2"/>
<circle cx="22.6" cy="70.1" r="0.6" fill="#c6a9dc"/>
<circle cx="49.2" cy="71.3" r="0.5" fill="#c6a9dc"/>
<circle cx="26.0" cy="71.2" r="0.5" fill="#b896d2"/>
<circle cx="17.8" cy="28.8" r="0.7" fill="#f6eff8"/>
<circle cx="22.3" cy="4.5" r="0.5" fill="#f6eff8"/>
<circle cx="37.8" cy="35.8" r="0.4" fill="#c6a9dc"/>
<circle cx="35.6" cy="44.9" r="0.7" fill="#f6eff8"/>
<circle cx="81.2" cy="78.1" r="0.8" fill="#efe4f4"/>
<circle cx="49.2" cy="9.7" r="0.7" fill="#c6a9dc"/>
<circle cx="27.5" cy="61.4" r="0.4" fill="#b08fcd"/>
<circle cx="30.4" cy="73.1" r="0.7" fill="#b896d2"/>
<circle cx="89.0" cy="78.4" r="0.5" fill="#b896d2"/>
<circle cx="37.5" cy="59.6" r="0.7" fill="#e0cdea"/>
<circle cx="78.5" cy="27.4" r="0.8" fill="#b896d2"/>
<circle cx="31.2" cy="87.1" r="0.6" fill="#c6a9dc"/>
<circle cx="55.1" cy="56.4" r="0.9" fill="#efe4f4"/>
<circle cx="12.3" cy="88.2" r="0.5" fill="#b08fcd"/>
<circle cx="24.4" cy="77.6" r="0.7" fill="#e0cdea"/>
<circle cx="58.4" cy="49.4" r="0.6" fill="#c6a9dc"/>
<circle cx="1.9" cy="77.9" r="0.6" fill="#c6a9dc"/>
<circle cx="81.0" cy="61.4" r="0.9" fill="#efe4f4"/>
<circle cx="86.0" cy="71.9" r="0.5" fill="#b08fcd"/>
<circle cx="47.0" cy="74.0" r="0.7" fill="#efe4f4"/>
<circle cx="88.9" cy="72.3" r="0.8" fill="#efe4f4"/>
<circle cx="11.7" cy="63.4" r="0.7" fill="#e0cdea"/>
<circle cx="40.5" cy="30.7" r="0.9" fill="#c6a9dc"/>
<circle cx="80.3" cy="90.4" r="0.5" fill="#f6eff8"/>
<circle cx="36.4" cy="74.5" r="0.4" fill="#e0cdea"/>
<circle cx="1.7" cy="44.3" r="0.7" fill="#c6a9dc"/>
<circle cx="39.1" cy="9.2" r="0.6" fill="#b896d2"/>
<circle cx="39.7" cy="41.7" r="0.8" fill="#e0cdea"/>
<circle cx="20.7" cy="60.8" r="0.5" fill="#efe4f4"/>
<circle cx="32.9" cy="56.7" r="0.4" fill="#f6eff8"/>
<circle cx="12.8" cy="5.4" r="0.8" fill="#e0cdea"/>
<circle cx="56.4" cy="63.2" r="0.6" fill="#b08fcd"/>
<circle cx="67.7" cy="92.1" r="0.7" fill="#b896d2"/>
<circle cx="60.9" cy="42.2" r="0.7" fill="#f6eff8"/>
<circle cx="3.4" cy="59.9" r="0.8" fill="#b896d2"/>
<circle cx="4.5" cy="77.5" r="0.5" fill="#c6a9dc"/>
<circle cx="48.5" cy="86.3" r="0.5" fill="#e0cdea"/>
<circle cx="54.4" cy="4.9" r="0.8" fill="#b896d2"/>
<circle cx="34.6" cy="56.6" r="0.5" fill="#e0cdea"/>
<circle cx="70.3" cy="29.2" r="0.7" fill="#efe4f4"/>
<circle cx="71.2" cy="91.7" r="0.8" fill="#e0cdea"/>
<circle cx="1.9" cy="1.8" r="0.6" fill="#e0cdea"/>
<circle cx="83.1" cy="43.6" r="0.8" fill="#b896d2"/>
<circle cx="56.8" cy="68.3" r="0.7" fill="#efe4f4"/>
<circle cx="56.0" cy="56.6" r="0.8" fill="#c6a9dc"/>
<circle cx="89.2" cy="75.4" r="0.5" fill="#b08fcd"/>
<circle cx="70.9" cy="23.9" r="0.4" fill="#c6a9dc"/>
<circle cx="41.1" cy="64.3" r="0.8" fill="#b896d2"/>
<circle cx="3.5" cy="75.4" r="0.6" fill="#b08fcd"/>
<circle cx="79.5" cy="63.9" r="0.8" fill="#c6a9dc"/>
<circle cx="6.5" cy="52.7" r="0.7" fill="#f6eff8"/>
<circle cx="79.0" cy="31.2" r="0.9" fill="#b08fcd"/>
<circle cx="50.8" cy="77.2" r="0.8" fill="#e0cdea"/>
<circle cx="91.2" cy="16.7" r="0.6" fill="#c6a9dc"/>
<circle cx="43.4" cy="65.6" r="0.8" fill="#efe4f4"/>
<circle cx="19.8" cy="19.2" r="0.8" fill="#c6a9dc"/>
<circle cx="61.1" cy="15.3" r="0.8" fill="#f6eff8"/>
<circle cx="16.0" cy="79.9" r="0.7" fill="#efe4f4"/>
<circle cx="39.5" cy="31.5" r="0.6" fill="#f6eff8"/>
<circle cx="46.5" cy="31.7" r="0.7" fill="#b08fcd"/>
<circle cx="73.8" cy="30.6" r="0.6" fill="#b896d2"/>
<circle cx="80.5" cy="57.5" r="0.5" fill="#f6eff8"/>
<circle cx="31.3" cy="32.2" r="0.7" fill="#c6a9dc"/>
<circle cx="74.2" cy="14.0" r="0.7" fill="#e0cdea"/>
<circle cx="64.5" cy="83.4" r="0.9" fill="#f6eff8"/>
<circle cx="53.2" cy="24.8" r="0.8" fill="#c6a9dc"/>
<circle cx="15.5" cy="92.7" r="0.9" fill="#c6a9dc"/>
<circle cx="29.4" cy="53.8" r="0.6" fill="#b08fcd"/>
<circle cx="29.1" cy="43.8" r="0.8" fill="#b08fcd"/>
<circle cx="30.0" cy="72.5" r="0.6" fill="#c6a9dc"/>
<circle cx="32.4" cy="88.8" r="0.6" fill="#efe4f4"/>
<circle cx="56.7" cy="48.6" r="0.9" fill="#b08fcd"/>
<circle cx="58.2" cy="87.7" r="0.6" fill="#f6eff8"/>
<circle cx="61.5" cy="64.5" r="0.6" fill="#b08fcd"/>
<circle cx="22.8" cy="30.3" r="0.6" fill="#c6a9dc"/>
<circle cx="15.4" cy="40.1" r="0.7" fill="#b08fcd"/>
<circle cx="6.1" cy="37.7" r="0.5" fill="#c6a9dc"/>
<circle cx="59.9" cy="23.5" r="0.4" fill="#e0cdea"/>
<circle cx="1.5" cy="27.9" r="0.8" fill="#b896d2"/>
<circle cx="3.5" cy="64.1" r="0.8" fill="#f6eff8"/>
<circle cx="85.9" cy="71.7" r="0.5" fill="#f6eff8"/>
<circle cx="61.8" cy="51.5" r="0.8" fill="#c6a9dc"/>
<circle cx="69.8" cy="40.8" r="0.8" fill="#b896d2"/>
<circle cx="60.0" cy="5.6" r="0.6" fill="#b896d2"/>
<circle cx="35.4" cy="61.6" r="0.4" fill="#efe4f4"/>
<circle cx="85.3" cy="78.6" r="0.7" fill="#f6eff8"/>
<circle cx="83.8" cy="58.3" r="0.9" fill="#c6a9dc"/>
<circle cx="73.5" cy="68.0" r="0.5" fill="#b896d2"/>
<circle cx="72.6" cy="65.0" r="0.7" fill="#b896d2"/>
<circle cx="73.3" cy="73.7" r="0.8" fill="#b08fcd"/>
<circle cx="26.5" cy="57.9" r="0.7" fill="#f6eff8"/>
<circle cx="64.0" cy="75.0" r="0.5" fill="#f6eff8"/>
<circle cx="46.8" cy="17.4" r="0.8" fill="#c6a9dc"/>
<circle cx="38.4" cy="18.4" r="0.5" fill="#e0cdea"/>
<circle cx="47.9" cy="22.6" r="0.6" fill="#e0cdea"/>
<circle cx="30.3" cy="91.0" r="0.8" fill="#e0cdea"/>
<circle cx="63.1" cy="72.0" r="0.7" fill="#f6eff8"/>
<circle cx="90.3" cy="43.3" r="0.6" fill="#efe4f4"/>
<circle cx="15.6" cy="67.3" r="0.6" fill="#f6eff8"/>
<circle cx="36.4" cy="69.4" r="0.5" fill="#b896d2"/>
<circle cx="31.3" cy="13.2" r="0.5" fill="#f6eff8"/>
<circle cx="39.9" cy="60.1" r="0.4" fill="#b08fcd"/>
<circle cx="71.8" cy="54.9" r="0.5" fill="#c6a9dc"/>
<circle cx="30.1" cy="61.2" r="0.8" fill="#b896d2"/>
<circle cx="30.3" cy="48.8" r="0.4" fill="#c6a9dc"/>
<circle cx="2.9" cy="87.9" r="0.7" fill="#f6eff8"/>
<circle cx="35.2" cy="25.0" r="0.7" fill="#e0cdea"/>
<circle cx="12.0" cy="4.4" r="0.6" fill="#b896d2"/>
<circle cx="79.7" cy="56.0" r="0.6" fill="#c6a9dc"/>
<circle cx="25.6" cy="21.5" r="0.6" fill="#b896d2"/>
<circle cx="30.7" cy="20.3" r="0.6" fill="#b896d2"/>
<circle cx="14.1" cy="17.3" r="0.7" fill="#f6eff8"/>
<circle cx="55.0" cy="10.6" r="0.6" fill="#e0cdea"/>
<circle cx="40.5" cy="92.2" r="0.7" fill="#f6eff8"/>
<circle cx="19.0" cy="41.9" r="0.7" fill="#b896d2"/>
<circle cx="38.1" cy="73.4" r="0.8" fill="#f6eff8"/>
<circle cx="73.7" cy="21.1" r="0.7" fill="#f6eff8"/>
<circle cx="53.4" cy="60.0" r="0.8" fill="#b08fcd"/>
<circle cx="12.3" cy="26.3" r="0.6" fill="#c6a9dc"/>
<circle cx="55.4" cy="3.8" r="0.5" fill="#c6a9dc"/>
<circle cx="16.1" cy="74.3" r="0.7" fill="#e0cdea"/>
<circle cx="35.3" cy="24.2" r="0.4" fill="#b896d2"/>
<circle cx="47.6" cy="42.3" r="0.8" fill="#b08fcd"/>
<circle cx="68.0" cy="48.5" r="0.7" fill="#c6a9dc"/>
<circle cx="75.5" cy="56.9" r="0.9" fill="#b08fcd"/>
<circle cx="29.8" cy="84.4" r="0.9" fill="#b896d2"/>
<circle cx="40.4" cy="70.2" r="0.6" fill="#c6a9dc"/>
<circle cx="80.3" cy="78.7" r="0.5" fill="#b08fcd"/>
<circle cx="6.0" cy="41.2" r="0.7" fill="#e0cdea"/>
<circle cx="77.8" cy="60.0" r="0.7" fill="#f6eff8"/>
<circle cx="41.0" cy="12.0" r="0.7" fill="#e0cdea"/>
<circle cx="70.3" cy="90.8" r="0.7" fill="#efe4f4"/>
<circle cx="56.8" cy="7.7" r="0.9" fill="#b896d2"/>
<circle cx="72.7" cy="5.4" r="0.5" fill="#f6eff8"/>
<circle cx="68.2" cy="5.3" r="0.8" fill="#c6a9dc"/>
<circle cx="55.7" cy="31.9" r="0.6" fill="#b08fcd"/>
<circle cx="81.9" cy="67.8" r="0.7" fill="#f6eff8"/>
<circle cx="83.6" cy="41.6" r="0.6" fill="#b08fcd"/>
<circle cx="2.1" cy="87.3" r="0.6" fill="#c6a9dc"/>
<circle cx="27.3" cy="70.7" r="0.4" fill="#efe4f4"/>
<circle cx="3.0" cy="19.0" r="0.9" fill="#b896d2"/>
<circle cx="82.7" cy="24.2" r="0.6" fill="#b08fcd"/>
<circle cx="73.4" cy="26.9" r="0.8" fill="#efe4f4"/>
<circle cx="49.7" cy="35.4" r="0.7" fill="#e0cdea"/>
<circle cx="61.4" cy="72.0" r="0.7" fill="#b896d2"/>
<circle cx="33.3" cy="4.3" r="0.5" fill="#efe4f4"/>
<circle cx="86.2" cy="88.6" r="0.9" fill="#c6a9dc"/>
<circle cx="67.8" cy="12.9" r="0.9" fill="#f6eff8"/>
<circle cx="37.8" cy="44.0" r="0.6" fill="#b896d2"/>
<circle cx="0.6" cy="46.5" r="0.8" fill="#e0cdea"/>
<circle cx="91.1" cy="88.4" r="0.7" fill="#c6a9dc"/>
<circle cx="32.5" cy="57.0" r="0.8" fill="#b896d2"/>
<circle cx="42.9" cy="31.9" r="0.8" fill="#b08fcd"/>
<circle cx="62.0" cy="47.4" r="0.8" fill="#e0cdea"/>
<circle cx="32.5" cy="45.2" r="0.9" fill="#e0cdea"/>
<circle cx="60.8" cy="58.6" r="0.4" fill="#f6eff8"/>
<circle cx="87.9" cy="79.3" r="0.8" fill="#e0cdea"/>
<circle cx="70.6" cy="38.5" r="0.5" fill="#f6eff8"/>
<circle cx="25.3" cy="55.4" r="0.4" fill="#f6eff8"/>
<circle cx="67.1" cy="88.8" r="0.6" fill="#efe4f4"/>
<circle cx="80.0" cy="67.9" r="0.7" fill="#e0cdea"/>
<circle cx="25.6" cy="39.1" r="0.8" fill="#efe4f4"/>
<circle cx="67.6" cy="77.0" r="0.8" fill="#f6eff8"/>
<circle cx="37.2" cy="24.1" r="0.7" fill="#b08fcd"/>
<circle cx="37.1" cy="57.5" r="0.8" fill="#efe4f4"/>
<circle cx="12.0" cy="1.5" r="0.8" fill="#b08fcd"/>
<circle cx="87.6" cy="37.4" r="0.5" fill="#c6a9dc"/>
<circle cx="89.3" cy="22.3" r="0.5" fill="#f6eff8"/>
<circle cx="1.1" cy="54.5" r="0.7" fill="#e0cdea"/>
<circle cx="32.4" cy="88.3" r="0.4" fill="#efe4f4"/>
<circle cx="85.1" cy="13.5" r="0.4" fill="#c6a9dc"/>
<circle cx="28.9" cy="59.4" r="0.9" fill="#b896d2"/>
<circle cx="60.2" cy="84.4" r="0.9" fill="#c6a9dc"/>
<circle cx="29.1" cy="75.6" r="0.5" fill="#b08fcd"/>
<circle cx="1.3" cy="24.3" r="0.8" fill="#c6a9dc"/>
<circle cx="9.7" cy="22.5" r="0.8" fill="#c6a9dc"/>
<circle cx="43.5" cy="9.7" r="0.6" fill="#e0cdea"/>
<circle cx="21.3" cy="81.3" r="0.7" fill="#e0cdea"/>
<circle cx="20.5" cy="42.0" r="0.8" fill="#efe4f4"/>
<circle cx="0.9" cy="49.9" r="0.8" fill="#e0cdea"/>
<circle cx="21.2" cy="68.0" r="0.6" fill="#b08fcd"/>
<circle cx="5.3" cy="23.1" r="0.7" fill="#e0cdea"/>
<circle cx="18.2" cy="19.3" r="0.6" fill="#b896d2"/>
<circle cx="45.4" cy="18.5" r="0.7" fill="#c6a9dc"/>
<circle cx="58.1" cy="12.2" r="0.7" fill="#b896d2"/>
<circle cx="44.7" cy="46.4" r="0.4" fill="#c6a9dc"/>
<circle cx="21.4" cy="50.5" r="0.7" fill="#b896d2"/>
<circle cx="82.1" cy="30.9" r="0.7" fill="#b896d2"/>
<circle cx="77.3" cy="46.4" r="0.5" fill="#c6a9dc"/>
<circle cx="50.6" cy="74.9" r="0.8" fill="#efe4f4"/>
<circle cx="57.9" cy="44.8" r="0.9" fill="#b08fcd"/>
<circle cx="54.4" cy="91.9" r="0.8" fill="#b896d2"/>
<circle cx="34.2" cy="39.3" r="0.8" fill="#b08fcd"/>
<circle cx="11.8" cy="45.2" r="0.9" fill="#b896d2"/>
<circle cx="66.4" cy="55.0" r="0.8" fill="#c6a9dc"/>
<circle cx="23.7" cy="66.9" r="0.5" fill="#efe4f4"/>
<circle cx="12.4" cy="34.1" r="0.8" fill="#f6eff8"/>
<circle cx="3.2" cy="67.6" r="0.6" fill="#c6a9dc"/>
<circle cx="52.1" cy="54.3" r="0.9" fill="#efe4f4"/>
<circle cx="85.2" cy="87.2" r="0.5" fill="#c6a9dc"/>
<circle cx="10.9" cy="56.4" r="0.6" fill="#b08fcd"/>
<circle cx="23.4" cy="26.3" r="0.5" fill="#f6eff8"/>
<circle cx="37.8" cy="65.1" r="0.5" fill="#efe4f4"/>
<circle cx="63.8" cy="59.5" r="0.7" fill="#efe4f4"/>
<circle cx="42.3" cy="92.9" r="0.5" fill="#f6eff8"/>
<circle cx="65.3" cy="48.5" r="0.8" fill="#b896d2"/>
<circle cx="55.6" cy="83.1" r="0.6" fill="#c6a9dc"/>
<circle cx="8.0" cy="22.5" r="0.5" fill="#b896d2"/>
<circle cx="16.6" cy="23.0" r="0.5" fill="#f6eff8"/>
<circle cx="39.0" cy="72.2" r="0.7" fill="#b08fcd"/>
<circle cx="59.4" cy="38.9" r="0.5" fill="#e0cdea"/>
<circle cx="49.8" cy="23.7" r="0.5" fill="#f6eff8"/>
<circle cx="11.6" cy="25.0" r="0.7" fill="#efe4f4"/>
<circle cx="85.3" cy="9.8" r="0.4" fill="#e0cdea"/>
<circle cx="76.0" cy="41.0" r="0.8" fill="#b896d2"/>
<circle cx="50.0" cy="59.5" r="0.4" fill="#b08fcd"/>
<circle cx="0.9" cy="10.2" r="0.6" fill="#b896d2"/>
<circle cx="84.9" cy="35.6" r="0.6" fill="#efe4f4"/>
<circle cx="42.0" cy="66.4" r="0.9" fill="#e0cdea"/>
<circle cx="54.4" cy="61.0" r="0.8" fill="#e0cdea"/>
<circle cx="82.8" cy="26.6" r="0.5" fill="#c6a9dc"/>
<circle cx="2.3" cy="16.7" r="0.9" fill="#e0cdea"/>
<circle cx="17.8" cy="76.1" r="0.9" fill="#f6eff8"/>
<circle cx="91.0" cy="88.1" r="0.8" fill="#e0cdea"/>
<circle cx="32.0" cy="78.4" r="0.8" fill="#b08fcd"/>
<circle cx="41.0" cy="33.9" r="0.8" fill="#b896d2"/>
<circle cx="17.2" cy="60.3" r="0.4" fill="#b896d2"/>
<circle cx="65.9" cy="43.7" r="0.7" fill="#efe4f4"/>
<circle cx="53.3" cy="12.7" r="0.5" fill="#f6eff8"/>
<circle cx="9.3" cy="60.4" r="0.6" fill="#c6a9dc"/>
<circle cx="42.7" cy="57.8" r="0.8" fill="#b08fcd"/>
<circle cx="71.1" cy="7.4" r="0.6" fill="#e0cdea"/>
<circle cx="2.5" cy="38.8" r="0.4" fill="#e0cdea"/>
<circle cx="13.4" cy="17.8" r="0.8" fill="#b08fcd"/>
<circle cx="23.2" cy="77.6" r="0.9" fill="#b08fcd"/>
<circle cx="90.3" cy="67.6" r="0.7" fill="#e0cdea"/>
<circle cx="9.1" cy="74.7" r="0.7" fill="#efe4f4"/>
<circle cx="68.9" cy="17.5" r="0.9" fill="#f6eff8"/>
<circle cx="5.4" cy="83.3" r="0.9" fill="#c6a9dc"/>
<circle cx="81.3" cy="18.8" r="0.5" fill="#efe4f4"/>
<circle cx="51.4" cy="10.5" r="0.5" fill="#f6eff8"/>
<circle cx="17.9" cy="60.6" r="0.8" fill="#b896d2"/>
<circle cx="48.4" cy="1.1" r="0.9" fill="#b896d2"/>
<circle cx="17.4" cy="82.2" r="0.8" fill="#b08fcd"/>
<circle cx="2.8" cy="77.7" r="0.8" fill="#f6eff8"/>
<circle cx="87.3" cy="62.5" r="0.5" fill="#b08fcd"/>
<circle cx="75.5" cy="46.9" r="0.6" fill="#efe4f4"/>
<circle cx="2.0" cy="51.0" r="0.7" fill="#b08fcd"/>
<circle cx="72.6" cy="22.7" r="0.7" fill="#b08fcd"/>
<circle cx="12.9" cy="29.5" r="0.8" fill="#efe4f4"/>
<circle cx="34.5" cy="37.1" r="0.7" fill="#b896d2"/>
<circle cx="11.1" cy="41.1" r="0.8" fill="#f6eff8"/>
<circle cx="87.1" cy="67.9" r="0.7" fill="#e0cdea"/>
<circle cx="12.0" cy="71.8" r="0.9" fill="#b08fcd"/>
<circle cx="55.7" cy="65.3" r="0.6" fill="#efe4f4"/>
<circle cx="54.6" cy="31.6" r="0.4" fill="#b896d2"/>
<circle cx="25.3" cy="37.1" r="0.7" fill="#e0cdea"/>
<circle cx="37.7" cy="13.8" r="0.8" fill="#b08fcd"/>
<circle cx="39.8" cy="89.5" r="0.7" fill="#f6eff8"/>
<circle cx="67.9" cy="17.8" r="0.9" fill="#f6eff8"/>
<circle cx="48.3" cy="80.8" r="0.5" fill="#b08fcd"/>
<circle cx="16.7" cy="1.5" r="0.6" fill="#b08fcd"/>
<circle cx="15.5" cy="59.1" r="0.5" fill="#b896d2"/>
<circle cx="34.5" cy="52.6" r="0.4" fill="#b08fcd"/>
<circle cx="74.3" cy="59.3" r="0.8" fill="#b08fcd"/>
<circle cx="43.9" cy="92.9" r="0.9" fill="#b08fcd"/>
<circle cx="84.7" cy="31.3" r="0.6" fill="#b08fcd"/>
<circle cx="33.7" cy="92.4" r="0.5" fill="#c6a9dc"/>
<circle cx="79.8" cy="33.5" r="0.8" fill="#c6a9dc"/>
<circle cx="26.1" cy="10.9" r="0.5" fill="#b896d2"/>
<circle cx="73.2" cy="20.3" r="0.7" fill="#b08fcd"/>
<circle cx="66.8" cy="16.3" r="0.6" fill="#b08fcd"/>
<circle cx="83.5" cy="33.9" r="0.7" fill="#b08fcd"/>
<circle cx="5.6" cy="14.6" r="0.4" fill="#e0cdea"/>
<circle cx="63.6" cy="80.0" r="0.8" fill="#f6eff8"/>
<circle cx="34.7" cy="68.7" r="0.5" fill="#efe4f4"/>
<circle cx="25.3" cy="54.2" r="0.6" fill="#efe4f4"/>
<circle cx="62.8" cy="85.5" r="0.8" fill="#c6a9dc"/>
<circle cx="19.3" cy="45.8" r="0.5" fill="#f6eff8"/>
<circle cx="49.5" cy="65.9" r="0.5" fill="#e0cdea"/>
<circle cx="21.8" cy="83.8" r="0.4" fill="#efe4f4"/>
<circle cx="30.8" cy="7.4" r="0.6" fill="#efe4f4"/>
<circle cx="65.6" cy="31.5" r="0.5" fill="#c6a9dc"/>
<circle cx="17.2" cy="41.5" r="0.7" fill="#b08fcd"/>
<circle cx="80.8" cy="65.6" r="0.5" fill="#e0cdea"/>
<circle cx="25.3" cy="60.3" r="0.4" fill="#efe4f4"/>
<circle cx="20.0" cy="66.4" r="0.5" fill="#b896d2"/>
<circle cx="87.6" cy="80.1" r="0.5" fill="#e0cdea"/>
<circle cx="62.9" cy="13.2" r="0.6" fill="#e0cdea"/>
<circle cx="70.1" cy="53.7" r="0.8" fill="#f6eff8"/>
<circle cx="76.0" cy="70.4" r="0.7" fill="#f6eff8"/>
<circle cx="68.2" cy="41.2" r="0.7" fill="#efe4f4"/>
<circle cx="80.2" cy="68.6" r="0.6" fill="#f6eff8"/>
<circle cx="52.3" cy="52.8" r="0.4" fill="#b08fcd"/>
<circle cx="40.8" cy="76.9" r="0.5" fill="#b08fcd"/>
<circle cx="67.0" cy="14.5" r="0.5" fill="#e0cdea"/>
<circle cx="12.8" cy="37.1" r="0.5" fill="#f6eff8"/>
<circle cx="40.9" cy="77.6" r="0.8" fill="#c6a9dc"/>
<circle cx="84.4" cy="58.8" r="0.8" fill="#e0cdea"/>
<circle cx="2.4" cy="30.1" r="0.5" fill="#b896d2"/>
<circle cx="12.7" cy="58.5" r="0.9" fill="#efe4f4"/>
<circle cx="68.2" cy="0.9" r="0.5" fill="#b896d2"/>
<circle cx="78.6" cy="30.7" r="0.7" fill="#efe4f4"/>
<circle cx="48.8" cy="67.3" r="0.7" fill="#b08fcd"/>
<circle cx="20.8" cy="85.2" r="0.5" fill="#b896d2"/>
<circle cx="4.4" cy="28.6" r="0.8" fill="#c6a9dc"/>
<circle cx="46.5" cy="48.7" r="0.7" fill="#e0cdea"/>
<circle cx="27.5" cy="55.0" r="0.8" fill="#f6eff8"/>
<circle cx="69.2" cy="34.6" r="0.7" fill="#b08fcd"/>
<circle cx="54.4" cy="46.5" r="0.5" fill="#b896d2"/>
<circle cx="88.4" cy="92.0" r="0.4" fill="#b08fcd"/>
<circle cx="5.3" cy="77.5" r="0.8" fill="#c6a9dc"/>
<circle cx="50.6" cy="20.1" r="0.5" fill="#f6eff8"/>
<circle cx="87.3" cy="52.2" r="0.5" fill="#b896d2"/>
<circle cx="65.7" cy="31.9" r="0.8" fill="#b08fcd"/>
<circle cx="49.9" cy="10.0" r="0.7" fill="#e0cdea"/>
<circle cx="52.1" cy="65.4" r="0.4" fill="#efe4f4"/>
<circle cx="26.6" cy="13.9" r="0.8" fill="#f6eff8"/>
<circle cx="45.3" cy="38.9" r="0.7" fill="#b896d2"/>
<circle cx="41.6" cy="51.7" r="0.5" fill="#efe4f4"/>
<circle cx="20.0" cy="81.6" r="0.6" fill="#b896d2"/>
<circle cx="64.6" cy="25.0" r="0.6" fill="#efe4f4"/>
<circle cx="53.1" cy="54.9" r="0.7" fill="#b08fcd"/>
<circle cx="73.9" cy="10.6" r="0.6" fill="#b08fcd"/>
<circle cx="8.3" cy="84.1" r="0.6" fill="#efe4f4"/>
<circle cx="21.6" cy="75.9" r="0.5" fill="#f6eff8"/>
<circle cx="49.2" cy="42.4" r="0.7" fill="#c6a9dc"/>
<circle cx="27.0" cy="63.8" r="0.7" fill="#b08fcd"/>
<circle cx="64.4" cy="68.5" r="0.7" fill="#b896d2"/>
<circle cx="45.7" cy="19.8" r="0.8" fill="#f6eff8"/>
<circle cx="43.9" cy="71.0" r="0.5" fill="#f6eff8"/>
<circle cx="86.3" cy="12.2" r="0.8" fill="#b08fcd"/>
<circle cx="0.2" cy="89.1" r="0.5" fill="#c6a9dc"/>
<circle cx="85.1" cy="57.8" r="0.8" fill="#e0cdea"/>
<circle cx="53.8" cy="33.2" r="0.4" fill="#b896d2"/>
<circle cx="19.5" cy="47.9" r="0.9" fill="#e0cdea"/>
<circle cx="5.2" cy="28.1" r="0.6" fill="#b08fcd"/>
<circle cx="77.7" cy="25.4" r="0.4" fill="#efe4f4"/>
<circle cx="23.4" cy="25.0" r="0.4" fill="#c6a9dc"/>
<circle cx="46.4" cy="86.4" r="0.4" fill="#b896d2"/>
<circle cx="81.3" cy="52.8" r="0.5" fill="#c6a9dc"/>
<circle cx="63.3" cy="11.1" r="0.8" fill="#e0cdea"/>
<circle cx="46.2" cy="31.7" r="0.5" fill="#efe4f4"/>
<circle cx="47.7" cy="75.8" r="0.8" fill="#c6a9dc"/>
<circle cx="32.8" cy="64.9" r="0.6" fill="#f6eff8"/>
<circle cx="87.2" cy="81.8" r="0.7" fill="#c6a9dc"/>
<circle cx="9.4" cy="92.8" r="0.8" fill="#e0cdea"/>
<circle cx="15.4" cy="71.3" r="0.9" fill="#c6a9dc"/>
<circle cx="2.3" cy="70.9" r="0.5" fill="#b08fcd"/>
<circle cx="91.2" cy="27.1" r="0.5" fill="#efe4f4"/>
<circle cx="65.5" cy="50.8" r="0.5" fill="#e0cdea"/>
<circle cx="76.3" cy="90.1" r="0.7" fill="#c6a9dc"/>
<circle cx="23.1" cy="49.7" r="0.6" fill="#e0cdea"/>
<circle cx="69.9" cy="11.8" r="0.5" fill="#b896d2"/>
<circle cx="72.2" cy="76.4" r="0.8" fill="#b08fcd"/>
<circle cx="24.6" cy="8.1" r="0.5" fill="#efe4f4"/>
<circle cx="33.4" cy="84.4" r="0.5" fill="#b896d2"/>
<circle cx="14.7" cy="17.6" r="0.5" fill="#e0cdea"/>
<circle cx="80.6" cy="1.8" r="0.7" fill="#b896d2"/>
<circle cx="14.5" cy="57.3" r="0.8" fill="#b896d2"/>
<circle cx="72.3" cy="84.4" r="0.5" fill="#e0cdea"/>
<circle cx="62.2" cy="21.4" r="0.5" fill="#b08fcd"/>
<circle cx="52.2" cy="62.8" r="0.8" fill="#f6eff8"/>
<circle cx="0.3" cy="80.6" r="0.8" fill="#c6a9dc"/>
<circle cx="5.7" cy="28.8" r="0.5" fill="#efe4f4"/>
<circle cx="36.7" cy="35.0" r="0.5" fill="#b08fcd"/>
<circle cx="33.1" cy="33.3" r="0.8" fill="#e0cdea"/>
<circle cx="68.1" cy="22.2" r="0.7" fill="#b08fcd"/>
<circle cx="8.0" cy="77.8" r="0.4" fill="#b896d2"/>
<circle cx="74.7" cy="66.7" r="0.7" fill="#efe4f4"/>
<circle cx="66.5" cy="1.6" r="0.5" fill="#f6eff8"/>
<circle cx="57.6" cy="51.2" r="0.5" fill="#c6a9dc"/>
<circle cx="57.1" cy="7.9" r="0.7" fill="#efe4f4"/>
<circle cx="13.4" cy="40.8" r="0.5" fill="#efe4f4"/>
<circle cx="27.3" cy="36.2" r="0.5" fill="#e0cdea"/>
<circle cx="73.8" cy="91.7" r="0.6" fill="#e0cdea"/>
<circle cx="70.4" cy="70.1" r="0.8" fill="#b08fcd"/>
<circle cx="50.6" cy="83.6" r="0.7" fill="#c6a9dc"/>
<circle cx="6.0" cy="43.2" r="0.7" fill="#f6eff8"/>
<circle cx="41.9" cy="60.2" r="0.6" fill="#efe4f4"/>
<circle cx="1.5" cy="52.1" r="0.6" fill="#efe4f4"/>
<circle cx="37.6" cy="8.1" r="0.5" fill="#c6a9dc"/>
<circle cx="77.3" cy="44.7" r="0.5" fill="#b08fcd"/>
<circle cx="29.6" cy="13.9" r="0.5" fill="#c6a9dc"/>
<circle cx="31.9" cy="43.7" r="0.8" fill="#efe4f4"/>
<circle cx="15.3" cy="83.0" r="0.5" fill="#c6a9dc"/>
<circle cx="17.2" cy="2.5" r="0.8" fill="#f6eff8"/>
<circle cx="73.0" cy="18.8" r="0.5" fill="#e0cdea"/>
<circle cx="67.5" cy="63.3" r="0.6" fill="#f6eff8"/>
<circle cx="30.4" cy="5.1" r="0.5" fill="#b896d2"/>
<circle cx="68.2" cy="51.3" r="0.9" fill="#c6a9dc"/>
<circle cx="59.3" cy="35.2" r="0.8" fill="#c6a9dc"/>
<circle cx="11.3" cy="27.9" r="0.7" fill="#c6a9dc"/>
<circle cx="3.1" cy="28.4" r="0.4" fill="#b896d2"/>
<circle cx="57.0" cy="57.8" r="0.6" fill="#c6a9dc"/>
<circle cx="55.9" cy="12.0" r="0.5" fill="#b896d2"/>
<circle cx="77.2" cy="2.8" r="0.9" fill="#b896d2"/>
<circle cx="28.0" cy="1.0" r="0.7" fill="#efe4f4"/>
<circle cx="12.8" cy="64.4" r="0.5" fill="#b896d2"/>
<circle cx="7.5" cy="24.1" r="0.5" fill="#f6eff8"/>
<circle cx="10.7" cy="90.1" r="0.5" fill="#f6eff8"/>
<circle cx="54.2" cy="36.4" r="0.8" fill="#c6a9dc"/>
<circle cx="56.5" cy="84.9" r="0.6" fill="#efe4f4"/>
<circle cx="40.6" cy="6.8" r="0.9" fill="#e0cdea"/>
<circle cx="7.8" cy="16.6" r="0.8" fill="#b08fcd"/>
<circle cx="44.2" cy="57.3" r="0.4" fill="#b08fcd"/>
<circle cx="45.2" cy="29.1" r="0.6" fill="#b896d2"/>
<circle cx="89.8" cy="66.5" r="0.7" fill="#b896d2"/>
<circle cx="56.6" cy="68.9" r="0.9" fill="#b08fcd"/>
<circle cx="42.7" cy="53.9" r="0.7" fill="#b08fcd"/>
<circle cx="38.0" cy="8.5" r="0.6" fill="#efe4f4"/>
<circle cx="8.2" cy="61.9" r="0.7" fill="#c6a9dc"/>
<circle cx="34.1" cy="6.8" r="0.5" fill="#c6a9dc"/>
<ellipse cx="40.0" cy="6.0" rx="5.0" ry="6.5" transform="rotate(20 40.0 6.0)" fill="#bb9fd8" stroke="#a284c8" stroke-width="0.9"/>
<ellipse cx="40.0" cy="6.0" rx="2.2" ry="2.3" transform="rotate(20 40.0 6.0)" fill="#e4d6ee"/>
<ellipse cx="76.0" cy="8.0" rx="7.5" ry="5.5" transform="rotate(10 76.0 8.0)" fill="#bb9fd8" stroke="#a284c8" stroke-width="0.9"/>
<ellipse cx="76.0" cy="8.0" rx="3.4" ry="1.9" transform="rotate(10 76.0 8.0)" fill="#e4d6ee"/>
<ellipse cx="61.0" cy="22.0" rx="9.0" ry="4.5" transform="rotate(-10 61.0 22.0)" fill="#bb9fd8" stroke="#a284c8" stroke-width="0.9"/>
<ellipse cx="61.0" cy="22.0" rx="4.0" ry="1.6" transform="rotate(-10 61.0 22.0)" fill="#e4d6ee"/>
<ellipse cx="81.0" cy="27.0" rx="8.0" ry="5.0" transform="rotate(-10 81.0 27.0)" fill="#bb9fd8" stroke="#a284c8" stroke-width="0.9"/>
<ellipse cx="81.0" cy="27.0" rx="3.6" ry="1.8" transform="rotate(-10 81.0 27.0)" fill="#e4d6ee"/>
<ellipse cx="73.0" cy="38.0" rx="9.0" ry="5.0" transform="rotate(-15 73.0 38.0)" fill="#bb9fd8" stroke="#a284c8" stroke-width="0.9"/>
<ellipse cx="73.0" cy="38.0" rx="4.0" ry="1.8" transform="rotate(-15 73.0 38.0)" fill="#e4d6ee"/>
<ellipse cx="88.0" cy="44.0" rx="5.0" ry="7.5" fill="#bb9fd8" stroke="#a284c8" stroke-width="0.9"/>
<ellipse cx="88.0" cy="44.0" rx="2.2" ry="2.6" fill="#e4d6ee"/>
<ellipse cx="33.0" cy="47.0" rx="6.0" ry="7.5" fill="#bb9fd8" stroke="#a284c8" stroke-width="0.9"/>
<ellipse cx="33.0" cy="47.0" rx="2.7" ry="2.6" fill="#e4d6ee"/>
<ellipse cx="45.0" cy="50.0" rx="6.0" ry="7.0" fill="#bb9fd8" stroke="#a284c8" stroke-width="0.9"/>
<ellipse cx="45.0" cy="50.0" rx="2.7" ry="2.4" fill="#e4d6ee"/>
<ellipse cx="58.0" cy="49.0" rx="6.0" ry="5.0" fill="#bb9fd8" stroke="#a284c8" stroke-width="0.9"/>
<ellipse cx="58.0" cy="49.0" rx="2.7" ry="1.8" fill="#e4d6ee"/>
<ellipse cx="52.0" cy="58.0" rx="6.0" ry="4.5" fill="#bb9fd8" stroke="#a284c8" stroke-width="0.9"/>
<ellipse cx="52.0" cy="58.0" rx="2.7" ry="1.6" fill="#e4d6ee"/>
<ellipse cx="87.0" cy="16.0" rx="5.0" ry="6.0" fill="#bb9fd8" stroke="#a284c8" stroke-width="0.9"/>
<ellipse cx="87.0" cy="16.0" rx="2.2" ry="2.1" fill="#e4d6ee"/>
<ellipse cx="84.0" cy="61.0" rx="6.0" ry="6.0" fill="#bb9fd8" stroke="#a284c8" stroke-width="0.9"/>
<ellipse cx="84.0" cy="61.0" rx="2.7" ry="2.1" fill="#e4d6ee"/>
<ellipse cx="6.0" cy="62.0" rx="4.0" ry="4.5" fill="#bb9fd8" stroke="#a284c8" stroke-width="0.9"/>
<ellipse cx="6.0" cy="62.0" rx="1.8" ry="1.6" fill="#e4d6ee"/>
<ellipse cx="15.0" cy="68.0" rx="4.5" ry="4.0" fill="#bb9fd8" stroke="#a284c8" stroke-width="0.9"/>
<ellipse cx="15.0" cy="68.0" rx="2.0" ry="1.4" fill="#e4d6ee"/>
<ellipse cx="24.0" cy="73.0" rx="4.0" ry="4.0" fill="#bb9fd8" stroke="#a284c8" stroke-width="0.9"/>
<ellipse cx="24.0" cy="73.0" rx="1.8" ry="1.4" fill="#e4d6ee"/>
<ellipse cx="9.0" cy="77.0" rx="4.5" ry="4.5" fill="#bb9fd8" stroke="#a284c8" stroke-width="0.9"/>
<ellipse cx="9.0" cy="77.0" rx="2.0" ry="1.6" fill="#e4d6ee"/>
<ellipse cx="18.0" cy="84.0" rx="5.0" ry="4.0" fill="#bb9fd8" stroke="#a284c8" stroke-width="0.9"/>
<ellipse cx="18.0" cy="84.0" rx="2.2" ry="1.4" fill="#e4d6ee"/>
<ellipse cx="30.0" cy="82.0" rx="4.5" ry="4.0" fill="#bb9fd8" stroke="#a284c8" stroke-width="0.9"/>
<ellipse cx="30.0" cy="82.0" rx="2.0" ry="1.4" fill="#e4d6ee"/>
<ellipse cx="10.0" cy="89.0" rx="4.0" ry="3.5" fill="#bb9fd8" stroke="#a284c8" stroke-width="0.9"/>
<ellipse cx="10.0" cy="89.0" rx="1.8" ry="1.2" fill="#e4d6ee"/>
<ellipse cx="70.0" cy="74.0" rx="7.0" ry="5.5" fill="#bb9fd8" stroke="#a284c8" stroke-width="0.9"/>
<ellipse cx="70.0" cy="74.0" rx="3.1" ry="1.9" fill="#e4d6ee"/>
<ellipse cx="84.0" cy="80.0" rx="6.0" ry="6.0" fill="#bb9fd8" stroke="#a284c8" stroke-width="0.9"/>
<ellipse cx="84.0" cy="80.0" rx="2.7" ry="2.1" fill="#e4d6ee"/>
<ellipse cx="72.0" cy="86.0" rx="5.0" ry="4.0" fill="#bb9fd8" stroke="#a284c8" stroke-width="0.9"/>
<ellipse cx="72.0" cy="86.0" rx="2.2" ry="1.4" fill="#e4d6ee"/>
<ellipse cx="30.0" cy="64.0" rx="4.0" ry="3.5" fill="#bb9fd8" stroke="#a284c8" stroke-width="0.9"/>
<ellipse cx="30.0" cy="64.0" rx="1.8" ry="1.2" fill="#e4d6ee"/>
<ellipse cx="38.0" cy="88.0" rx="5.0" ry="4.0" fill="#bb9fd8" stroke="#a284c8" stroke-width="0.9"/>
<ellipse cx="38.0" cy="88.0" rx="2.2" ry="1.4" fill="#e4d6ee"/>
<ellipse cx="47.0" cy="76.0" rx="4.0" ry="3.5" fill="#bb9fd8" stroke="#a284c8" stroke-width="0.9"/>
<ellipse cx="47.0" cy="76.0" rx="1.8" ry="1.2" fill="#e4d6ee"/>
<ellipse cx="24.0" cy="16.0" rx="4.0" ry="3.0" transform="rotate(30 24.0 16.0)" fill="#bb9fd8" stroke="#a284c8" stroke-width="0.9"/>
<ellipse cx="24.0" cy="16.0" rx="1.8" ry="1.0" transform="rotate(30 24.0 16.0)" fill="#e4d6ee"/>
<ellipse cx="18.0" cy="31.0" rx="5.0" ry="3.0" transform="rotate(30 18.0 31.0)" fill="#bb9fd8" stroke="#a284c8" stroke-width="0.9"/>
<ellipse cx="18.0" cy="31.0" rx="2.2" ry="1.0" transform="rotate(30 18.0 31.0)" fill="#e4d6ee"/>
<ellipse cx="53.0" cy="35.0" rx="4.0" ry="3.0" fill="#bb9fd8" stroke="#a284c8" stroke-width="0.9"/>
<ellipse cx="53.0" cy="35.0" rx="1.8" ry="1.0" fill="#e4d6ee"/>
<path d="M0,46 L10,52 L22,59 L32,65 L42,71 L50,77 L56,85 L60,93" fill="none" stroke="#fbf8fc" stroke-width="2.6"/>
<path d="M46,80 L54,80 L60,86 L64,93 L48,93 Z" fill="#fbf8fc"/>
<path d="M0,50 L3,50 L4,70 L3,93 L0,93 Z" fill="#f7f1f9"/>
<path d="M58,60 L66,56 L76,51 L86,49 L92,48" fill="none" stroke="#f8f3fa" stroke-width="2.2"/>
<ellipse cx="68.0" cy="55.0" rx="4.0" ry="2.5" transform="rotate(-10 68.0 55.0)" fill="#faf6fb"/>
</g></g>
<rect x="112.4" y="319.2" width="92.0" height="92.4" fill="none" stroke="#808080" stroke-width="0.9"/>
<g clip-path="url(#c2)"><g transform="translate(209.9,319.1)" filter="url(#hb)">
<rect x="-1" y="-1" width="94" height="95" fill="#c4d5e0"/>
<path d="M0.3,3.1 L1.1,2.4 L1.3,1.4 L1.3,0.9 L-0.3,-2.2 L-0.9,-2.6 L-1.8,-2.5 L-2.4,-2.0 L-2.6,-1.5 L-2.5,2.8 L-2.2,3.3 L-1.5,3.5 Z" fill="#8e5a9b" stroke="#a46fa3" stroke-width="0.6"/>
<path d="M-2.6,14.4 L-2.2,15.3 L-1.2,15.5 L-0.6,15.2 L0.8,13.8 L2.4,6.6 L1.5,4.6 L0.9,4.0 L0.3,4.0 L-1.8,4.6 L-2.5,5.3 Z" fill="#935e9f" stroke="#a46fa3" stroke-width="0.6"/>
<path d="M-0.5,34.0 L-1.0,33.7 L-1.7,33.7 L-2.3,34.0 L-2.6,34.7 L-2.6,41.4 L-2.2,42.2 L-1.5,42.5 L0.7,41.7 L1.3,40.8 L0.9,35.6 Z" fill="#9762a1" stroke="#a46fa3" stroke-width="0.6"/>
<path d="M-0.4,23.0 L0.0,24.0 L0.8,24.4 L3.8,23.8 L4.4,23.5 L4.7,22.9 L6.0,18.3 L5.9,17.7 L5.6,17.3 L1.6,15.1 L0.9,15.1 L-0.2,16.1 L-0.6,16.9 Z" fill="#9a66a3" stroke="#a46fa3" stroke-width="0.6"/>
<path d="M-2.6,60.7 L-2.3,61.5 L-1.6,61.9 L-0.8,61.8 L-0.3,61.3 L1.9,55.0 L1.9,54.3 L1.4,53.7 L-1.4,53.2 L-2.0,53.4 L-2.4,53.8 L-2.6,54.4 Z" fill="#935e9f" stroke="#a46fa3" stroke-width="0.6"/>
<path d="M1.9,2.8 L2.0,3.6 L2.9,5.5 L3.4,5.9 L8.0,6.3 L8.7,6.2 L9.3,5.3 L10.1,-1.2 L9.9,-2.0 L9.0,-2.6 L5.8,-2.6 L5.3,-2.4 L2.4,1.1 Z" fill="#8e5a9b" stroke="#a46fa3" stroke-width="0.6"/>
<path d="M-0.4,81.4 L-0.8,81.0 L-1.5,80.8 L-2.0,81.0 L-2.5,81.6 L-2.6,83.8 L-2.3,84.4 L-1.8,84.7 L-0.9,84.7 L-0.3,84.1 L0.2,82.5 Z" fill="#9762a1" stroke="#a46fa3" stroke-width="0.6"/>
<path d="M-0.6,32.0 L-0.4,32.9 L0.6,33.9 L1.2,34.2 L1.8,34.3 L7.6,30.0 L7.8,29.4 L7.7,28.7 L4.9,24.9 L3.9,24.6 L1.2,25.2 L0.6,25.6 L0.4,26.2 Z" fill="#935e9f" stroke="#a46fa3" stroke-width="0.6"/>
<path d="M2.1,52.9 L2.9,52.8 L3.5,52.1 L4.8,46.2 L4.6,45.6 L2.2,42.8 L1.3,42.4 L-2.0,43.9 L-2.5,44.5 L-2.6,51.2 L-2.3,51.9 L-1.8,52.2 Z" fill="#9a66a3" stroke="#a46fa3" stroke-width="0.6"/>
<path d="M1.8,13.2 L1.9,13.8 L2.3,14.4 L6.1,16.6 L7.0,16.6 L10.5,14.5 L11.0,14.1 L11.1,13.5 L10.9,9.5 L9.6,7.7 L9.1,7.3 L3.8,7.0 L3.4,7.2 L3.1,7.7 Z" fill="#9762a1" stroke="#a46fa3" stroke-width="0.6"/>
<path d="M-2.6,72.8 L-2.4,73.4 L-2.0,73.8 L-1.5,74.0 L-0.9,73.9 L1.9,71.2 L2.2,70.6 L2.1,69.9 L-0.3,64.7 L-0.7,64.2 L-1.2,64.0 L-2.1,64.2 L-2.6,64.9 Z" fill="#935e9f" stroke="#a46fa3" stroke-width="0.6"/>
<path d="M2.1,41.1 L2.4,41.8 L4.8,44.5 L5.4,44.9 L6.3,44.8 L8.9,43.0 L11.4,38.2 L11.5,37.7 L9.0,31.9 L8.6,31.3 L7.9,31.2 L7.3,31.3 L2.0,35.4 L1.8,36.1 Z" fill="#935e9f" stroke="#a46fa3" stroke-width="0.6"/>
<path d="M7.4,17.4 L6.9,18.1 L5.5,23.8 L5.7,24.4 L7.8,27.4 L8.3,27.8 L8.9,27.8 L9.7,27.4 L13.6,22.4 L14.0,18.3 L13.8,17.7 L12.1,15.7 L11.4,15.3 L10.7,15.4 Z" fill="#8e5a9b" stroke="#a46fa3" stroke-width="0.6"/>
<path d="M10.0,6.2 L10.1,6.9 L10.7,7.8 L11.3,8.1 L11.9,8.1 L12.4,7.8 L15.6,4.9 L15.9,4.4 L16.2,1.6 L16.2,1.1 L13.7,-2.1 L13.2,-2.5 L11.8,-2.5 L11.3,-2.2 L11.0,-1.8 Z" fill="#8e5a9b" stroke="#a46fa3" stroke-width="0.6"/>
<path d="M4.8,54.3 L3.8,54.0 L3.0,54.6 L0.7,61.0 L0.7,61.8 L1.1,62.4 L1.6,62.6 L8.1,62.9 L8.7,62.5 L8.9,61.9 L8.4,57.9 L8.1,57.4 Z" fill="#7a4890" stroke="#a46fa3" stroke-width="0.6"/>
<path d="M2.0,63.5 L1.1,63.9 L0.8,64.8 L3.1,69.9 L3.9,70.5 L5.9,70.8 L6.7,70.6 L8.4,68.7 L9.4,65.3 L9.2,64.4 L8.4,63.9 Z" fill="#7a4890" stroke="#a46fa3" stroke-width="0.6"/>
<path d="M16.0,-0.6 L16.8,-0.1 L17.7,-0.4 L18.2,-1.3 L17.9,-2.2 L17.1,-2.6 L16.1,-2.3 L15.7,-1.5 Z" fill="#9a66a3" stroke="#a46fa3" stroke-width="0.6"/>
<path d="M-0.8,88.7 L-0.8,89.4 L-0.1,90.7 L0.3,91.1 L0.8,91.3 L6.8,89.0 L7.3,88.4 L8.3,84.5 L8.1,83.5 L6.2,81.5 L5.6,81.2 L5.1,81.2 L1.4,82.5 L0.9,83.1 Z" fill="#7a4890" stroke="#a46fa3" stroke-width="0.6"/>
<path d="M12.6,13.6 L12.8,14.3 L14.1,15.9 L14.8,16.3 L15.5,16.2 L18.3,14.8 L18.7,14.2 L20.1,9.2 L19.9,8.1 L17.0,6.4 L16.4,6.3 L15.9,6.6 L12.6,9.7 Z" fill="#935e9f" stroke="#a46fa3" stroke-width="0.6"/>
<path d="M4.4,51.9 L4.4,52.6 L4.7,53.1 L8.1,56.3 L9.0,56.5 L9.6,56.2 L13.9,52.2 L14.1,51.6 L14.1,50.2 L13.9,49.7 L9.7,44.7 L9.2,44.5 L8.6,44.4 L6.2,45.9 L5.8,46.3 Z" fill="#8e5a9b" stroke="#a46fa3" stroke-width="0.6"/>
<path d="M-1.7,76.0 L-2.1,76.6 L-2.0,77.3 L0.7,81.3 L1.7,81.5 L4.9,80.4 L5.3,80.0 L5.6,79.5 L6.0,72.8 L5.9,72.2 L5.1,71.5 L3.6,71.3 L3.0,71.4 Z" fill="#7e4b93" stroke="#a46fa3" stroke-width="0.6"/>
<path d="M9.4,29.1 L9.2,29.6 L9.2,30.2 L12.0,36.4 L12.7,37.0 L13.7,36.8 L14.3,36.1 L16.7,27.2 L16.6,26.3 L14.9,24.1 L14.2,23.9 L13.6,24.0 L13.2,24.3 Z" fill="#8e5a9b" stroke="#a46fa3" stroke-width="0.6"/>
<path d="M9.9,62.6 L10.1,63.2 L10.7,63.6 L11.4,63.6 L11.9,63.4 L17.2,56.9 L17.3,56.3 L17.1,55.8 L15.1,53.5 L14.4,53.3 L13.7,53.6 L9.5,57.5 L9.3,58.2 Z" fill="#8e5a9b" stroke="#a46fa3" stroke-width="0.6"/>
<path d="M6.4,79.8 L6.6,80.6 L8.5,82.7 L9.2,83.0 L10.0,82.8 L10.5,82.4 L14.3,75.8 L14.3,75.3 L14.1,74.8 L9.6,70.5 L9.1,70.2 L8.1,70.4 L7.0,71.7 Z" fill="#7a4890" stroke="#a46fa3" stroke-width="0.6"/>
<path d="M7.7,91.0 L7.1,90.3 L6.3,90.2 L1.1,92.2 L0.5,93.0 L0.4,94.4 L0.6,95.0 L0.9,95.4 L1.5,95.6 L7.5,95.6 L8.1,95.4 L8.5,94.9 L8.7,94.2 Z" fill="#9762a1" stroke="#a46fa3" stroke-width="0.6"/>
<path d="M17.4,1.7 L17.2,4.2 L17.5,4.7 L20.8,6.6 L21.6,6.6 L22.4,6.1 L22.7,5.5 L22.9,2.3 L21.5,-0.7 L20.9,-1.0 L20.1,-0.9 L17.7,1.2 Z" fill="#9762a1" stroke="#a46fa3" stroke-width="0.6"/>
<path d="M13.7,48.2 L14.5,48.6 L15.3,48.4 L17.3,46.1 L17.6,45.6 L17.5,38.9 L16.8,38.2 L14.5,37.6 L12.8,38.0 L12.3,38.4 L9.9,43.2 L10.1,43.9 Z" fill="#9a66a3" stroke="#a46fa3" stroke-width="0.6"/>
<path d="M15.7,21.5 L15.9,22.3 L17.8,24.6 L18.3,24.9 L19.0,24.9 L19.7,24.4 L21.8,20.3 L21.8,19.3 L21.5,18.8 L19.8,17.6 L18.8,17.5 L16.1,18.9 L15.9,19.4 Z" fill="#935e9f" stroke="#a46fa3" stroke-width="0.6"/>
<path d="M8.0,88.9 L8.1,89.5 L9.7,94.5 L10.2,95.2 L11.2,95.2 L15.3,93.7 L15.9,93.2 L16.0,92.5 L15.5,87.5 L10.9,83.9 L10.0,83.7 L9.2,84.3 Z" fill="#7e4b93" stroke="#a46fa3" stroke-width="0.6"/>
<path d="M22.7,9.0 L21.3,14.5 L21.5,15.1 L23.1,16.3 L23.8,16.5 L24.5,16.3 L24.9,15.9 L27.4,10.7 L27.5,10.1 L27.3,9.6 L26.8,9.2 L24.2,8.1 L23.6,8.1 L23.1,8.3 Z" fill="#935e9f" stroke="#a46fa3" stroke-width="0.6"/>
<path d="M15.3,35.7 L15.3,36.4 L15.7,36.9 L17.9,37.6 L21.3,36.1 L21.8,35.6 L21.9,35.1 L22.1,31.1 L20.2,27.8 L19.8,27.3 L18.3,27.1 L17.8,27.3 L17.5,27.7 Z" fill="#935e9f" stroke="#a46fa3" stroke-width="0.6"/>
<path d="M15.0,51.6 L15.2,52.3 L17.9,55.3 L18.5,55.6 L19.1,55.5 L19.7,55.0 L22.8,50.0 L22.9,49.0 L22.2,48.2 L18.8,46.8 L18.0,46.9 L15.2,49.9 L15.0,50.4 Z" fill="#9762a1" stroke="#a46fa3" stroke-width="0.6"/>
<path d="M11.0,64.7 L10.5,65.0 L10.2,65.5 L9.4,68.4 L9.5,69.2 L14.8,74.3 L15.4,74.5 L16.1,74.4 L16.5,74.0 L16.7,73.4 L16.8,67.4 L16.6,66.9 L16.2,66.4 L12.3,64.5 Z" fill="#7a4890" stroke="#a46fa3" stroke-width="0.6"/>
<path d="M22.9,24.9 L22.8,25.6 L23.2,26.3 L23.8,26.7 L24.5,26.6 L26.6,24.5 L26.8,23.9 L26.7,23.4 L25.7,22.2 L24.6,22.2 L24.1,22.6 Z" fill="#9762a1" stroke="#a46fa3" stroke-width="0.6"/>
<path d="M24.7,4.6 L24.8,5.3 L25.4,5.8 L28.8,7.1 L29.4,7.1 L29.8,6.8 L30.7,4.9 L30.3,0.3 L30.0,-0.4 L29.3,-0.8 L28.5,-0.6 L25.2,2.3 L24.8,2.9 Z" fill="#9762a1" stroke="#a46fa3" stroke-width="0.6"/>
<path d="M13.6,62.6 L13.4,63.6 L13.9,64.3 L16.5,65.6 L17.1,65.6 L17.6,65.3 L20.6,62.2 L20.9,61.6 L20.8,60.9 L19.4,57.8 L18.6,57.4 L17.7,57.7 Z" fill="#8e5a9b" stroke="#a46fa3" stroke-width="0.6"/>
<path d="M18.5,44.9 L18.7,45.4 L19.1,45.9 L22.7,47.4 L23.5,47.3 L24.1,46.8 L24.2,46.2 L23.8,38.3 L23.5,37.7 L22.6,37.0 L21.6,37.0 L19.1,38.2 L18.7,38.7 Z" fill="#9762a1" stroke="#a46fa3" stroke-width="0.6"/>
<path d="M32.2,3.3 L32.6,4.1 L33.5,4.4 L39.6,2.7 L39.9,2.3 L40.0,1.7 L39.4,-2.1 L38.9,-2.4 L38.4,-2.6 L33.0,-2.6 L32.3,-2.3 L31.8,-1.4 Z" fill="#9a66a3" stroke="#a46fa3" stroke-width="0.6"/>
<path d="M11.7,82.0 L11.5,82.8 L12.0,83.6 L15.2,86.0 L15.9,86.1 L16.5,85.8 L19.2,81.9 L18.8,76.5 L18.4,75.7 L17.1,75.2 L15.5,75.8 Z" fill="#76448d" stroke="#a46fa3" stroke-width="0.6"/>
<path d="M17.9,66.2 L17.6,67.0 L17.6,73.7 L18.0,74.5 L19.0,74.8 L19.6,74.6 L22.9,72.4 L23.6,69.6 L22.2,64.2 L21.6,63.6 L21.0,63.5 L20.3,63.7 Z" fill="#7e4b93" stroke="#a46fa3" stroke-width="0.6"/>
<path d="M23.9,34.3 L24.3,35.2 L25.3,35.5 L30.0,33.7 L30.5,33.3 L31.0,32.0 L31.1,31.4 L29.8,28.1 L29.5,27.6 L28.8,27.3 L28.0,27.5 L24.3,31.4 L24.0,32.0 Z" fill="#8e5a9b" stroke="#a46fa3" stroke-width="0.6"/>
<path d="M21.6,59.5 L22.3,60.1 L23.1,60.2 L26.5,58.3 L27.0,57.7 L27.0,57.1 L26.1,50.8 L25.9,50.3 L25.4,50.0 L24.6,50.0 L24.0,50.4 L20.5,56.2 L20.5,57.0 Z" fill="#8e5a9b" stroke="#a46fa3" stroke-width="0.6"/>
<path d="M28.7,21.8 L29.5,22.3 L30.5,21.9 L34.2,16.9 L34.4,16.4 L34.2,15.6 L31.5,11.7 L30.7,11.3 L30.0,11.3 L29.5,11.8 L26.4,18.3 L26.6,19.1 Z" fill="#935e9f" stroke="#a46fa3" stroke-width="0.6"/>
<path d="M16.8,91.8 L17.2,92.6 L18.2,92.9 L22.9,90.6 L23.2,90.1 L24.3,86.4 L24.0,85.4 L20.6,83.2 L20.0,83.1 L19.3,83.4 L16.5,87.2 Z" fill="#76448d" stroke="#a46fa3" stroke-width="0.6"/>
<path d="M26.2,45.6 L26.6,46.5 L27.5,46.8 L29.8,45.7 L30.3,45.2 L31.9,40.7 L31.1,37.8 L30.6,37.2 L29.6,37.1 L26.6,38.3 L26.0,38.9 L25.9,39.4 Z" fill="#9762a1" stroke="#a46fa3" stroke-width="0.6"/>
<path d="M20.1,81.3 L20.5,82.1 L24.2,84.5 L25.1,84.5 L25.8,83.8 L27.1,77.4 L26.8,76.7 L23.6,73.6 L22.6,73.7 L20.0,75.3 L19.7,75.8 L19.6,76.4 Z" fill="#7e4b93" stroke="#a46fa3" stroke-width="0.6"/>
<path d="M30.9,23.7 L30.7,24.8 L32.9,30.2 L33.4,30.6 L34.0,30.6 L36.6,29.4 L36.9,28.7 L37.8,20.2 L37.6,19.5 L36.6,18.3 L35.8,17.9 L34.9,18.3 Z" fill="#9a66a3" stroke="#a46fa3" stroke-width="0.6"/>
<path d="M28.8,57.3 L29.4,58.2 L30.1,58.5 L30.8,58.5 L35.2,55.2 L35.6,54.6 L35.4,53.6 L31.7,48.6 L31.0,48.1 L30.3,48.1 L28.5,49.0 L27.8,49.8 Z" fill="#935e9f" stroke="#a46fa3" stroke-width="0.6"/>
<path d="M23.9,67.6 L24.5,68.3 L25.6,68.4 L29.8,65.5 L30.0,64.8 L30.1,60.7 L29.6,59.8 L28.5,59.1 L27.7,59.1 L23.2,61.5 L22.8,61.9 L22.6,62.8 Z" fill="#8e5a9b" stroke="#a46fa3" stroke-width="0.6"/>
<path d="M32.0,6.1 L31.1,8.5 L31.3,9.0 L34.9,14.1 L35.6,14.6 L36.3,14.5 L36.8,14.2 L40.6,9.8 L40.6,4.6 L40.0,3.9 L39.2,3.8 L32.7,5.5 Z" fill="#9a66a3" stroke="#a46fa3" stroke-width="0.6"/>
<path d="M24.0,90.3 L24.0,91.2 L25.8,94.3 L26.4,94.7 L27.2,94.7 L27.8,94.2 L31.4,88.8 L31.6,87.7 L30.8,87.0 L26.7,85.4 L26.0,85.4 L25.3,86.1 Z" fill="#7e4b93" stroke="#a46fa3" stroke-width="0.6"/>
<path d="M19.3,93.3 L18.8,93.8 L18.7,94.5 L18.9,95.1 L19.5,95.5 L23.8,95.6 L24.4,95.2 L24.7,94.7 L24.6,93.9 L23.8,92.4 L23.0,91.8 L22.3,91.9 Z" fill="#935e9f" stroke="#a46fa3" stroke-width="0.6"/>
<path d="M24.4,70.4 L24.0,72.4 L24.3,73.0 L27.3,76.0 L28.1,76.3 L32.2,74.4 L33.5,71.6 L33.6,71.1 L33.4,70.4 L30.9,67.1 L30.5,66.7 L29.9,66.7 L29.4,66.9 L24.8,69.9 Z" fill="#7a4890" stroke="#a46fa3" stroke-width="0.6"/>
<path d="M40.8,1.4 L41.2,2.1 L42.0,2.4 L45.0,1.3 L46.3,-0.9 L46.4,-1.5 L46.2,-2.0 L45.4,-2.6 L41.7,-2.6 L41.0,-2.4 L40.5,-1.5 Z" fill="#9762a1" stroke="#a46fa3" stroke-width="0.6"/>
<path d="M36.7,15.5 L36.4,16.1 L36.6,16.8 L38.4,19.2 L38.9,19.4 L43.0,20.0 L43.5,19.7 L43.9,19.1 L44.9,13.9 L44.9,13.4 L44.5,12.8 L42.1,11.0 L41.1,10.9 L40.5,11.2 Z" fill="#935e9f" stroke="#a46fa3" stroke-width="0.6"/>
<path d="M33.4,34.3 L33.4,35.1 L34.6,39.0 L35.4,39.4 L36.6,39.5 L37.1,39.3 L37.6,38.5 L38.6,32.6 L38.4,31.8 L37.8,31.4 L37.1,31.4 L34.4,32.5 L33.9,32.9 Z" fill="#9762a1" stroke="#a46fa3" stroke-width="0.6"/>
<path d="M30.9,65.1 L31.1,65.9 L33.8,69.6 L34.3,70.0 L35.2,70.0 L37.9,68.6 L38.1,68.1 L39.3,60.3 L39.1,59.8 L37.0,56.5 L36.3,56.3 L35.7,56.5 L31.1,60.0 L30.9,60.6 Z" fill="#8e5a9b" stroke="#a46fa3" stroke-width="0.6"/>
<path d="M35.8,51.9 L36.2,52.3 L36.8,52.4 L37.3,52.2 L37.7,51.9 L40.5,47.7 L41.2,44.4 L40.9,43.7 L38.5,41.7 L34.5,41.2 L33.9,41.4 L33.5,41.9 L32.0,46.0 L32.0,46.6 L32.2,47.1 Z" fill="#935e9f" stroke="#a46fa3" stroke-width="0.6"/>
<path d="M26.8,83.4 L26.9,84.2 L27.5,84.8 L32.1,86.6 L32.8,86.6 L33.4,86.2 L33.6,85.7 L34.3,82.0 L32.7,76.7 L32.3,76.0 L31.7,75.8 L31.2,75.9 L28.6,77.1 L28.1,77.5 Z" fill="#7a4890" stroke="#a46fa3" stroke-width="0.6"/>
<path d="M40.0,29.9 L40.7,29.9 L43.2,29.0 L45.0,25.1 L45.1,24.6 L44.0,21.7 L43.6,21.2 L43.1,20.9 L39.6,20.4 L38.9,20.6 L38.5,21.3 L37.8,28.5 L37.9,29.0 L38.3,29.4 Z" fill="#935e9f" stroke="#a46fa3" stroke-width="0.6"/>
<path d="M48.0,-2.1 L46.2,1.4 L46.3,2.1 L49.2,5.9 L49.9,6.3 L50.7,6.2 L51.2,5.8 L52.5,3.4 L52.8,-1.3 L52.7,-1.9 L52.4,-2.3 L51.9,-2.6 L48.5,-2.5 Z" fill="#9a66a3" stroke="#a46fa3" stroke-width="0.6"/>
<path d="M41.5,9.0 L41.7,9.6 L42.0,10.0 L45.0,12.1 L45.7,12.3 L49.4,10.3 L49.7,9.7 L49.8,8.4 L49.6,7.8 L45.8,2.8 L45.4,2.4 L44.8,2.3 L42.1,3.4 L41.6,3.9 L41.4,4.5 Z" fill="#8e5a9b" stroke="#a46fa3" stroke-width="0.6"/>
<path d="M44.5,20.3 L44.6,20.8 L45.6,23.3 L46.2,23.9 L46.9,23.9 L50.9,23.0 L51.6,22.5 L51.8,21.9 L52.6,14.5 L52.3,13.9 L50.3,11.6 L49.7,11.4 L49.2,11.5 L46.0,13.4 Z" fill="#9a66a3" stroke="#a46fa3" stroke-width="0.6"/>
<path d="M38.3,54.0 L38.1,54.7 L38.3,55.3 L40.0,58.0 L40.9,58.5 L43.9,57.6 L45.4,54.5 L45.1,53.5 L42.1,50.6 L41.4,50.4 L40.9,50.5 L40.4,50.8 Z" fill="#935e9f" stroke="#a46fa3" stroke-width="0.6"/>
<path d="M40.3,40.0 L40.6,40.9 L41.7,41.7 L42.6,41.6 L43.6,40.6 L44.3,35.5 L43.6,33.5 L43.0,33.0 L42.0,33.0 L41.4,33.7 Z" fill="#9a66a3" stroke="#a46fa3" stroke-width="0.6"/>
<path d="M29.2,93.7 L29.0,94.3 L29.0,94.8 L29.8,95.5 L34.1,95.6 L34.8,95.4 L35.3,94.5 L35.6,90.5 L35.4,89.8 L34.1,88.3 L33.4,88.1 L32.8,88.3 Z" fill="#7e4b93" stroke="#a46fa3" stroke-width="0.6"/>
<path d="M33.2,74.4 L33.2,75.2 L34.6,80.0 L35.0,80.6 L35.7,80.8 L36.2,80.7 L39.4,78.7 L39.7,78.0 L40.0,71.4 L39.7,70.7 L38.8,69.9 L38.3,69.7 L37.7,69.8 L34.8,71.2 L34.4,71.6 Z" fill="#935e9f" stroke="#a46fa3" stroke-width="0.6"/>
<path d="M34.3,86.4 L34.5,87.4 L35.8,88.9 L36.3,89.2 L37.0,89.2 L40.6,88.0 L41.2,87.4 L42.4,82.9 L42.2,82.0 L40.3,80.0 L39.7,79.8 L39.1,80.0 L35.3,82.4 Z" fill="#9762a1" stroke="#a46fa3" stroke-width="0.6"/>
<path d="M44.2,29.0 L44.1,29.9 L45.7,33.8 L46.2,34.3 L47.1,34.5 L51.0,33.1 L51.6,32.2 L52.7,25.1 L52.5,24.3 L52.0,23.8 L51.3,23.7 L46.2,25.0 L45.7,25.6 Z" fill="#9a66a3" stroke="#a46fa3" stroke-width="0.6"/>
<path d="M50.5,9.9 L50.7,10.7 L53.0,13.2 L53.8,13.3 L55.6,12.5 L56.1,11.9 L57.9,6.9 L57.8,6.0 L57.1,5.3 L53.9,4.4 L53.2,4.4 L52.7,4.9 L50.8,8.1 Z" fill="#9a66a3" stroke="#a46fa3" stroke-width="0.6"/>
<path d="M39.7,67.9 L40.0,68.8 L41.1,69.6 L44.4,69.5 L45.3,69.0 L46.3,63.6 L44.7,60.8 L44.3,60.4 L43.4,60.3 L41.5,60.8 L40.9,61.3 Z" fill="#935e9f" stroke="#a46fa3" stroke-width="0.6"/>
<path d="M41.5,47.0 L41.5,47.6 L41.8,48.1 L46.7,52.8 L47.7,52.9 L49.1,51.9 L50.1,45.8 L50.0,45.2 L49.6,44.8 L45.5,42.5 L44.7,42.5 L42.3,44.2 Z" fill="#935e9f" stroke="#a46fa3" stroke-width="0.6"/>
<path d="M53.4,2.4 L53.6,3.0 L54.2,3.5 L58.1,4.8 L58.7,4.8 L59.2,4.6 L61.6,2.6 L62.1,1.2 L62.2,0.6 L61.9,0.1 L59.5,-2.5 L54.6,-2.6 L54.1,-2.3 L53.7,-1.7 Z" fill="#8e5a9b" stroke="#a46fa3" stroke-width="0.6"/>
<path d="M46.0,58.1 L46.0,59.0 L47.4,61.4 L48.0,61.8 L48.8,61.8 L50.1,61.2 L50.5,60.8 L51.9,56.6 L51.9,55.8 L50.1,53.9 L49.6,53.7 L49.0,53.7 L47.8,54.7 Z" fill="#935e9f" stroke="#a46fa3" stroke-width="0.6"/>
<path d="M36.1,94.3 L36.4,95.1 L37.1,95.6 L42.6,95.5 L43.1,95.1 L43.3,94.6 L43.5,91.7 L43.4,91.1 L41.7,89.2 L41.1,88.9 L37.2,90.0 L36.7,90.4 L36.5,90.9 Z" fill="#935e9f" stroke="#a46fa3" stroke-width="0.6"/>
<path d="M46.8,40.0 L46.9,40.7 L47.3,41.2 L49.9,42.6 L50.5,42.8 L51.1,42.6 L53.4,40.9 L53.7,40.4 L53.9,39.6 L53.7,39.0 L51.7,35.9 L51.2,35.5 L50.7,35.4 L48.0,36.3 L47.5,36.6 L47.2,37.1 Z" fill="#935e9f" stroke="#a46fa3" stroke-width="0.6"/>
<path d="M42.5,79.3 L43.1,79.6 L43.9,79.6 L45.9,78.2 L46.3,77.7 L46.9,74.3 L45.8,72.7 L45.3,72.4 L42.9,72.4 L42.3,72.6 L42.0,73.1 L41.7,78.0 L41.9,78.5 Z" fill="#9a66a3" stroke="#a46fa3" stroke-width="0.6"/>
<path d="M52.6,22.4 L52.8,23.3 L53.7,24.0 L58.1,24.3 L58.9,24.0 L59.4,23.2 L60.3,16.2 L60.0,15.3 L56.3,13.3 L55.7,13.4 L53.7,14.4 L53.4,15.1 Z" fill="#8e5a9b" stroke="#a46fa3" stroke-width="0.6"/>
<path d="M52.4,32.7 L52.6,33.6 L55.1,37.5 L55.6,37.9 L56.2,38.0 L56.7,37.8 L59.2,35.7 L59.4,34.8 L58.4,26.2 L58.0,25.4 L57.5,25.1 L54.6,24.9 L53.7,25.4 L53.4,25.9 Z" fill="#8e5a9b" stroke="#a46fa3" stroke-width="0.6"/>
<path d="M47.1,69.9 L47.4,70.9 L48.5,72.2 L49.2,72.5 L49.8,72.4 L53.4,70.9 L54.0,70.4 L54.2,69.8 L54.2,67.2 L51.1,63.1 L50.1,63.0 L48.8,63.6 L48.4,64.0 Z" fill="#9a66a3" stroke="#a46fa3" stroke-width="0.6"/>
<path d="M50.1,51.4 L50.4,52.4 L53.3,55.0 L53.9,55.1 L57.1,54.6 L57.8,54.0 L58.4,49.0 L55.5,43.6 L55.1,43.1 L54.5,43.0 L53.9,43.1 L51.1,45.2 Z" fill="#9a66a3" stroke="#a46fa3" stroke-width="0.6"/>
<path d="M43.5,82.4 L42.0,87.9 L42.2,88.5 L43.6,90.0 L44.3,90.3 L44.9,90.2 L48.8,88.6 L49.2,88.3 L49.5,87.6 L49.6,83.8 L47.9,80.4 L47.3,80.2 L46.6,80.2 Z" fill="#9762a1" stroke="#a46fa3" stroke-width="0.6"/>
<path d="M57.1,11.5 L57.1,12.2 L57.5,12.8 L60.2,14.4 L61.1,14.4 L62.1,13.5 L63.8,10.1 L62.4,5.2 L61.9,4.6 L61.4,4.4 L60.8,4.4 L59.2,5.7 Z" fill="#8e5a9b" stroke="#a46fa3" stroke-width="0.6"/>
<path d="M60.5,21.9 L60.6,22.7 L61.3,23.2 L65.2,23.2 L66.0,22.7 L66.9,20.8 L67.0,20.2 L66.8,19.7 L63.3,15.5 L62.8,15.2 L61.9,15.2 L61.2,15.9 Z" fill="#8e5a9b" stroke="#a46fa3" stroke-width="0.6"/>
<path d="M59.5,24.6 L59.2,25.5 L60.3,34.7 L60.7,35.1 L61.1,35.3 L63.5,35.7 L64.1,35.6 L66.3,34.3 L67.6,31.0 L65.8,24.8 L65.4,24.3 L64.7,24.1 L60.4,24.1 Z" fill="#8e5a9b" stroke="#a46fa3" stroke-width="0.6"/>
<path d="M62.7,2.4 L62.7,3.1 L64.4,9.1 L64.8,9.6 L65.5,9.9 L70.3,10.2 L71.2,9.8 L71.5,9.3 L71.5,8.6 L68.9,0.5 L68.5,-0.0 L66.1,-0.8 L65.4,-0.7 L63.2,0.8 Z" fill="#7e4b93" stroke="#a46fa3" stroke-width="0.6"/>
<path d="M45.1,91.0 L44.6,91.4 L44.3,92.0 L44.2,94.5 L44.7,95.4 L45.4,95.6 L50.8,95.6 L51.4,95.4 L51.8,95.0 L52.3,92.9 L52.3,92.3 L50.0,89.5 L49.0,89.4 Z" fill="#935e9f" stroke="#a46fa3" stroke-width="0.6"/>
<path d="M48.2,78.5 L48.3,79.2 L49.8,82.2 L50.4,82.6 L51.2,82.5 L57.2,79.5 L57.5,78.9 L58.2,75.1 L58.1,74.5 L57.8,74.0 L55.3,72.0 L54.7,71.8 L54.2,71.9 L49.3,74.1 L49.0,74.7 Z" fill="#9762a1" stroke="#a46fa3" stroke-width="0.6"/>
<path d="M55.6,41.2 L55.6,42.1 L58.5,47.2 L59.1,47.7 L60.0,47.6 L62.7,45.8 L63.1,45.1 L63.5,37.6 L63.3,36.9 L62.5,36.4 L60.5,36.1 L59.8,36.3 L56.3,39.4 Z" fill="#9762a1" stroke="#a46fa3" stroke-width="0.6"/>
<path d="M51.8,61.0 L51.9,62.0 L53.9,64.7 L54.6,65.1 L55.4,65.0 L55.9,64.5 L59.2,58.1 L59.3,57.6 L59.2,57.0 L58.3,55.7 L57.7,55.4 L53.9,56.0 L53.3,56.6 Z" fill="#9762a1" stroke="#a46fa3" stroke-width="0.6"/>
<path d="M52.3,90.8 L53.0,91.3 L53.6,91.2 L56.8,89.3 L57.2,88.8 L58.4,85.9 L57.7,81.9 L57.0,81.1 L56.0,81.1 L51.1,83.5 L50.5,84.1 L50.4,88.3 Z" fill="#76448d" stroke="#a46fa3" stroke-width="0.6"/>
<path d="M55.3,70.3 L55.7,71.2 L58.4,73.4 L59.3,73.5 L60.0,72.9 L63.9,64.1 L63.6,63.3 L60.7,59.7 L59.8,59.6 L59.1,60.1 L55.6,66.8 Z" fill="#935e9f" stroke="#a46fa3" stroke-width="0.6"/>
<path d="M59.2,55.5 L59.9,56.0 L60.7,56.0 L65.3,52.8 L65.7,52.3 L65.8,51.7 L65.3,47.7 L64.9,47.1 L64.2,46.6 L63.6,46.4 L63.0,46.6 L59.4,49.2 L58.7,54.4 Z" fill="#9762a1" stroke="#a46fa3" stroke-width="0.6"/>
<path d="M65.4,10.8 L64.8,10.9 L64.3,11.3 L63.3,13.2 L63.2,14.0 L67.1,18.6 L67.6,18.9 L68.3,18.9 L71.5,16.0 L71.6,15.4 L71.2,11.7 L70.7,11.2 L70.2,11.0 Z" fill="#7a4890" stroke="#a46fa3" stroke-width="0.6"/>
<path d="M67.9,28.9 L68.5,29.6 L69.4,29.7 L73.9,27.4 L74.4,26.8 L75.6,20.3 L75.2,19.6 L72.5,17.2 L71.9,17.1 L71.3,17.4 L68.3,20.2 L66.6,23.4 L66.5,24.2 Z" fill="#7a4890" stroke="#a46fa3" stroke-width="0.6"/>
<path d="M64.0,44.8 L64.1,45.3 L64.5,45.8 L65.2,46.2 L66.0,46.2 L70.2,43.1 L70.6,42.4 L70.3,40.0 L67.2,36.0 L66.6,35.6 L65.9,35.6 L65.0,36.1 L64.4,36.8 Z" fill="#76448d" stroke="#a46fa3" stroke-width="0.6"/>
<path d="M70.1,-0.8 L69.7,-0.2 L69.7,0.4 L71.8,6.9 L72.5,7.6 L73.4,7.6 L74.7,6.6 L75.0,6.1 L77.1,-1.0 L77.1,-1.8 L76.7,-2.3 L76.2,-2.6 L72.6,-2.6 L72.0,-2.4 Z" fill="#9a66a3" stroke="#a46fa3" stroke-width="0.6"/>
<path d="M58.2,79.6 L59.0,84.6 L59.3,85.2 L60.3,85.6 L63.1,85.3 L63.7,85.0 L64.1,84.1 L64.2,76.7 L63.8,75.8 L60.6,74.4 L59.5,74.5 L59.1,75.2 Z" fill="#7a4890" stroke="#a46fa3" stroke-width="0.6"/>
<path d="M52.9,94.2 L53.2,95.1 L54.1,95.6 L58.8,95.6 L59.5,95.2 L59.8,94.4 L59.6,93.8 L57.8,90.9 L56.9,90.4 L56.3,90.6 L53.5,92.3 L53.2,92.9 Z" fill="#935e9f" stroke="#a46fa3" stroke-width="0.6"/>
<path d="M61.2,56.7 L60.7,57.5 L60.8,58.3 L64.4,62.9 L65.3,63.3 L67.6,62.9 L68.2,62.5 L71.2,56.6 L71.3,56.1 L71.1,55.5 L70.7,55.1 L66.4,53.2 L65.8,53.5 Z" fill="#7a4890" stroke="#a46fa3" stroke-width="0.6"/>
<path d="M72.0,10.4 L72.0,11.0 L72.5,15.8 L75.0,18.3 L75.8,18.6 L76.3,18.4 L76.8,18.0 L81.6,10.9 L81.8,10.2 L81.6,9.5 L81.1,9.1 L75.6,7.3 L75.0,7.5 L72.6,9.3 Z" fill="#76448d" stroke="#a46fa3" stroke-width="0.6"/>
<path d="M66.2,47.8 L66.8,52.1 L67.2,52.5 L70.9,54.2 L71.7,54.2 L72.3,53.7 L74.3,48.9 L74.4,48.3 L74.1,47.7 L71.4,44.1 L70.7,43.9 L70.2,44.1 L66.3,47.1 Z" fill="#7e4b93" stroke="#a46fa3" stroke-width="0.6"/>
<path d="M70.1,38.4 L70.7,38.8 L71.6,38.6 L76.1,34.3 L76.5,31.2 L75.2,28.9 L74.7,28.5 L73.6,28.5 L68.9,30.9 L68.3,31.5 L67.3,34.1 L67.3,34.7 Z" fill="#76448d" stroke="#a46fa3" stroke-width="0.6"/>
<path d="M58.9,87.1 L58.1,89.3 L58.2,89.9 L61.3,94.9 L62.0,95.4 L62.5,95.4 L63.1,95.0 L66.1,91.0 L65.5,87.0 L65.1,86.5 L64.4,86.1 L59.5,86.6 Z" fill="#7e4b93" stroke="#a46fa3" stroke-width="0.6"/>
<path d="M61.1,72.4 L61.1,73.2 L61.5,73.8 L64.5,75.1 L68.4,74.3 L69.0,73.9 L70.4,69.5 L68.5,64.6 L68.1,64.1 L67.3,63.8 L65.4,64.1 L64.8,64.5 Z" fill="#76448d" stroke="#a46fa3" stroke-width="0.6"/>
<path d="M64.9,83.8 L65.1,84.4 L65.4,84.8 L66.0,85.0 L66.7,84.9 L71.1,80.3 L71.1,79.3 L69.5,75.8 L69.0,75.3 L68.3,75.2 L65.9,75.7 L65.1,76.4 L65.0,76.9 Z" fill="#7a4890" stroke="#a46fa3" stroke-width="0.6"/>
<path d="M69.1,62.7 L69.0,63.7 L70.8,68.1 L71.4,68.7 L72.2,68.7 L77.1,67.3 L77.5,67.1 L77.9,66.6 L77.9,65.8 L75.8,59.5 L73.2,57.1 L72.4,57.0 L71.7,57.4 Z" fill="#7a4890" stroke="#a46fa3" stroke-width="0.6"/>
<path d="M71.3,40.6 L71.7,42.9 L74.4,46.6 L75.3,47.0 L76.2,46.5 L79.1,41.0 L79.0,40.4 L76.9,36.3 L76.2,36.0 L75.4,36.2 L71.6,39.9 Z" fill="#7e4b93" stroke="#a46fa3" stroke-width="0.6"/>
<path d="M71.2,94.5 L71.1,93.9 L70.7,93.3 L67.2,91.9 L66.3,92.3 L65.2,93.8 L65.0,94.4 L65.4,95.2 L66.2,95.6 L70.2,95.6 L70.9,95.2 Z" fill="#9762a1" stroke="#a46fa3" stroke-width="0.6"/>
<path d="M72.9,54.6 L72.8,55.3 L73.2,55.9 L75.6,58.0 L76.6,58.2 L81.6,55.0 L82.0,54.4 L82.4,52.1 L81.8,51.4 L76.7,48.5 L75.8,48.5 L75.1,49.1 Z" fill="#7a4890" stroke="#a46fa3" stroke-width="0.6"/>
<path d="M76.8,29.9 L77.3,30.4 L78.0,30.5 L82.1,29.6 L82.7,29.2 L83.0,28.4 L82.8,23.2 L82.3,22.3 L77.6,20.9 L77.0,21.0 L76.5,21.4 L76.2,21.9 L75.3,27.2 L75.5,27.8 Z" fill="#7a4890" stroke="#a46fa3" stroke-width="0.6"/>
<path d="M82.3,8.6 L83.2,8.5 L83.8,7.9 L84.4,4.3 L84.3,3.6 L81.2,-0.9 L80.5,-1.1 L78.5,-1.2 L77.8,-0.4 L76.2,5.3 L76.2,6.0 L76.8,6.7 Z" fill="#9762a1" stroke="#a46fa3" stroke-width="0.6"/>
<path d="M83.4,-2.6 L82.8,-2.4 L82.4,-2.0 L82.2,-1.0 L84.2,2.0 L84.8,2.3 L85.4,2.4 L85.9,2.1 L88.6,-0.5 L88.9,-1.0 L88.9,-1.9 L88.2,-2.5 Z" fill="#8e5a9b" stroke="#a46fa3" stroke-width="0.6"/>
<path d="M70.0,74.1 L70.0,74.8 L71.7,78.6 L72.5,79.1 L73.4,78.9 L77.0,75.4 L78.2,69.7 L78.1,68.8 L77.5,68.4 L76.8,68.3 L71.6,69.8 L71.1,70.4 Z" fill="#7e4b93" stroke="#a46fa3" stroke-width="0.6"/>
<path d="M77.5,18.4 L77.3,19.3 L77.9,20.1 L82.7,21.4 L83.5,21.1 L86.0,18.3 L86.3,17.6 L86.2,12.4 L86.0,11.8 L84.7,10.3 L83.7,10.0 L82.9,10.4 Z" fill="#935e9f" stroke="#a46fa3" stroke-width="0.6"/>
<path d="M66.9,90.2 L67.5,91.0 L71.4,92.6 L72.1,92.3 L74.2,90.3 L75.1,87.8 L75.1,87.1 L72.8,82.1 L72.4,81.6 L71.7,81.5 L71.0,81.7 L66.6,86.3 L66.4,87.1 Z" fill="#7e4b93" stroke="#a46fa3" stroke-width="0.6"/>
<path d="M77.0,34.1 L77.2,34.8 L79.5,39.4 L79.9,39.8 L80.9,40.0 L83.1,39.1 L83.5,38.7 L83.7,38.1 L83.9,31.6 L83.7,31.0 L83.3,30.6 L82.5,30.4 L77.9,31.4 L77.4,32.1 Z" fill="#7e4b93" stroke="#a46fa3" stroke-width="0.6"/>
<path d="M85.6,3.6 L85.2,4.3 L84.6,8.6 L84.8,9.1 L86.4,11.0 L87.0,11.2 L87.5,11.1 L92.9,9.0 L93.5,8.5 L93.9,6.9 L91.8,0.0 L91.3,-0.6 L90.7,-0.8 L89.9,-0.6 Z" fill="#9762a1" stroke="#a46fa3" stroke-width="0.6"/>
<path d="M73.8,91.9 L72.1,93.7 L72.1,94.6 L72.3,95.1 L72.9,95.5 L75.8,95.6 L76.5,95.2 L76.8,94.7 L76.6,93.7 L75.4,92.1 L74.9,91.8 Z" fill="#935e9f" stroke="#a46fa3" stroke-width="0.6"/>
<path d="M77.2,46.5 L77.1,47.3 L77.6,48.0 L82.5,50.8 L83.5,50.9 L85.8,49.4 L86.1,48.9 L87.1,42.9 L87.0,42.3 L86.6,41.8 L84.0,39.8 L83.5,39.9 L80.5,41.1 L79.9,41.6 Z" fill="#7a4890" stroke="#a46fa3" stroke-width="0.6"/>
<path d="M83.9,21.8 L83.6,22.7 L83.8,28.6 L84.1,29.4 L84.6,29.7 L85.3,29.8 L89.3,28.2 L89.7,27.6 L91.0,23.1 L91.0,22.5 L90.8,22.0 L87.6,19.4 L87.0,19.2 L86.1,19.5 Z" fill="#8e5a9b" stroke="#a46fa3" stroke-width="0.6"/>
<path d="M78.9,66.0 L79.3,66.5 L79.9,66.8 L81.9,66.3 L82.4,65.8 L83.3,63.5 L83.4,63.0 L82.2,57.4 L81.9,56.9 L81.4,56.6 L80.4,56.8 L77.3,58.8 L76.9,59.4 L76.9,60.1 Z" fill="#7e4b93" stroke="#a46fa3" stroke-width="0.6"/>
<path d="M78.0,75.0 L78.0,75.6 L78.3,76.0 L80.7,78.3 L81.2,78.6 L81.8,78.6 L84.8,77.7 L85.4,77.2 L85.6,76.5 L85.4,71.3 L82.5,67.5 L81.8,67.3 L80.3,67.6 L79.5,68.2 Z" fill="#7e4b93" stroke="#a46fa3" stroke-width="0.6"/>
<path d="M75.3,85.5 L75.7,85.9 L76.2,86.2 L76.8,86.1 L77.3,85.8 L80.3,80.0 L80.3,79.4 L80.0,78.9 L78.2,77.1 L77.7,76.8 L77.2,76.8 L76.7,77.0 L73.6,79.9 L73.3,80.5 L73.3,81.1 Z" fill="#7e4b93" stroke="#a46fa3" stroke-width="0.6"/>
<path d="M82.7,54.9 L83.8,60.7 L84.5,61.4 L85.0,61.5 L85.6,61.3 L89.3,58.2 L89.6,57.7 L89.5,53.4 L87.2,50.7 L86.7,50.4 L85.7,50.4 L83.6,51.9 Z" fill="#935e9f" stroke="#a46fa3" stroke-width="0.6"/>
<path d="M84.5,38.4 L85.0,39.3 L87.1,41.1 L87.7,41.3 L88.4,41.1 L91.9,38.6 L92.0,38.1 L92.1,33.5 L90.2,29.9 L89.7,29.4 L88.7,29.4 L85.4,30.7 L84.9,31.2 L84.7,31.7 Z" fill="#8e5a9b" stroke="#a46fa3" stroke-width="0.6"/>
<path d="M76.5,87.4 L75.9,88.1 L75.3,89.9 L75.4,90.7 L78.8,95.2 L79.5,95.6 L80.2,95.5 L80.8,94.9 L83.2,90.0 L83.2,89.0 L82.5,88.3 L77.9,87.1 L77.3,87.0 Z" fill="#7a4890" stroke="#a46fa3" stroke-width="0.6"/>
<path d="M87.2,17.4 L87.5,18.2 L91.3,21.3 L92.2,21.4 L93.7,20.6 L94.0,19.9 L94.6,16.7 L94.6,12.4 L93.7,10.4 L93.2,10.1 L92.5,10.1 L87.4,12.2 L87.1,12.9 Z" fill="#9762a1" stroke="#a46fa3" stroke-width="0.6"/>
<path d="M78.7,84.9 L78.7,85.9 L79.5,86.6 L84.1,87.9 L84.7,87.8 L85.9,87.1 L86.4,86.4 L87.3,80.9 L87.2,80.3 L86.3,78.9 L85.9,78.5 L85.2,78.4 L81.5,79.7 Z" fill="#7e4b93" stroke="#a46fa3" stroke-width="0.6"/>
<path d="M87.1,48.7 L87.4,49.7 L89.4,51.9 L90.1,52.2 L90.9,52.0 L94.3,49.4 L94.6,48.7 L94.6,41.3 L94.2,40.4 L92.8,39.7 L92.1,39.7 L88.2,42.2 L87.9,42.9 Z" fill="#9762a1" stroke="#a46fa3" stroke-width="0.6"/>
<path d="M83.3,66.0 L83.2,66.5 L83.4,67.1 L85.4,69.7 L86.1,70.1 L86.8,69.9 L92.0,67.0 L92.5,66.6 L92.7,66.1 L92.4,61.3 L92.2,60.7 L90.6,59.1 L90.1,59.0 L89.5,59.1 L84.4,63.5 Z" fill="#76448d" stroke="#a46fa3" stroke-width="0.6"/>
<path d="M90.5,27.9 L90.5,28.7 L92.2,31.7 L93.1,32.0 L94.2,31.3 L94.6,30.5 L94.6,23.1 L94.4,22.6 L94.0,22.1 L93.1,22.0 L92.0,22.7 Z" fill="#9762a1" stroke="#a46fa3" stroke-width="0.6"/>
<path d="M82.2,93.9 L82.2,94.9 L82.6,95.3 L83.1,95.6 L87.1,95.6 L87.9,95.2 L88.2,94.5 L88.3,90.8 L86.8,88.5 L85.8,88.2 L84.7,88.8 Z" fill="#7e4b93" stroke="#a46fa3" stroke-width="0.6"/>
<path d="M86.3,72.0 L86.6,77.7 L87.6,79.3 L88.3,79.8 L88.9,79.7 L92.7,78.4 L93.3,78.0 L93.5,77.4 L94.6,70.9 L94.5,69.1 L93.6,68.0 L93.0,67.7 L92.4,67.8 L86.5,71.2 Z" fill="#7a4890" stroke="#a46fa3" stroke-width="0.6"/>
<path d="M90.6,57.3 L90.8,58.0 L92.6,59.6 L93.5,59.7 L94.4,59.0 L94.6,58.3 L94.6,52.7 L94.4,52.1 L94.0,51.7 L93.5,51.5 L92.9,51.6 L90.6,53.3 L90.4,53.9 Z" fill="#8e5a9b" stroke="#a46fa3" stroke-width="0.6"/>
<path d="M87.2,86.7 L87.3,87.6 L88.5,89.5 L89.1,89.9 L89.7,89.9 L93.6,89.1 L94.2,88.7 L94.6,87.9 L94.6,80.3 L94.2,79.4 L93.7,79.1 L93.1,79.1 L88.9,80.6 L88.4,80.9 L88.1,81.5 Z" fill="#76448d" stroke="#a46fa3" stroke-width="0.6"/>
<path d="M90.0,90.7 L89.4,91.1 L89.1,91.7 L89.0,94.5 L89.4,95.2 L90.2,95.6 L93.5,95.6 L94.2,95.2 L94.6,94.5 L94.6,91.2 L94.2,90.3 L93.2,90.0 Z" fill="#7e4b93" stroke="#a46fa3" stroke-width="0.6"/>
<g opacity="0.5">
<circle cx="58.1" cy="40.5" r="0.5" fill="#b286b0"/>
<circle cx="60.5" cy="27.1" r="0.6" fill="#b286b0"/>
<circle cx="32.3" cy="43.6" r="0.4" fill="#6e4088"/>
<circle cx="20.4" cy="40.3" r="0.5" fill="#b286b0"/>
<circle cx="70.4" cy="5.3" r="0.5" fill="#6e4088"/>
<circle cx="44.3" cy="31.9" r="0.4" fill="#b286b0"/>
<circle cx="68.0" cy="43.1" r="0.6" fill="#a77aa8"/>
<circle cx="58.3" cy="58.7" r="0.8" fill="#7c4c93"/>
<circle cx="62.6" cy="4.9" r="0.6" fill="#6e4088"/>
<circle cx="65.1" cy="41.3" r="0.6" fill="#b286b0"/>
<circle cx="28.6" cy="73.0" r="0.7" fill="#b286b0"/>
<circle cx="19.5" cy="91.9" r="0.5" fill="#6e4088"/>
<circle cx="67.3" cy="90.5" r="0.5" fill="#7c4c93"/>
<circle cx="26.2" cy="58.3" r="0.6" fill="#7c4c93"/>
<circle cx="72.8" cy="13.8" r="0.4" fill="#6e4088"/>
<circle cx="10.3" cy="38.4" r="0.5" fill="#7c4c93"/>
<circle cx="61.7" cy="26.8" r="0.6" fill="#b286b0"/>
<circle cx="14.4" cy="64.5" r="0.6" fill="#7c4c93"/>
<circle cx="36.3" cy="31.7" r="0.6" fill="#a77aa8"/>
<circle cx="56.1" cy="32.6" r="0.5" fill="#a77aa8"/>
<circle cx="37.4" cy="89.1" r="0.7" fill="#a77aa8"/>
<circle cx="8.7" cy="85.3" r="0.6" fill="#b286b0"/>
<circle cx="44.1" cy="86.4" r="0.5" fill="#7c4c93"/>
<circle cx="28.0" cy="24.2" r="0.5" fill="#a77aa8"/>
<circle cx="5.0" cy="29.0" r="0.5" fill="#a77aa8"/>
<circle cx="55.8" cy="2.0" r="0.5" fill="#6e4088"/>
<circle cx="36.2" cy="20.0" r="0.4" fill="#7c4c93"/>
<circle cx="33.0" cy="18.1" r="0.4" fill="#b286b0"/>
<circle cx="36.7" cy="71.9" r="0.7" fill="#a77aa8"/>
<circle cx="34.4" cy="81.1" r="0.5" fill="#a77aa8"/>
<circle cx="15.2" cy="78.9" r="0.7" fill="#b286b0"/>
<circle cx="42.8" cy="32.7" r="0.4" fill="#a77aa8"/>
<circle cx="42.6" cy="30.9" r="0.6" fill="#b286b0"/>
<circle cx="32.1" cy="46.5" r="0.4" fill="#b286b0"/>
<circle cx="29.7" cy="18.9" r="0.5" fill="#7c4c93"/>
<circle cx="6.5" cy="56.4" r="0.8" fill="#a77aa8"/>
<circle cx="34.7" cy="80.7" r="0.7" fill="#7c4c93"/>
<circle cx="11.3" cy="77.5" r="0.7" fill="#a77aa8"/>
<circle cx="24.3" cy="0.5" r="0.4" fill="#6e4088"/>
<circle cx="11.9" cy="70.5" r="0.7" fill="#6e4088"/>
<circle cx="68.0" cy="10.0" r="0.7" fill="#7c4c93"/>
<circle cx="33.4" cy="48.9" r="0.4" fill="#b286b0"/>
<circle cx="11.2" cy="91.8" r="0.4" fill="#b286b0"/>
<circle cx="48.2" cy="47.5" r="0.8" fill="#6e4088"/>
<circle cx="28.4" cy="10.6" r="0.5" fill="#6e4088"/>
<circle cx="48.7" cy="3.6" r="0.8" fill="#a77aa8"/>
<circle cx="8.3" cy="30.1" r="0.6" fill="#b286b0"/>
<circle cx="63.0" cy="39.9" r="0.6" fill="#6e4088"/>
<circle cx="49.4" cy="69.3" r="0.5" fill="#6e4088"/>
<circle cx="4.4" cy="7.8" r="0.7" fill="#a77aa8"/>
<circle cx="8.8" cy="35.5" r="0.6" fill="#7c4c93"/>
<circle cx="69.3" cy="33.7" r="0.4" fill="#6e4088"/>
<circle cx="39.9" cy="87.3" r="0.6" fill="#7c4c93"/>
<circle cx="37.0" cy="79.6" r="0.6" fill="#6e4088"/>
<circle cx="12.7" cy="81.9" r="0.7" fill="#b286b0"/>
<circle cx="30.9" cy="18.9" r="0.4" fill="#7c4c93"/>
<circle cx="50.5" cy="56.7" r="0.8" fill="#6e4088"/>
<circle cx="14.5" cy="85.4" r="0.4" fill="#a77aa8"/>
<circle cx="20.8" cy="90.1" r="0.8" fill="#a77aa8"/>
<circle cx="37.1" cy="31.1" r="0.5" fill="#6e4088"/>
<circle cx="68.5" cy="70.9" r="0.5" fill="#7c4c93"/>
<circle cx="0.7" cy="10.2" r="0.4" fill="#b286b0"/>
<circle cx="2.1" cy="8.5" r="0.7" fill="#6e4088"/>
<circle cx="10.6" cy="24.5" r="0.8" fill="#7c4c93"/>
<circle cx="39.8" cy="5.9" r="0.6" fill="#6e4088"/>
<circle cx="67.5" cy="21.0" r="0.7" fill="#7c4c93"/>
<circle cx="5.6" cy="66.4" r="0.4" fill="#7c4c93"/>
<circle cx="43.6" cy="20.2" r="0.5" fill="#6e4088"/>
<circle cx="2.9" cy="33.4" r="0.7" fill="#a77aa8"/>
<circle cx="66.5" cy="35.3" r="0.5" fill="#7c4c93"/>
<circle cx="72.7" cy="11.3" r="0.7" fill="#7c4c93"/>
<circle cx="48.4" cy="60.2" r="0.8" fill="#6e4088"/>
<circle cx="9.4" cy="63.6" r="0.4" fill="#a77aa8"/>
<circle cx="20.1" cy="0.1" r="0.7" fill="#6e4088"/>
<circle cx="11.1" cy="21.7" r="0.7" fill="#a77aa8"/>
<circle cx="35.1" cy="17.3" r="0.4" fill="#b286b0"/>
<circle cx="67.7" cy="74.9" r="0.7" fill="#a77aa8"/>
<circle cx="6.1" cy="33.5" r="0.4" fill="#a77aa8"/>
<circle cx="41.7" cy="33.0" r="0.7" fill="#b286b0"/>
<circle cx="50.6" cy="66.5" r="0.5" fill="#7c4c93"/>
<circle cx="1.4" cy="31.0" r="0.5" fill="#b286b0"/>
<circle cx="14.7" cy="2.1" r="0.6" fill="#a77aa8"/>
<circle cx="52.1" cy="82.5" r="0.4" fill="#7c4c93"/>
<circle cx="18.5" cy="18.4" r="0.6" fill="#a77aa8"/>
<circle cx="0.7" cy="59.8" r="0.6" fill="#6e4088"/>
<circle cx="9.4" cy="42.7" r="0.4" fill="#a77aa8"/>
<circle cx="13.4" cy="92.4" r="0.8" fill="#a77aa8"/>
<circle cx="52.8" cy="56.8" r="0.4" fill="#a77aa8"/>
<circle cx="21.0" cy="36.0" r="0.4" fill="#7c4c93"/>
<circle cx="0.5" cy="72.8" r="0.4" fill="#7c4c93"/>
<circle cx="13.1" cy="32.0" r="0.7" fill="#7c4c93"/>
<circle cx="47.7" cy="58.7" r="0.7" fill="#b286b0"/>
<circle cx="10.3" cy="60.8" r="0.7" fill="#6e4088"/>
<circle cx="60.6" cy="76.0" r="0.6" fill="#7c4c93"/>
<circle cx="11.0" cy="24.9" r="0.7" fill="#a77aa8"/>
<circle cx="47.9" cy="33.0" r="0.5" fill="#a77aa8"/>
<circle cx="15.0" cy="38.6" r="0.6" fill="#a77aa8"/>
<circle cx="61.5" cy="70.3" r="0.7" fill="#a77aa8"/>
<circle cx="56.6" cy="58.0" r="0.6" fill="#6e4088"/>
<circle cx="58.9" cy="92.4" r="0.5" fill="#b286b0"/>
<circle cx="72.7" cy="19.8" r="0.5" fill="#7c4c93"/>
<circle cx="5.3" cy="91.7" r="0.8" fill="#a77aa8"/>
<circle cx="19.2" cy="18.5" r="0.4" fill="#7c4c93"/>
<circle cx="37.8" cy="0.7" r="0.6" fill="#b286b0"/>
<circle cx="48.9" cy="51.7" r="0.8" fill="#6e4088"/>
<circle cx="16.5" cy="1.4" r="0.5" fill="#7c4c93"/>
<circle cx="18.1" cy="37.4" r="0.6" fill="#b286b0"/>
<circle cx="7.9" cy="25.9" r="0.6" fill="#a77aa8"/>
<circle cx="48.3" cy="41.6" r="0.5" fill="#b286b0"/>
<circle cx="28.3" cy="40.7" r="0.6" fill="#a77aa8"/>
<circle cx="56.5" cy="34.4" r="0.4" fill="#a77aa8"/>
<circle cx="60.1" cy="26.7" r="0.6" fill="#b286b0"/>
<circle cx="11.6" cy="25.9" r="0.5" fill="#a77aa8"/>
<circle cx="8.8" cy="74.6" r="0.6" fill="#a77aa8"/>
<circle cx="74.4" cy="91.2" r="0.4" fill="#b286b0"/>
<circle cx="66.4" cy="82.8" r="0.8" fill="#6e4088"/>
<circle cx="28.8" cy="51.4" r="0.4" fill="#a77aa8"/>
<circle cx="19.8" cy="67.5" r="0.6" fill="#6e4088"/>
<circle cx="66.9" cy="22.1" r="0.5" fill="#b286b0"/>
<circle cx="40.6" cy="56.7" r="0.6" fill="#6e4088"/>
<circle cx="29.4" cy="20.7" r="0.7" fill="#6e4088"/>
<circle cx="35.5" cy="36.9" r="0.5" fill="#a77aa8"/>
<circle cx="61.6" cy="89.2" r="0.6" fill="#7c4c93"/>
<circle cx="24.6" cy="68.2" r="0.7" fill="#a77aa8"/>
<circle cx="17.1" cy="42.3" r="0.4" fill="#7c4c93"/>
<circle cx="14.8" cy="47.7" r="0.7" fill="#a77aa8"/>
<circle cx="3.7" cy="30.9" r="0.7" fill="#b286b0"/>
<circle cx="47.3" cy="1.0" r="0.5" fill="#b286b0"/>
<circle cx="20.5" cy="21.7" r="0.5" fill="#7c4c93"/>
<circle cx="50.5" cy="69.8" r="0.7" fill="#7c4c93"/>
<circle cx="11.4" cy="69.7" r="0.6" fill="#a77aa8"/>
<circle cx="11.7" cy="92.5" r="0.7" fill="#6e4088"/>
<circle cx="63.3" cy="29.5" r="0.6" fill="#6e4088"/>
<circle cx="6.5" cy="82.0" r="0.5" fill="#b286b0"/>
<circle cx="52.7" cy="45.0" r="0.7" fill="#a77aa8"/>
<circle cx="46.3" cy="89.5" r="0.7" fill="#6e4088"/>
<circle cx="46.3" cy="48.0" r="0.6" fill="#b286b0"/>
<circle cx="9.2" cy="65.6" r="0.7" fill="#a77aa8"/>
<circle cx="19.2" cy="77.6" r="0.5" fill="#b286b0"/>
<circle cx="34.4" cy="4.6" r="0.5" fill="#a77aa8"/>
<circle cx="28.1" cy="14.6" r="0.5" fill="#a77aa8"/>
<circle cx="50.1" cy="83.2" r="0.7" fill="#b286b0"/>
<circle cx="31.4" cy="31.2" r="0.6" fill="#7c4c93"/>
<circle cx="7.6" cy="31.7" r="0.7" fill="#7c4c93"/>
<circle cx="20.7" cy="49.1" r="0.5" fill="#6e4088"/>
<circle cx="58.1" cy="50.2" r="0.5" fill="#6e4088"/>
<circle cx="22.5" cy="37.5" r="0.4" fill="#6e4088"/>
<circle cx="26.2" cy="62.6" r="0.6" fill="#b286b0"/>
<circle cx="7.3" cy="73.5" r="0.6" fill="#6e4088"/>
<circle cx="24.3" cy="65.6" r="0.4" fill="#b286b0"/>
<circle cx="21.5" cy="17.0" r="0.8" fill="#7c4c93"/>
<circle cx="75.5" cy="57.9" r="0.5" fill="#a77aa8"/>
<circle cx="31.0" cy="44.0" r="0.4" fill="#b286b0"/>
<circle cx="64.3" cy="31.1" r="0.6" fill="#7c4c93"/>
<circle cx="15.3" cy="87.0" r="0.5" fill="#7c4c93"/>
<circle cx="18.4" cy="46.3" r="0.7" fill="#6e4088"/>
<circle cx="43.8" cy="63.6" r="0.6" fill="#7c4c93"/>
<circle cx="32.7" cy="83.9" r="0.6" fill="#7c4c93"/>
<circle cx="5.9" cy="88.2" r="0.4" fill="#b286b0"/>
<circle cx="20.7" cy="32.0" r="0.8" fill="#6e4088"/>
<circle cx="39.0" cy="79.1" r="0.5" fill="#6e4088"/>
<circle cx="37.1" cy="81.2" r="0.7" fill="#6e4088"/>
<circle cx="44.9" cy="76.9" r="0.8" fill="#a77aa8"/>
<circle cx="11.7" cy="27.5" r="0.5" fill="#6e4088"/>
<circle cx="71.3" cy="19.5" r="0.6" fill="#a77aa8"/>
<circle cx="46.8" cy="81.4" r="0.8" fill="#7c4c93"/>
<circle cx="1.1" cy="65.7" r="0.6" fill="#7c4c93"/>
<circle cx="32.2" cy="86.5" r="0.4" fill="#6e4088"/>
<circle cx="35.1" cy="8.4" r="0.7" fill="#6e4088"/>
<circle cx="73.7" cy="61.0" r="0.7" fill="#a77aa8"/>
<circle cx="17.3" cy="90.5" r="0.4" fill="#a77aa8"/>
<circle cx="31.1" cy="22.0" r="0.5" fill="#6e4088"/>
<circle cx="69.0" cy="43.9" r="0.7" fill="#7c4c93"/>
<circle cx="5.4" cy="42.3" r="0.5" fill="#7c4c93"/>
<circle cx="59.7" cy="64.9" r="0.8" fill="#6e4088"/>
<circle cx="62.5" cy="20.6" r="0.4" fill="#6e4088"/>
<circle cx="69.9" cy="89.5" r="0.7" fill="#7c4c93"/>
<circle cx="14.1" cy="79.3" r="0.6" fill="#6e4088"/>
<circle cx="15.4" cy="41.4" r="0.5" fill="#b286b0"/>
<circle cx="19.6" cy="50.0" r="0.6" fill="#7c4c93"/>
<circle cx="1.0" cy="80.3" r="0.7" fill="#a77aa8"/>
<circle cx="62.5" cy="28.5" r="0.4" fill="#b286b0"/>
<circle cx="42.6" cy="79.0" r="0.7" fill="#6e4088"/>
<circle cx="63.1" cy="64.5" r="0.7" fill="#b286b0"/>
<circle cx="25.2" cy="22.4" r="0.7" fill="#a77aa8"/>
<circle cx="63.2" cy="41.2" r="0.7" fill="#7c4c93"/>
<circle cx="50.2" cy="1.6" r="0.6" fill="#a77aa8"/>
<circle cx="63.9" cy="35.0" r="0.5" fill="#b286b0"/>
<circle cx="11.1" cy="66.8" r="0.4" fill="#6e4088"/>
<circle cx="70.2" cy="90.5" r="0.5" fill="#b286b0"/>
<circle cx="34.5" cy="29.7" r="0.4" fill="#6e4088"/>
<circle cx="31.6" cy="32.6" r="0.4" fill="#7c4c93"/>
<circle cx="23.7" cy="47.3" r="0.8" fill="#b286b0"/>
<circle cx="52.1" cy="62.2" r="0.4" fill="#a77aa8"/>
<circle cx="21.5" cy="86.9" r="0.5" fill="#b286b0"/>
<circle cx="22.9" cy="60.8" r="0.5" fill="#7c4c93"/>
<circle cx="23.3" cy="23.1" r="0.5" fill="#6e4088"/>
<circle cx="13.9" cy="14.9" r="0.4" fill="#7c4c93"/>
<circle cx="65.0" cy="13.4" r="0.8" fill="#6e4088"/>
<circle cx="34.4" cy="78.7" r="0.6" fill="#a77aa8"/>
<circle cx="13.6" cy="52.0" r="0.7" fill="#7c4c93"/>
<circle cx="43.2" cy="82.6" r="0.6" fill="#7c4c93"/>
<circle cx="2.7" cy="91.4" r="0.5" fill="#b286b0"/>
<circle cx="72.8" cy="52.7" r="0.4" fill="#a77aa8"/>
<circle cx="2.7" cy="32.3" r="0.6" fill="#b286b0"/>
<circle cx="27.0" cy="41.5" r="0.4" fill="#b286b0"/>
<circle cx="61.5" cy="63.7" r="0.6" fill="#b286b0"/>
<circle cx="8.7" cy="37.6" r="0.4" fill="#b286b0"/>
<circle cx="34.7" cy="38.5" r="0.7" fill="#b286b0"/>
<circle cx="55.2" cy="89.5" r="0.4" fill="#7c4c93"/>
<circle cx="5.0" cy="58.7" r="0.6" fill="#b286b0"/>
<circle cx="62.8" cy="41.8" r="0.8" fill="#7c4c93"/>
<circle cx="53.5" cy="72.9" r="0.5" fill="#b286b0"/>
<circle cx="2.0" cy="86.6" r="0.6" fill="#7c4c93"/>
<circle cx="36.5" cy="81.5" r="0.5" fill="#7c4c93"/>
<circle cx="71.5" cy="79.9" r="0.4" fill="#6e4088"/>
<circle cx="29.9" cy="54.3" r="0.4" fill="#7c4c93"/>
<circle cx="20.9" cy="8.3" r="0.7" fill="#a77aa8"/>
<circle cx="16.8" cy="50.6" r="0.5" fill="#b286b0"/>
<circle cx="18.6" cy="15.1" r="0.5" fill="#7c4c93"/>
<circle cx="49.6" cy="43.2" r="0.8" fill="#a77aa8"/>
<circle cx="61.4" cy="53.1" r="0.6" fill="#b286b0"/>
<circle cx="28.2" cy="42.3" r="0.4" fill="#6e4088"/>
<circle cx="40.5" cy="36.5" r="0.5" fill="#6e4088"/>
<circle cx="40.4" cy="26.8" r="0.6" fill="#b286b0"/>
<circle cx="46.6" cy="58.5" r="0.7" fill="#a77aa8"/>
<circle cx="61.8" cy="62.5" r="0.6" fill="#a77aa8"/>
<circle cx="26.7" cy="53.7" r="0.8" fill="#7c4c93"/>
<circle cx="9.1" cy="86.1" r="0.8" fill="#6e4088"/>
<circle cx="4.6" cy="71.4" r="0.8" fill="#6e4088"/>
<circle cx="23.1" cy="48.4" r="0.7" fill="#a77aa8"/>
<circle cx="64.0" cy="7.2" r="0.8" fill="#6e4088"/>
<circle cx="24.8" cy="10.4" r="0.7" fill="#a77aa8"/>
<circle cx="37.1" cy="3.4" r="0.4" fill="#6e4088"/>
<circle cx="73.7" cy="75.8" r="0.6" fill="#b286b0"/>
<circle cx="44.3" cy="49.7" r="0.8" fill="#7c4c93"/>
<circle cx="13.9" cy="70.3" r="0.4" fill="#a77aa8"/>
<circle cx="64.6" cy="11.4" r="0.8" fill="#a77aa8"/>
<circle cx="3.2" cy="30.4" r="0.6" fill="#7c4c93"/>
<circle cx="33.9" cy="0.7" r="0.6" fill="#a77aa8"/>
<circle cx="72.9" cy="74.1" r="0.7" fill="#a77aa8"/>
<circle cx="14.5" cy="36.3" r="0.6" fill="#a77aa8"/>
<circle cx="66.7" cy="73.8" r="0.5" fill="#a77aa8"/>
<circle cx="17.4" cy="81.5" r="0.4" fill="#b286b0"/>
<circle cx="72.5" cy="13.4" r="0.6" fill="#7c4c93"/>
<circle cx="19.1" cy="9.1" r="0.7" fill="#b286b0"/>
<circle cx="8.2" cy="69.3" r="0.4" fill="#6e4088"/>
<circle cx="35.9" cy="81.1" r="0.6" fill="#a77aa8"/>
<circle cx="31.4" cy="42.9" r="0.4" fill="#7c4c93"/>
<circle cx="9.7" cy="54.3" r="0.8" fill="#6e4088"/>
<circle cx="54.7" cy="69.3" r="0.6" fill="#b286b0"/>
<circle cx="50.6" cy="74.5" r="0.6" fill="#7c4c93"/>
<circle cx="41.8" cy="34.9" r="0.5" fill="#b286b0"/>
<circle cx="7.7" cy="37.3" r="0.8" fill="#6e4088"/>
<circle cx="17.8" cy="76.3" r="0.7" fill="#7c4c93"/>
<circle cx="58.9" cy="16.8" r="0.5" fill="#b286b0"/>
<circle cx="6.2" cy="32.2" r="0.8" fill="#b286b0"/>
<circle cx="24.3" cy="31.3" r="0.5" fill="#a77aa8"/>
<circle cx="44.4" cy="51.9" r="0.6" fill="#b286b0"/>
<circle cx="40.7" cy="48.0" r="0.5" fill="#6e4088"/>
<circle cx="30.7" cy="25.4" r="0.7" fill="#6e4088"/>
<circle cx="5.3" cy="87.6" r="0.4" fill="#6e4088"/>
<circle cx="57.9" cy="22.9" r="0.7" fill="#6e4088"/>
<circle cx="72.3" cy="43.9" r="0.6" fill="#a77aa8"/>
<circle cx="0.4" cy="63.7" r="0.5" fill="#6e4088"/>
<circle cx="64.7" cy="71.7" r="0.8" fill="#7c4c93"/>
<circle cx="2.6" cy="50.6" r="0.5" fill="#a77aa8"/>
<circle cx="75.7" cy="32.6" r="0.5" fill="#b286b0"/>
<circle cx="27.0" cy="41.4" r="0.4" fill="#a77aa8"/>
<circle cx="69.0" cy="36.7" r="0.5" fill="#b286b0"/>
<circle cx="64.2" cy="23.7" r="0.7" fill="#6e4088"/>
<circle cx="43.0" cy="77.9" r="0.8" fill="#b286b0"/>
<circle cx="50.4" cy="50.3" r="0.4" fill="#7c4c93"/>
<circle cx="73.4" cy="60.3" r="0.6" fill="#a77aa8"/>
<circle cx="9.9" cy="62.7" r="0.8" fill="#b286b0"/>
<circle cx="50.7" cy="49.6" r="0.8" fill="#a77aa8"/>
<circle cx="44.4" cy="77.1" r="0.6" fill="#b286b0"/>
<circle cx="64.5" cy="0.5" r="0.8" fill="#6e4088"/>
<circle cx="30.8" cy="57.4" r="0.6" fill="#a77aa8"/>
<circle cx="47.6" cy="36.8" r="0.7" fill="#6e4088"/>
<circle cx="70.3" cy="35.9" r="0.6" fill="#6e4088"/>
<circle cx="66.7" cy="53.7" r="0.8" fill="#6e4088"/>
<circle cx="29.8" cy="85.5" r="0.4" fill="#6e4088"/>
<circle cx="54.9" cy="39.9" r="0.5" fill="#a77aa8"/>
<circle cx="10.0" cy="71.7" r="0.6" fill="#6e4088"/>
<circle cx="22.7" cy="3.7" r="0.5" fill="#6e4088"/>
<circle cx="20.2" cy="5.1" r="0.7" fill="#a77aa8"/>
<circle cx="75.2" cy="42.2" r="0.5" fill="#7c4c93"/>
<circle cx="70.4" cy="79.7" r="0.4" fill="#b286b0"/>
<circle cx="30.6" cy="5.7" r="0.5" fill="#a77aa8"/>
<circle cx="8.0" cy="67.3" r="0.5" fill="#7c4c93"/>
<circle cx="22.6" cy="85.6" r="0.6" fill="#b286b0"/>
<circle cx="62.0" cy="67.0" r="0.4" fill="#7c4c93"/>
<circle cx="22.0" cy="8.8" r="0.5" fill="#6e4088"/>
<circle cx="30.8" cy="87.5" r="0.6" fill="#a77aa8"/>
<circle cx="71.7" cy="36.3" r="0.6" fill="#b286b0"/>
<circle cx="71.9" cy="12.1" r="0.6" fill="#6e4088"/>
<circle cx="48.7" cy="65.5" r="0.5" fill="#6e4088"/>
<circle cx="44.7" cy="15.7" r="0.6" fill="#a77aa8"/>
<circle cx="18.1" cy="48.1" r="0.5" fill="#a77aa8"/>
<circle cx="44.3" cy="7.4" r="0.7" fill="#b286b0"/>
<circle cx="71.8" cy="71.2" r="0.5" fill="#6e4088"/>
<circle cx="68.4" cy="58.9" r="0.6" fill="#6e4088"/>
<circle cx="11.2" cy="11.1" r="0.6" fill="#a77aa8"/>
<circle cx="2.1" cy="25.6" r="0.5" fill="#7c4c93"/>
<circle cx="28.3" cy="11.1" r="0.5" fill="#a77aa8"/>
<circle cx="9.2" cy="29.9" r="0.6" fill="#b286b0"/>
<circle cx="9.0" cy="66.3" r="0.7" fill="#a77aa8"/>
<circle cx="25.7" cy="52.6" r="0.7" fill="#b286b0"/>
<circle cx="32.0" cy="86.2" r="0.8" fill="#7c4c93"/>
<circle cx="13.4" cy="17.0" r="0.8" fill="#b286b0"/>
<circle cx="18.2" cy="56.6" r="0.4" fill="#b286b0"/>
<circle cx="67.1" cy="78.8" r="0.6" fill="#b286b0"/>
<circle cx="62.6" cy="60.5" r="0.7" fill="#6e4088"/>
<circle cx="29.8" cy="40.2" r="0.7" fill="#6e4088"/>
<circle cx="73.9" cy="11.5" r="0.6" fill="#b286b0"/>
<circle cx="6.6" cy="37.7" r="0.4" fill="#7c4c93"/>
<circle cx="21.8" cy="24.1" r="0.8" fill="#6e4088"/>
<circle cx="34.9" cy="52.5" r="0.6" fill="#a77aa8"/>
<circle cx="32.9" cy="55.4" r="0.8" fill="#a77aa8"/>
<circle cx="53.1" cy="59.6" r="0.4" fill="#6e4088"/>
<circle cx="37.8" cy="30.1" r="0.6" fill="#a77aa8"/>
<circle cx="18.4" cy="65.8" r="0.6" fill="#b286b0"/>
<circle cx="50.2" cy="76.8" r="0.7" fill="#a77aa8"/>
<circle cx="16.3" cy="65.5" r="0.4" fill="#b286b0"/>
<circle cx="39.0" cy="9.7" r="0.7" fill="#7c4c93"/>
<circle cx="40.0" cy="88.2" r="0.5" fill="#6e4088"/>
<circle cx="54.9" cy="48.5" r="0.5" fill="#a77aa8"/>
<circle cx="9.8" cy="90.9" r="0.4" fill="#a77aa8"/>
<circle cx="23.3" cy="41.7" r="0.8" fill="#6e4088"/>
<circle cx="54.0" cy="45.6" r="0.5" fill="#7c4c93"/>
<circle cx="55.5" cy="45.7" r="0.7" fill="#7c4c93"/>
<circle cx="66.4" cy="17.1" r="0.4" fill="#6e4088"/>
<circle cx="16.3" cy="55.0" r="0.8" fill="#6e4088"/>
<circle cx="11.9" cy="22.0" r="0.7" fill="#a77aa8"/>
<circle cx="63.7" cy="56.6" r="0.7" fill="#7c4c93"/>
<circle cx="38.9" cy="48.0" r="0.7" fill="#a77aa8"/>
<circle cx="75.2" cy="10.7" r="0.7" fill="#7c4c93"/>
<circle cx="18.3" cy="78.4" r="0.6" fill="#7c4c93"/>
<circle cx="8.8" cy="60.7" r="0.7" fill="#b286b0"/>
<circle cx="74.9" cy="36.0" r="0.7" fill="#7c4c93"/>
<circle cx="24.1" cy="7.9" r="0.5" fill="#a77aa8"/>
<circle cx="41.7" cy="39.6" r="0.6" fill="#a77aa8"/>
<circle cx="36.7" cy="22.4" r="0.4" fill="#a77aa8"/>
<circle cx="68.2" cy="40.8" r="0.6" fill="#b286b0"/>
<circle cx="34.9" cy="90.7" r="0.5" fill="#6e4088"/>
<circle cx="50.9" cy="76.7" r="0.8" fill="#6e4088"/>
<circle cx="60.3" cy="23.7" r="0.6" fill="#7c4c93"/>
<circle cx="46.4" cy="37.4" r="0.6" fill="#a77aa8"/>
<circle cx="31.5" cy="83.4" r="0.7" fill="#6e4088"/>
<circle cx="61.8" cy="23.1" r="0.8" fill="#6e4088"/>
<circle cx="2.7" cy="41.9" r="0.5" fill="#b286b0"/>
<circle cx="67.8" cy="34.1" r="0.4" fill="#b286b0"/>
<circle cx="21.9" cy="32.4" r="0.4" fill="#b286b0"/>
<circle cx="43.0" cy="4.1" r="0.4" fill="#a77aa8"/>
<circle cx="68.0" cy="21.8" r="0.8" fill="#b286b0"/>
<circle cx="14.8" cy="52.2" r="0.4" fill="#7c4c93"/>
<circle cx="9.1" cy="89.0" r="0.7" fill="#7c4c93"/>
<circle cx="47.8" cy="36.1" r="0.4" fill="#6e4088"/>
<circle cx="73.1" cy="57.6" r="0.4" fill="#7c4c93"/>
<circle cx="70.5" cy="75.9" r="0.5" fill="#7c4c93"/>
<circle cx="34.0" cy="16.7" r="0.5" fill="#7c4c93"/>
<circle cx="24.8" cy="42.3" r="0.7" fill="#6e4088"/>
<circle cx="32.4" cy="47.8" r="0.6" fill="#6e4088"/>
<circle cx="19.7" cy="80.1" r="0.5" fill="#6e4088"/>
<circle cx="29.2" cy="44.6" r="0.7" fill="#6e4088"/>
<circle cx="10.7" cy="25.5" r="0.5" fill="#6e4088"/>
<circle cx="35.0" cy="23.6" r="0.5" fill="#6e4088"/>
<circle cx="24.4" cy="92.8" r="0.7" fill="#6e4088"/>
<circle cx="75.3" cy="69.4" r="0.7" fill="#6e4088"/>
<circle cx="12.6" cy="19.6" r="0.7" fill="#a77aa8"/>
<circle cx="13.4" cy="62.5" r="0.4" fill="#6e4088"/>
<circle cx="45.3" cy="20.3" r="0.4" fill="#a77aa8"/>
<circle cx="65.7" cy="33.0" r="0.4" fill="#b286b0"/>
<circle cx="17.8" cy="53.7" r="0.4" fill="#7c4c93"/>
<circle cx="12.4" cy="66.4" r="0.5" fill="#b286b0"/>
<circle cx="45.7" cy="87.8" r="0.7" fill="#6e4088"/>
<circle cx="54.8" cy="53.7" r="0.5" fill="#6e4088"/>
<circle cx="59.0" cy="19.2" r="0.4" fill="#b286b0"/>
<circle cx="13.1" cy="10.8" r="0.8" fill="#6e4088"/>
<circle cx="62.3" cy="52.6" r="0.4" fill="#b286b0"/>
<circle cx="50.7" cy="31.9" r="0.4" fill="#7c4c93"/>
<circle cx="25.4" cy="9.9" r="0.5" fill="#b286b0"/>
<circle cx="25.0" cy="40.2" r="0.5" fill="#6e4088"/>
<circle cx="26.8" cy="4.7" r="0.5" fill="#b286b0"/>
<circle cx="28.4" cy="82.8" r="0.7" fill="#b286b0"/>
<circle cx="6.2" cy="60.6" r="0.6" fill="#6e4088"/>
<circle cx="57.0" cy="75.8" r="0.6" fill="#7c4c93"/>
<circle cx="60.0" cy="11.8" r="0.6" fill="#b286b0"/>
<circle cx="30.3" cy="58.6" r="0.6" fill="#7c4c93"/>
<circle cx="39.9" cy="46.4" r="0.5" fill="#a77aa8"/>
<circle cx="53.1" cy="17.6" r="0.4" fill="#6e4088"/>
<circle cx="57.4" cy="92.8" r="0.5" fill="#7c4c93"/>
<circle cx="26.0" cy="50.5" r="0.4" fill="#7c4c93"/>
<circle cx="46.1" cy="47.7" r="0.5" fill="#7c4c93"/>
<circle cx="57.1" cy="47.5" r="0.5" fill="#a77aa8"/>
<circle cx="41.5" cy="77.7" r="0.4" fill="#6e4088"/>
<circle cx="73.6" cy="90.9" r="0.5" fill="#b286b0"/>
<circle cx="16.7" cy="79.7" r="0.7" fill="#6e4088"/>
<circle cx="22.0" cy="35.6" r="0.7" fill="#6e4088"/>
<circle cx="62.5" cy="21.2" r="0.7" fill="#a77aa8"/>
<circle cx="41.1" cy="65.6" r="0.6" fill="#b286b0"/>
<circle cx="34.2" cy="74.8" r="0.5" fill="#b286b0"/>
<circle cx="34.4" cy="9.1" r="0.6" fill="#a77aa8"/>
<circle cx="0.1" cy="76.6" r="0.5" fill="#6e4088"/>
<circle cx="28.4" cy="82.1" r="0.6" fill="#6e4088"/>
<circle cx="37.5" cy="2.7" r="0.6" fill="#a77aa8"/>
<circle cx="37.7" cy="74.3" r="0.8" fill="#7c4c93"/>
<circle cx="47.9" cy="36.2" r="0.7" fill="#6e4088"/>
<circle cx="68.6" cy="72.8" r="0.6" fill="#7c4c93"/>
<circle cx="54.2" cy="84.0" r="0.6" fill="#7c4c93"/>
<circle cx="12.0" cy="60.6" r="0.4" fill="#6e4088"/>
<circle cx="52.2" cy="39.0" r="0.4" fill="#7c4c93"/>
<circle cx="41.0" cy="92.6" r="0.4" fill="#6e4088"/>
<circle cx="75.6" cy="83.4" r="0.6" fill="#b286b0"/>
<circle cx="60.0" cy="92.9" r="0.5" fill="#b286b0"/>
<circle cx="46.5" cy="25.6" r="0.5" fill="#a77aa8"/>
<circle cx="8.5" cy="92.0" r="0.4" fill="#a77aa8"/>
<circle cx="54.4" cy="8.2" r="0.6" fill="#b286b0"/>
<circle cx="54.2" cy="18.4" r="0.7" fill="#b286b0"/>
<circle cx="53.9" cy="37.2" r="0.7" fill="#6e4088"/>
<circle cx="36.7" cy="78.6" r="0.4" fill="#a77aa8"/>
<circle cx="28.0" cy="66.6" r="0.6" fill="#a77aa8"/>
<circle cx="10.2" cy="18.2" r="0.5" fill="#7c4c93"/>
<circle cx="75.7" cy="49.7" r="0.5" fill="#7c4c93"/>
<circle cx="57.9" cy="42.5" r="0.4" fill="#b286b0"/>
<circle cx="3.6" cy="90.5" r="0.8" fill="#b286b0"/>
<circle cx="6.8" cy="79.2" r="0.4" fill="#7c4c93"/>
<circle cx="17.8" cy="60.6" r="0.7" fill="#a77aa8"/>
<circle cx="53.5" cy="39.8" r="0.7" fill="#a77aa8"/>
<circle cx="73.8" cy="30.1" r="0.7" fill="#7c4c93"/>
<circle cx="36.2" cy="72.1" r="0.5" fill="#a77aa8"/>
<circle cx="54.0" cy="2.8" r="0.7" fill="#b286b0"/>
<circle cx="0.1" cy="35.7" r="0.6" fill="#7c4c93"/>
<circle cx="29.8" cy="28.2" r="0.5" fill="#6e4088"/>
<circle cx="29.4" cy="9.1" r="0.4" fill="#a77aa8"/>
<circle cx="27.7" cy="26.6" r="0.6" fill="#7c4c93"/>
<circle cx="8.9" cy="88.2" r="0.5" fill="#6e4088"/>
<circle cx="65.6" cy="92.7" r="0.6" fill="#7c4c93"/>
<circle cx="34.8" cy="73.0" r="0.4" fill="#7c4c93"/>
<circle cx="20.2" cy="24.1" r="0.7" fill="#b286b0"/>
<circle cx="69.2" cy="39.2" r="0.5" fill="#6e4088"/>
<circle cx="65.5" cy="73.8" r="0.5" fill="#b286b0"/>
<circle cx="43.1" cy="22.1" r="0.5" fill="#a77aa8"/>
<circle cx="0.8" cy="61.3" r="0.8" fill="#6e4088"/>
<circle cx="48.2" cy="45.0" r="0.6" fill="#b286b0"/>
<circle cx="63.0" cy="54.7" r="0.5" fill="#b286b0"/>
<circle cx="65.2" cy="54.2" r="0.4" fill="#a77aa8"/>
<circle cx="45.1" cy="0.1" r="0.5" fill="#a77aa8"/>
<circle cx="31.2" cy="35.2" r="0.4" fill="#b286b0"/>
<circle cx="48.4" cy="75.3" r="0.4" fill="#b286b0"/>
<circle cx="21.3" cy="57.3" r="0.7" fill="#6e4088"/>
<circle cx="48.4" cy="60.6" r="0.7" fill="#b286b0"/>
<circle cx="51.5" cy="77.0" r="0.4" fill="#7c4c93"/>
<circle cx="14.1" cy="68.3" r="0.8" fill="#6e4088"/>
<circle cx="20.9" cy="20.4" r="0.4" fill="#a77aa8"/>
<circle cx="60.4" cy="90.8" r="0.5" fill="#6e4088"/>
<circle cx="54.0" cy="14.4" r="0.8" fill="#7c4c93"/>
<circle cx="69.1" cy="19.1" r="0.6" fill="#b286b0"/>
<circle cx="2.9" cy="87.9" r="0.5" fill="#a77aa8"/>
<circle cx="69.3" cy="42.7" r="0.6" fill="#6e4088"/>
<circle cx="25.8" cy="76.4" r="0.4" fill="#a77aa8"/>
<circle cx="27.7" cy="53.7" r="0.5" fill="#6e4088"/>
<circle cx="13.8" cy="82.1" r="0.7" fill="#6e4088"/>
<circle cx="31.8" cy="7.2" r="0.6" fill="#b286b0"/>
<circle cx="66.4" cy="23.6" r="0.6" fill="#6e4088"/>
<circle cx="62.3" cy="3.5" r="0.8" fill="#7c4c93"/>
<circle cx="70.3" cy="41.4" r="0.7" fill="#7c4c93"/>
<circle cx="73.9" cy="22.3" r="0.7" fill="#7c4c93"/>
<circle cx="54.9" cy="8.6" r="0.7" fill="#7c4c93"/>
<circle cx="10.0" cy="0.5" r="0.4" fill="#b286b0"/>
<circle cx="45.5" cy="20.6" r="0.6" fill="#a77aa8"/>
<circle cx="37.4" cy="44.2" r="0.4" fill="#b286b0"/>
<circle cx="58.6" cy="53.6" r="0.5" fill="#7c4c93"/>
<circle cx="26.5" cy="0.4" r="0.8" fill="#b286b0"/>
<circle cx="51.8" cy="67.0" r="0.6" fill="#6e4088"/>
<circle cx="31.6" cy="53.7" r="0.7" fill="#a77aa8"/>
<circle cx="20.2" cy="7.9" r="0.6" fill="#a77aa8"/>
<circle cx="2.4" cy="87.9" r="0.5" fill="#b286b0"/>
<circle cx="14.6" cy="21.5" r="0.8" fill="#a77aa8"/>
<circle cx="32.4" cy="73.0" r="0.5" fill="#7c4c93"/>
<circle cx="12.9" cy="27.1" r="0.8" fill="#6e4088"/>
<circle cx="46.9" cy="77.3" r="0.4" fill="#7c4c93"/>
<circle cx="19.2" cy="45.3" r="0.6" fill="#6e4088"/>
<circle cx="40.1" cy="92.5" r="0.4" fill="#6e4088"/>
<circle cx="54.5" cy="34.2" r="0.7" fill="#b286b0"/>
<circle cx="47.9" cy="76.6" r="0.5" fill="#a77aa8"/>
<circle cx="73.2" cy="28.5" r="0.4" fill="#b286b0"/>
<circle cx="24.5" cy="65.8" r="0.7" fill="#b286b0"/>
<circle cx="66.8" cy="7.5" r="0.4" fill="#b286b0"/>
<circle cx="33.5" cy="88.7" r="0.5" fill="#b286b0"/>
<circle cx="58.5" cy="90.8" r="0.7" fill="#6e4088"/>
<circle cx="65.0" cy="23.9" r="0.5" fill="#a77aa8"/>
<circle cx="67.9" cy="12.0" r="0.6" fill="#6e4088"/>
<circle cx="53.5" cy="47.1" r="0.7" fill="#7c4c93"/>
<circle cx="63.7" cy="21.9" r="0.6" fill="#a77aa8"/>
<circle cx="34.7" cy="84.3" r="0.8" fill="#b286b0"/>
<circle cx="43.5" cy="18.5" r="0.7" fill="#6e4088"/>
<circle cx="20.7" cy="51.4" r="0.6" fill="#a77aa8"/>
<circle cx="40.0" cy="27.5" r="0.8" fill="#b286b0"/>
<circle cx="36.8" cy="19.1" r="0.6" fill="#b286b0"/>
<circle cx="2.8" cy="26.3" r="0.4" fill="#b286b0"/>
<circle cx="68.1" cy="46.9" r="0.4" fill="#a77aa8"/>
<circle cx="45.4" cy="1.5" r="0.8" fill="#b286b0"/>
<circle cx="32.0" cy="75.6" r="0.6" fill="#a77aa8"/>
<circle cx="15.0" cy="8.9" r="0.5" fill="#b286b0"/>
<circle cx="14.8" cy="72.9" r="0.8" fill="#a77aa8"/>
<circle cx="36.0" cy="35.6" r="0.6" fill="#6e4088"/>
<circle cx="11.7" cy="26.9" r="0.7" fill="#7c4c93"/>
<circle cx="52.2" cy="18.9" r="0.4" fill="#a77aa8"/>
<circle cx="51.2" cy="8.1" r="0.7" fill="#b286b0"/>
<circle cx="38.6" cy="55.6" r="0.7" fill="#a77aa8"/>
<circle cx="52.9" cy="16.0" r="0.6" fill="#b286b0"/>
<circle cx="27.8" cy="9.4" r="0.7" fill="#7c4c93"/>
<circle cx="69.9" cy="1.0" r="0.7" fill="#7c4c93"/>
<circle cx="15.9" cy="84.8" r="0.5" fill="#a77aa8"/>
<circle cx="11.7" cy="39.9" r="0.7" fill="#b286b0"/>
<circle cx="10.5" cy="68.0" r="0.6" fill="#7c4c93"/>
<circle cx="19.2" cy="81.0" r="0.6" fill="#a77aa8"/>
<circle cx="69.5" cy="17.4" r="0.7" fill="#b286b0"/>
<circle cx="23.5" cy="89.6" r="0.4" fill="#b286b0"/>
<circle cx="7.0" cy="70.2" r="0.6" fill="#b286b0"/>
<circle cx="4.5" cy="72.8" r="0.4" fill="#b286b0"/>
<circle cx="46.7" cy="24.5" r="0.6" fill="#7c4c93"/>
<circle cx="31.6" cy="13.8" r="0.7" fill="#a77aa8"/>
<circle cx="24.5" cy="13.4" r="0.7" fill="#6e4088"/>
<circle cx="65.9" cy="39.0" r="0.6" fill="#a77aa8"/>
<circle cx="40.2" cy="27.7" r="0.6" fill="#b286b0"/>
<circle cx="25.9" cy="61.5" r="0.5" fill="#b286b0"/>
<circle cx="22.1" cy="1.8" r="0.4" fill="#6e4088"/>
<circle cx="9.8" cy="14.7" r="0.8" fill="#6e4088"/>
<circle cx="9.7" cy="37.6" r="0.6" fill="#7c4c93"/>
<circle cx="36.8" cy="56.4" r="0.6" fill="#6e4088"/>
<circle cx="3.0" cy="85.6" r="0.7" fill="#6e4088"/>
<circle cx="47.9" cy="16.4" r="0.5" fill="#7c4c93"/>
<circle cx="50.3" cy="25.7" r="0.7" fill="#6e4088"/>
<circle cx="42.1" cy="73.6" r="0.6" fill="#a77aa8"/>
<circle cx="73.4" cy="72.7" r="0.4" fill="#7c4c93"/>
<circle cx="62.8" cy="36.6" r="0.7" fill="#7c4c93"/>
<circle cx="29.7" cy="20.0" r="0.5" fill="#a77aa8"/>
<circle cx="31.5" cy="75.5" r="0.5" fill="#b286b0"/>
<circle cx="73.1" cy="62.2" r="0.7" fill="#6e4088"/>
<circle cx="7.2" cy="36.6" r="0.7" fill="#a77aa8"/>
<circle cx="65.7" cy="76.1" r="0.5" fill="#7c4c93"/>
<circle cx="28.6" cy="40.5" r="0.7" fill="#7c4c93"/>
<circle cx="33.4" cy="37.9" r="0.7" fill="#b286b0"/>
<circle cx="19.9" cy="47.7" r="0.7" fill="#6e4088"/>
<circle cx="25.7" cy="23.6" r="0.6" fill="#7c4c93"/>
<circle cx="39.7" cy="88.6" r="0.5" fill="#6e4088"/>
<circle cx="46.7" cy="72.6" r="0.4" fill="#a77aa8"/>
<circle cx="38.0" cy="10.0" r="0.4" fill="#7c4c93"/>
<circle cx="66.6" cy="21.5" r="0.4" fill="#b286b0"/>
<circle cx="6.0" cy="22.1" r="0.6" fill="#a77aa8"/>
<circle cx="41.1" cy="69.0" r="0.7" fill="#b286b0"/>
<circle cx="29.2" cy="75.2" r="0.7" fill="#a77aa8"/>
<circle cx="0.1" cy="11.9" r="0.5" fill="#6e4088"/>
<circle cx="60.5" cy="39.0" r="0.4" fill="#7c4c93"/>
<circle cx="19.9" cy="61.3" r="0.4" fill="#b286b0"/>
<circle cx="10.5" cy="9.8" r="0.5" fill="#7c4c93"/>
<circle cx="3.8" cy="14.9" r="0.5" fill="#7c4c93"/>
<circle cx="43.1" cy="78.2" r="0.6" fill="#b286b0"/>
<circle cx="17.4" cy="13.2" r="0.7" fill="#7c4c93"/>
<circle cx="60.5" cy="32.2" r="0.6" fill="#b286b0"/>
<circle cx="3.0" cy="67.2" r="0.7" fill="#7c4c93"/>
<circle cx="70.0" cy="44.3" r="0.6" fill="#6e4088"/>
<circle cx="44.0" cy="91.7" r="0.7" fill="#a77aa8"/>
<circle cx="68.3" cy="0.6" r="0.7" fill="#6e4088"/>
<circle cx="27.3" cy="91.2" r="0.5" fill="#7c4c93"/>
<circle cx="32.6" cy="28.0" r="0.4" fill="#6e4088"/>
<circle cx="43.4" cy="18.1" r="0.8" fill="#b286b0"/>
<circle cx="35.3" cy="38.3" r="0.6" fill="#7c4c93"/>
<circle cx="48.2" cy="24.6" r="0.6" fill="#7c4c93"/>
<circle cx="65.4" cy="9.7" r="0.7" fill="#a77aa8"/>
<circle cx="74.8" cy="89.2" r="0.5" fill="#b286b0"/>
<circle cx="44.9" cy="12.8" r="0.6" fill="#b286b0"/>
<circle cx="23.4" cy="9.9" r="0.4" fill="#7c4c93"/>
<circle cx="69.2" cy="19.4" r="0.6" fill="#7c4c93"/>
<circle cx="35.3" cy="27.5" r="0.4" fill="#b286b0"/>
<circle cx="32.4" cy="25.8" r="0.5" fill="#b286b0"/>
<circle cx="20.0" cy="18.8" r="0.4" fill="#b286b0"/>
<circle cx="28.9" cy="40.7" r="0.4" fill="#6e4088"/>
<circle cx="3.0" cy="49.3" r="0.4" fill="#7c4c93"/>
<circle cx="37.9" cy="66.8" r="0.4" fill="#7c4c93"/>
<circle cx="46.1" cy="77.1" r="0.8" fill="#a77aa8"/>
<circle cx="3.6" cy="57.2" r="0.7" fill="#7c4c93"/>
<circle cx="50.0" cy="32.0" r="0.5" fill="#a77aa8"/>
<circle cx="55.9" cy="63.4" r="0.5" fill="#7c4c93"/>
<circle cx="73.9" cy="84.6" r="0.4" fill="#b286b0"/>
<circle cx="10.1" cy="76.4" r="0.7" fill="#7c4c93"/>
<circle cx="44.8" cy="44.6" r="0.8" fill="#6e4088"/>
<circle cx="37.9" cy="86.6" r="0.7" fill="#6e4088"/>
<circle cx="14.1" cy="32.8" r="0.6" fill="#7c4c93"/>
<circle cx="61.3" cy="85.5" r="0.5" fill="#b286b0"/>
<circle cx="6.3" cy="40.4" r="0.6" fill="#7c4c93"/>
<circle cx="6.8" cy="54.3" r="0.7" fill="#a77aa8"/>
<circle cx="67.8" cy="41.5" r="0.5" fill="#b286b0"/>
<circle cx="67.0" cy="15.3" r="0.7" fill="#7c4c93"/>
<circle cx="27.5" cy="60.1" r="0.4" fill="#6e4088"/>
<circle cx="69.8" cy="90.3" r="0.7" fill="#b286b0"/>
<circle cx="52.3" cy="46.7" r="0.8" fill="#7c4c93"/>
</g>
<circle cx="68.0" cy="22.0" r="2.8" fill="none" stroke="#5e3182" stroke-width="0.9" opacity="0.7"/>
<circle cx="68.0" cy="22.0" r="0.8" fill="#c4aed6" opacity="0.8"/>
<circle cx="71.0" cy="31.0" r="3.0" fill="none" stroke="#5e3182" stroke-width="0.9" opacity="0.7"/>
<circle cx="71.0" cy="31.0" r="0.9" fill="#c4aed6" opacity="0.8"/>
<circle cx="67.0" cy="41.0" r="2.8" fill="none" stroke="#5e3182" stroke-width="0.9" opacity="0.7"/>
<circle cx="67.0" cy="41.0" r="0.8" fill="#c4aed6" opacity="0.8"/>
<circle cx="74.0" cy="45.0" r="3.0" fill="none" stroke="#5e3182" stroke-width="0.9" opacity="0.7"/>
<circle cx="74.0" cy="45.0" r="0.9" fill="#c4aed6" opacity="0.8"/>
<circle cx="69.0" cy="54.0" r="2.8" fill="none" stroke="#5e3182" stroke-width="0.9" opacity="0.7"/>
<circle cx="69.0" cy="54.0" r="0.8" fill="#c4aed6" opacity="0.8"/>
<circle cx="77.0" cy="60.0" r="3.2" fill="none" stroke="#5e3182" stroke-width="0.9" opacity="0.7"/>
<circle cx="77.0" cy="60.0" r="1.0" fill="#c4aed6" opacity="0.8"/>
<circle cx="71.0" cy="69.0" r="2.8" fill="none" stroke="#5e3182" stroke-width="0.9" opacity="0.7"/>
<circle cx="71.0" cy="69.0" r="0.8" fill="#c4aed6" opacity="0.8"/>
<circle cx="81.0" cy="73.0" r="3.0" fill="none" stroke="#5e3182" stroke-width="0.9" opacity="0.7"/>
<circle cx="81.0" cy="73.0" r="0.9" fill="#c4aed6" opacity="0.8"/>
<circle cx="63.0" cy="77.0" r="2.8" fill="none" stroke="#5e3182" stroke-width="0.9" opacity="0.7"/>
<circle cx="63.0" cy="77.0" r="0.8" fill="#c4aed6" opacity="0.8"/>
<circle cx="75.0" cy="83.0" r="3.0" fill="none" stroke="#5e3182" stroke-width="0.9" opacity="0.7"/>
<circle cx="75.0" cy="83.0" r="0.9" fill="#c4aed6" opacity="0.8"/>
<circle cx="86.0" cy="82.0" r="2.8" fill="none" stroke="#5e3182" stroke-width="0.9" opacity="0.7"/>
<circle cx="86.0" cy="82.0" r="0.8" fill="#c4aed6" opacity="0.8"/>
<circle cx="84.0" cy="90.0" r="2.8" fill="none" stroke="#5e3182" stroke-width="0.9" opacity="0.7"/>
<circle cx="84.0" cy="90.0" r="0.8" fill="#c4aed6" opacity="0.8"/>
<circle cx="10.0" cy="66.0" r="3.0" fill="none" stroke="#5e3182" stroke-width="0.9" opacity="0.7"/>
<circle cx="10.0" cy="66.0" r="0.9" fill="#c4aed6" opacity="0.8"/>
<circle cx="5.0" cy="74.0" r="2.8" fill="none" stroke="#5e3182" stroke-width="0.9" opacity="0.7"/>
<circle cx="5.0" cy="74.0" r="0.8" fill="#c4aed6" opacity="0.8"/>
<circle cx="14.0" cy="80.0" r="2.8" fill="none" stroke="#5e3182" stroke-width="0.9" opacity="0.7"/>
<circle cx="14.0" cy="80.0" r="0.8" fill="#c4aed6" opacity="0.8"/>
<circle cx="22.0" cy="88.0" r="2.8" fill="none" stroke="#5e3182" stroke-width="0.9" opacity="0.7"/>
<circle cx="22.0" cy="88.0" r="0.8" fill="#c4aed6" opacity="0.8"/>
<circle cx="7.0" cy="88.0" r="2.8" fill="none" stroke="#5e3182" stroke-width="0.9" opacity="0.7"/>
<circle cx="7.0" cy="88.0" r="0.8" fill="#c4aed6" opacity="0.8"/>
<path d="M60,-1 L93,-1 L93,4 C86,5 80,4 75,5 C79,12 81,24 82,36 C83,48 85,56 93,64 L93,74 C85,66 80,56 78,44 C76,30 74,16 64,6 Z" fill="#c47fa6"/>
<path d="M75,5 C80,4 86,5 93,4 L93,64 C86,57 83.5,48 82.5,36 C81.5,24 79.5,12 75,5 Z" fill="#d0e1ea"/>
<path d="M20,60 L28,59 L31,63 L25,66 Z" fill="none" stroke="#c0607f" stroke-width="0.9"/>
</g></g>
<rect x="209.9" y="319.1" width="92.3" height="92.1" fill="none" stroke="#808080" stroke-width="0.9"/>
<text transform="translate(62.00,313.60)" font-size="10.2" text-anchor="middle" font-weight="normal" fill="#111"  stroke="#111" stroke-width="0.15">Normal</text>
<text transform="translate(161.00,314.20)" font-size="10.4" text-anchor="middle" font-weight="normal" fill="#111"  stroke="#111" stroke-width="0.15">Isotype ctrl</text>
<text transform="translate(260.70,303.20)" font-size="10.4" text-anchor="middle" font-weight="normal" fill="#111"  stroke="#111" stroke-width="0.15">Anti-TIM-1 mAb</text>
<text transform="translate(260.70,315.40)" font-size="10.4" text-anchor="middle" font-weight="normal" fill="#111"  stroke="#111" stroke-width="0.15">(3D10)</text>
<text transform="translate(324.00,287.20)" font-size="16.3" text-anchor="start" font-weight="bold" fill="#000" >D</text>
<rect x="378.3" y="335.17" width="43.9" height="76.33" fill="#a2002a"/>
<rect x="444.4" y="363.95" width="43.8" height="47.55" fill="#2e4b7d"/>
<line x1="400.20" y1="335.17" x2="400.20" y2="325.40" stroke="#111" stroke-width="1.4"/>
<line x1="389.20" y1="325.40" x2="410.80" y2="325.40" stroke="#111" stroke-width="1.4"/>
<line x1="466.30" y1="363.95" x2="466.30" y2="357.02" stroke="#111" stroke-width="1.4"/>
<line x1="455.40" y1="357.02" x2="477.20" y2="357.02" stroke="#111" stroke-width="1.4"/>
<line x1="356.20" y1="305.50" x2="356.20" y2="411.50" stroke="#000" stroke-width="1.5"/>
<line x1="352.70" y1="411.50" x2="356.20" y2="411.50" stroke="#000" stroke-width="1.4"/>
<text transform="translate(348.50,415.40)" font-size="11" text-anchor="end" font-weight="normal" fill="#111"  stroke="#111" stroke-width="0.15">0</text>
<line x1="352.70" y1="385.80" x2="356.20" y2="385.80" stroke="#000" stroke-width="1.4"/>
<text transform="translate(348.50,389.70)" font-size="11" text-anchor="end" font-weight="normal" fill="#111"  stroke="#111" stroke-width="0.15">1</text>
<line x1="352.70" y1="360.10" x2="356.20" y2="360.10" stroke="#000" stroke-width="1.4"/>
<text transform="translate(348.50,364.00)" font-size="11" text-anchor="end" font-weight="normal" fill="#111"  stroke="#111" stroke-width="0.15">2</text>
<line x1="352.70" y1="334.40" x2="356.20" y2="334.40" stroke="#000" stroke-width="1.4"/>
<text transform="translate(348.50,338.30)" font-size="11" text-anchor="end" font-weight="normal" fill="#111"  stroke="#111" stroke-width="0.15">3</text>
<line x1="352.70" y1="308.70" x2="356.20" y2="308.70" stroke="#000" stroke-width="1.4"/>
<text transform="translate(348.50,312.60)" font-size="11" text-anchor="end" font-weight="normal" fill="#111"  stroke="#111" stroke-width="0.15">4</text>
<line x1="356.20" y1="411.50" x2="509.80" y2="411.50" stroke="#000" stroke-width="1.6"/>
<line x1="400.20" y1="411.50" x2="400.20" y2="415.70" stroke="#000" stroke-width="1.4"/>
<line x1="466.30" y1="411.50" x2="466.30" y2="415.70" stroke="#000" stroke-width="1.4"/>
<text transform="translate(334.00,358.00) rotate(-90) scale(0.645,1)" font-size="12.2" text-anchor="middle" font-weight="normal" fill="#111" stroke="#111" stroke-width="0.6" letter-spacing="0.7">GVHD histology score</text>
<text transform="translate(400.20,429.10)" font-size="10.5" text-anchor="middle" font-weight="normal" fill="#111"  stroke="#111" stroke-width="0.15">Isotype ctrl</text>
<text transform="translate(466.20,429.10)" font-size="10.5" text-anchor="middle" font-weight="normal" fill="#111"  stroke="#111" stroke-width="0.15">Anti-TIM-1</text>
<text transform="translate(466.20,441.30)" font-size="10.5" text-anchor="middle" font-weight="normal" fill="#111"  stroke="#111" stroke-width="0.15">mAb (3D10)</text>
<path d="M399.8,312.5 V308.4 H468.1 V312.2" stroke="#111" stroke-width="1.4" fill="none" stroke-linejoin="miter" stroke-linecap="butt"/>
<text transform="translate(434.20,307.80)" font-size="9.5" text-anchor="middle" font-weight="bold" fill="#000" >*</text>
<text transform="translate(11.30,479.20)" font-size="16.3" text-anchor="start" font-weight="bold" fill="#000" >E</text>
<line x1="55.50" y1="490.50" x2="55.50" y2="614.40" stroke="#000" stroke-width="1.5"/>
<line x1="51.90" y1="611.00" x2="234.70" y2="611.00" stroke="#000" stroke-width="1.6"/>
<line x1="51.90" y1="493.30" x2="55.50" y2="493.30" stroke="#000" stroke-width="1.4"/>
<text transform="translate(47.80,497.20)" font-size="11" text-anchor="end" font-weight="normal" fill="#111"  stroke="#111" stroke-width="0.15">100</text>
<line x1="51.90" y1="552.15" x2="55.50" y2="552.15" stroke="#000" stroke-width="1.4"/>
<text transform="translate(47.80,556.05)" font-size="11" text-anchor="end" font-weight="normal" fill="#111"  stroke="#111" stroke-width="0.15">50</text>
<line x1="51.90" y1="611.00" x2="55.50" y2="611.00" stroke="#000" stroke-width="1.4"/>
<text transform="translate(47.80,614.90)" font-size="11" text-anchor="end" font-weight="normal" fill="#111"  stroke="#111" stroke-width="0.15">0</text>
<line x1="55.50" y1="611.00" x2="55.50" y2="614.40" stroke="#000" stroke-width="1.4"/>
<text transform="translate(55.50,628.50)" font-size="11" text-anchor="middle" font-weight="normal" fill="#111"  stroke="#111" stroke-width="0.15">0</text>
<line x1="99.66" y1="611.00" x2="99.66" y2="614.40" stroke="#000" stroke-width="1.4"/>
<text transform="translate(99.66,628.50)" font-size="11" text-anchor="middle" font-weight="normal" fill="#111"  stroke="#111" stroke-width="0.15">20</text>
<line x1="143.82" y1="611.00" x2="143.82" y2="614.40" stroke="#000" stroke-width="1.4"/>
<text transform="translate(143.82,628.50)" font-size="11" text-anchor="middle" font-weight="normal" fill="#111"  stroke="#111" stroke-width="0.15">40</text>
<line x1="187.98" y1="611.00" x2="187.98" y2="614.40" stroke="#000" stroke-width="1.4"/>
<text transform="translate(187.98,628.50)" font-size="11" text-anchor="middle" font-weight="normal" fill="#111"  stroke="#111" stroke-width="0.15">60</text>
<line x1="232.14" y1="611.00" x2="232.14" y2="614.40" stroke="#000" stroke-width="1.4"/>
<text transform="translate(232.14,628.50)" font-size="11" text-anchor="middle" font-weight="normal" fill="#111"  stroke="#111" stroke-width="0.15">80</text>
<path d="M48.00,619.60 L51.50,627.10 L48.00,626.00 L44.50,627.10 Z" fill="#000"/>
<line x1="48.00" y1="623.60" x2="48.00" y2="628.90" stroke="#000" stroke-width="1.3"/>
<path d="M62.80,619.60 L66.30,627.10 L62.80,626.00 L59.30,627.10 Z" fill="#000"/>
<line x1="62.80" y1="623.60" x2="62.80" y2="628.90" stroke="#000" stroke-width="1.3"/>
<path d="M71.30,619.60 L74.80,627.10 L71.30,626.00 L67.80,627.10 Z" fill="#000"/>
<line x1="71.30" y1="623.60" x2="71.30" y2="628.90" stroke="#000" stroke-width="1.3"/>
<path d="M79.70,619.60 L83.20,627.10 L79.70,626.00 L76.20,627.10 Z" fill="#000"/>
<line x1="79.70" y1="623.60" x2="79.70" y2="628.90" stroke="#000" stroke-width="1.3"/>
<text transform="translate(20.40,551.00) rotate(-90) scale(0.67,1)" font-size="12.2" text-anchor="middle" font-weight="normal" fill="#111" stroke="#111" stroke-width="0.6" letter-spacing="0.7">Survival (%)</text>
<text transform="translate(145.40,646.50) scale(0.65,1)" font-size="12.2" text-anchor="middle" font-weight="normal" fill="#111" stroke="#111" stroke-width="0.6" letter-spacing="0.7">Days after transplantation</text>
<path d="M70.30,493.30 H70.90 V516.84 H73.30 V540.38 H77.70 V563.92 H136.80 V587.46 H210.06" stroke="#62a833" stroke-width="1.2" fill="none" stroke-linejoin="miter" stroke-linecap="butt"/>
<polygon points="68.10,519.18 74.10,519.18 71.10,513.98" fill="#62a833"/>
<polygon points="70.20,542.72 76.20,542.72 73.20,537.52" fill="#62a833"/>
<polygon points="74.60,566.26 80.60,566.26 77.60,561.06" fill="#62a833"/>
<polygon points="133.80,589.80 139.80,589.80 136.80,584.60" fill="#62a833"/>
<polygon points="207.06,589.80 213.06,589.80 210.06,584.60" fill="#62a833"/>
<path d="M71.50,493.30 H72.10 V501.19 H74.60 V508.95 H77.50 V540.38 H79.20 V548.27 H91.10 V556.03 H97.40 V563.92 H117.30 V571.81 H210.06" stroke="#2b4a80" stroke-width="1.2" fill="none" stroke-linejoin="miter" stroke-linecap="butt"/>
<polygon points="69.10,498.85 75.10,498.85 72.10,504.05" fill="#2b4a80"/>
<polygon points="71.60,506.61 77.60,506.61 74.60,511.81" fill="#2b4a80"/>
<polygon points="74.50,538.04 80.50,538.04 77.50,543.24" fill="#2b4a80"/>
<polygon points="76.40,545.93 82.40,545.93 79.40,551.13" fill="#2b4a80"/>
<polygon points="88.10,553.69 94.10,553.69 91.10,558.89" fill="#2b4a80"/>
<polygon points="94.40,561.58 100.40,561.58 97.40,566.78" fill="#2b4a80"/>
<polygon points="114.30,569.47 120.30,569.47 117.30,574.67" fill="#2b4a80"/>
<polygon points="207.06,569.47 213.06,569.47 210.06,574.67" fill="#2b4a80"/>
<path d="M55.5,493.30 H210.06" stroke="#ab1340" stroke-width="1.35" fill="none" stroke-linejoin="miter" stroke-linecap="butt"/>
<rect x="74.08" y="490.38" width="5.85" height="5.85" fill="none" stroke="#ab1340" stroke-width="1.15"/>
<rect x="77.38" y="490.38" width="5.85" height="5.85" fill="none" stroke="#ab1340" stroke-width="1.15"/>
<rect x="207.13" y="490.38" width="5.85" height="5.85" fill="none" stroke="#ab1340" stroke-width="1.15"/>
<path d="M217.4,568.4 H220.4 V590.4 H217.4" stroke="#111" stroke-width="1.4" fill="none" stroke-linejoin="miter" stroke-linecap="butt"/>
<text transform="translate(229.00,582.20)" font-size="10.5" text-anchor="middle" font-weight="normal" fill="#111" stroke="#111" stroke-width="0.15">ns</text>
<line x1="55.60" y1="668.30" x2="68.00" y2="668.30" stroke="#ab1340" stroke-width="1.2"/>
<rect x="58.88" y="665.38" width="5.85" height="5.85" fill="none" stroke="#ab1340" stroke-width="1.15"/>
<text transform="translate(71.70,670.90) scale(1.013,1)" font-size="10" text-anchor="start" font-weight="normal" fill="#111" stroke="#111" stroke-width="0.15">BM</text>
<line x1="55.60" y1="682.20" x2="68.00" y2="682.20" stroke="#2b4a80" stroke-width="1.2"/>
<polygon points="59.10,679.99 64.50,679.99 61.80,684.89" fill="#2b4a80"/>
<text transform="translate(71.70,684.80) scale(1.013,1)" font-size="10" text-anchor="start" font-weight="normal" fill="#111" stroke="#111" stroke-width="0.15">BM+Tcon into WT</text>
<line x1="55.60" y1="696.10" x2="68.00" y2="696.10" stroke="#62a833" stroke-width="1.2"/>
<polygon points="59.00,698.35 64.60,698.35 61.80,693.35" fill="#62a833"/>
<text transform="translate(71.70,698.70) scale(1.013,1)" font-size="10" text-anchor="start" font-weight="normal" fill="#111" stroke="#111" stroke-width="0.15">BM+Tcon into TIM-1<tspan font-size="7" dx="1" dy="-4.6">-/-</tspan></text>
<text transform="translate(260.60,479.20)" font-size="16.3" text-anchor="start" font-weight="bold" fill="#000" >F</text>
<line x1="305.00" y1="490.00" x2="305.00" y2="614.50" stroke="#000" stroke-width="1.5"/>
<line x1="301.40" y1="611.10" x2="483.80" y2="611.10" stroke="#000" stroke-width="1.6"/>
<line x1="301.40" y1="493.10" x2="305.00" y2="493.10" stroke="#000" stroke-width="1.4"/>
<text transform="translate(297.00,497.00)" font-size="11" text-anchor="end" font-weight="normal" fill="#111"  stroke="#111" stroke-width="0.15">100</text>
<line x1="301.40" y1="552.10" x2="305.00" y2="552.10" stroke="#000" stroke-width="1.4"/>
<text transform="translate(297.00,556.00)" font-size="11" text-anchor="end" font-weight="normal" fill="#111"  stroke="#111" stroke-width="0.15">50</text>
<line x1="301.40" y1="611.10" x2="305.00" y2="611.10" stroke="#000" stroke-width="1.4"/>
<text transform="translate(297.00,615.00)" font-size="11" text-anchor="end" font-weight="normal" fill="#111"  stroke="#111" stroke-width="0.15">0</text>
<line x1="305.00" y1="611.10" x2="305.00" y2="614.50" stroke="#000" stroke-width="1.4"/>
<text transform="translate(305.00,628.50)" font-size="11" text-anchor="middle" font-weight="normal" fill="#111"  stroke="#111" stroke-width="0.15">0</text>
<line x1="363.75" y1="611.10" x2="363.75" y2="614.50" stroke="#000" stroke-width="1.4"/>
<text transform="translate(363.75,628.50)" font-size="11" text-anchor="middle" font-weight="normal" fill="#111"  stroke="#111" stroke-width="0.15">20</text>
<line x1="422.50" y1="611.10" x2="422.50" y2="614.50" stroke="#000" stroke-width="1.4"/>
<text transform="translate(422.50,628.50)" font-size="11" text-anchor="middle" font-weight="normal" fill="#111"  stroke="#111" stroke-width="0.15">40</text>
<line x1="481.25" y1="611.10" x2="481.25" y2="614.50" stroke="#000" stroke-width="1.4"/>
<text transform="translate(481.25,628.50)" font-size="11" text-anchor="middle" font-weight="normal" fill="#111"  stroke="#111" stroke-width="0.15">60</text>
<path d="M298.00,620.20 L301.50,627.70 L298.00,626.60 L294.50,627.70 Z" fill="#000"/>
<line x1="298.00" y1="624.20" x2="298.00" y2="629.50" stroke="#000" stroke-width="1.3"/>
<path d="M312.50,620.20 L316.00,627.70 L312.50,626.60 L309.00,627.70 Z" fill="#000"/>
<line x1="312.50" y1="624.20" x2="312.50" y2="629.50" stroke="#000" stroke-width="1.3"/>
<path d="M324.30,620.20 L327.80,627.70 L324.30,626.60 L320.80,627.70 Z" fill="#000"/>
<line x1="324.30" y1="624.20" x2="324.30" y2="629.50" stroke="#000" stroke-width="1.3"/>
<path d="M334.50,620.20 L338.00,627.70 L334.50,626.60 L331.00,627.70 Z" fill="#000"/>
<line x1="334.50" y1="624.20" x2="334.50" y2="629.50" stroke="#000" stroke-width="1.3"/>
<text transform="translate(270.40,551.00) rotate(-90) scale(0.67,1)" font-size="12.2" text-anchor="middle" font-weight="normal" fill="#111" stroke="#111" stroke-width="0.6" letter-spacing="0.7">Survival (%)</text>
<text transform="translate(394.80,646.50) scale(0.65,1)" font-size="12.2" text-anchor="middle" font-weight="normal" fill="#111" stroke="#111" stroke-width="0.6" letter-spacing="0.7">Days after transpantation</text>
<path d="M352.00,493.10 H369.62 V507.85 H375.50 V522.60 H387.25 V537.35 H407.81 V552.10 H457.75" stroke="#2b4a80" stroke-width="1.2" fill="none" stroke-linejoin="miter" stroke-linecap="butt"/>
<circle cx="369.62" cy="507.85" r="2.9" fill="#2b4a80"/>
<circle cx="375.50" cy="522.60" r="2.9" fill="#2b4a80"/>
<circle cx="387.25" cy="537.35" r="2.9" fill="#2b4a80"/>
<circle cx="407.81" cy="552.10" r="2.9" fill="#2b4a80"/>
<circle cx="454.81" cy="552.10" r="2.9" fill="#2b4a80"/>
<circle cx="457.75" cy="552.10" r="2.9" fill="#2b4a80"/>
<path d="M305.00,493.10 H352.00 V507.85 H354.94 V522.60 H363.75 V537.35 H366.69 V552.10 H375.50 V566.85 H390.19 V581.60 H407.81 V596.35 H457.75" stroke="#ab1340" stroke-width="1.2" fill="none" stroke-linejoin="miter" stroke-linecap="butt"/>
<circle cx="352.00" cy="507.85" r="3.0" fill="none" stroke="#ab1340" stroke-width="1.2"/>
<circle cx="354.94" cy="522.60" r="3.0" fill="none" stroke="#ab1340" stroke-width="1.2"/>
<circle cx="363.75" cy="537.35" r="3.0" fill="none" stroke="#ab1340" stroke-width="1.2"/>
<circle cx="366.69" cy="552.10" r="3.0" fill="none" stroke="#ab1340" stroke-width="1.2"/>
<circle cx="375.50" cy="566.85" r="3.0" fill="none" stroke="#ab1340" stroke-width="1.2"/>
<circle cx="390.19" cy="581.60" r="3.0" fill="none" stroke="#ab1340" stroke-width="1.2"/>
<circle cx="407.81" cy="596.35" r="3.0" fill="none" stroke="#ab1340" stroke-width="1.2"/>
<circle cx="457.75" cy="596.35" r="3.0" fill="none" stroke="#ab1340" stroke-width="1.2"/>
<path d="M464.8,550.4 H468.3 V597.6 H464.8" stroke="#111" stroke-width="1.4" fill="none" stroke-linejoin="miter" stroke-linecap="butt"/>
<text transform="translate(474.70,577.10)" font-size="9.5" text-anchor="middle" font-weight="bold" fill="#000" >*</text>
<line x1="304.90" y1="668.40" x2="317.00" y2="668.40" stroke="#ab1340" stroke-width="1.2"/>
<circle cx="310.95" cy="668.40" r="3.0" fill="none" stroke="#ab1340" stroke-width="1.2"/>
<text transform="translate(321.00,671.00) scale(1.013,1)" font-size="10" text-anchor="start" font-weight="normal" fill="#111" stroke="#111" stroke-width="0.15">PBMC+Isotype ctrl</text>
<line x1="304.90" y1="683.40" x2="317.00" y2="683.40" stroke="#2b4a80" stroke-width="1.2"/>
<circle cx="310.95" cy="683.40" r="3.0" fill="#2b4a80"/>
<text transform="translate(321.00,686.00) scale(1.013,1)" font-size="10" text-anchor="start" font-weight="normal" fill="#111" stroke="#111" stroke-width="0.15">PBMC+anti-TIM-1 mAb (1D12)</text>
<rect x="0" y="0" width="520" height="711" fill="none" stroke="#000" stroke-width="3.0"/>
</svg>
</body></html>
